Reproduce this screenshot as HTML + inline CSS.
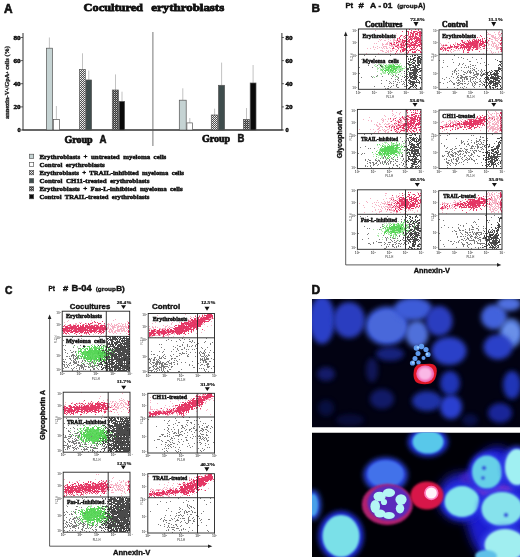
<!DOCTYPE html>
<html><head><meta charset="utf-8"><title>Cocultured erythroblasts</title>
<style>html,body{margin:0;padding:0;background:#fff;width:520px;height:557px;overflow:hidden}svg{display:block}text{font-family:"Liberation Sans",sans-serif;font-weight:bold}text.s{font-family:"Liberation Serif",serif}</style>
</head><body>
<svg width="520" height="557" viewBox="0 0 520 557">
<defs>
<pattern id="pat3" width="2" height="2" patternUnits="userSpaceOnUse"><rect width="2" height="2" fill="#505050"/><rect x="0" y="0" width="1" height="1" fill="#f4f4f4"/><rect x="1" y="1" width="1" height="1" fill="#d8d8d8"/></pattern>
<pattern id="pat5" width="2" height="2" patternUnits="userSpaceOnUse"><rect width="2" height="2" fill="#3a3a3a"/><rect x="0" y="0" width="1" height="1" fill="#c8c8c8"/><rect x="1" y="1" width="1" height="1" fill="#707070"/></pattern>
<filter id="b1" x="-50%" y="-50%" width="200%" height="200%"><feGaussianBlur stdDeviation="1.2"/></filter>
<filter id="b2" x="-50%" y="-50%" width="200%" height="200%"><feGaussianBlur stdDeviation="2.5"/></filter>
<filter id="b3" x="-50%" y="-50%" width="200%" height="200%"><feGaussianBlur stdDeviation="5"/></filter>
<filter id="bd" x="-5%" y="-5%" width="110%" height="110%"><feGaussianBlur stdDeviation="0.5"/></filter>
<filter id="b05" x="-50%" y="-50%" width="200%" height="200%"><feGaussianBlur stdDeviation="0.6"/></filter>
<clipPath id="cl1"><rect x="312" y="299" width="208" height="128.5"/></clipPath>
<clipPath id="cl2"><rect x="312" y="432.5" width="208" height="124.5"/></clipPath>
</defs>
<rect width="520" height="557" fill="#fff"/>
<text x="4" y="12.7" font-size="13.5" text-anchor="start" fill="#111" stroke="#111" stroke-width="0.68" textLength="8.6" lengthAdjust="spacingAndGlyphs" >A</text><text class="s" x="83.6" y="11.1" font-size="11.2" text-anchor="start" fill="#111" stroke="#111" stroke-width="0.78" textLength="59.4" lengthAdjust="spacingAndGlyphs" >Cocultured</text><text class="s" x="151.3" y="11.1" font-size="11.2" text-anchor="start" fill="#111" stroke="#111" stroke-width="0.78" textLength="72.9" lengthAdjust="spacingAndGlyphs" >erythroblasts</text><g stroke="#333" stroke-width="1" fill="none"><line x1="23" y1="33" x2="23" y2="130.0"/><line x1="281.9" y1="33" x2="281.9" y2="130.0"/></g><line x1="22.5" y1="130.0" x2="282.5" y2="130.0" stroke="#333" stroke-width="1.3"/><line x1="152.9" y1="32" x2="152.9" y2="146" stroke="#555" stroke-width="0.8"/><line x1="21" y1="130" x2="23" y2="130" stroke="#333" stroke-width="0.8"/><line x1="281.9" y1="130" x2="283.9" y2="130" stroke="#333" stroke-width="0.8"/><text class="s" x="20.6" y="132.1" font-size="6.4" text-anchor="end" fill="#111" stroke="#111" stroke-width="0.45" textLength="3.2" lengthAdjust="spacingAndGlyphs" >0</text><text class="s" x="285.5" y="132.1" font-size="6.4" text-anchor="start" fill="#111" stroke="#111" stroke-width="0.45" textLength="3.2" lengthAdjust="spacingAndGlyphs" >0</text><line x1="21" y1="106.9" x2="23" y2="106.9" stroke="#333" stroke-width="0.8"/><line x1="281.9" y1="106.9" x2="283.9" y2="106.9" stroke="#333" stroke-width="0.8"/><text class="s" x="20.6" y="109" font-size="6.4" text-anchor="end" fill="#111" stroke="#111" stroke-width="0.45" textLength="7.2" lengthAdjust="spacingAndGlyphs" >20</text><text class="s" x="285.5" y="109" font-size="6.4" text-anchor="start" fill="#111" stroke="#111" stroke-width="0.45" textLength="7.2" lengthAdjust="spacingAndGlyphs" >20</text><line x1="21" y1="83.7" x2="23" y2="83.7" stroke="#333" stroke-width="0.8"/><line x1="281.9" y1="83.7" x2="283.9" y2="83.7" stroke="#333" stroke-width="0.8"/><text class="s" x="20.6" y="85.8" font-size="6.4" text-anchor="end" fill="#111" stroke="#111" stroke-width="0.45" textLength="7.2" lengthAdjust="spacingAndGlyphs" >40</text><text class="s" x="285.5" y="85.8" font-size="6.4" text-anchor="start" fill="#111" stroke="#111" stroke-width="0.45" textLength="7.2" lengthAdjust="spacingAndGlyphs" >40</text><line x1="21" y1="60.6" x2="23" y2="60.6" stroke="#333" stroke-width="0.8"/><line x1="281.9" y1="60.6" x2="283.9" y2="60.6" stroke="#333" stroke-width="0.8"/><text class="s" x="20.6" y="62.7" font-size="6.4" text-anchor="end" fill="#111" stroke="#111" stroke-width="0.45" textLength="7.2" lengthAdjust="spacingAndGlyphs" >60</text><text class="s" x="285.5" y="62.7" font-size="6.4" text-anchor="start" fill="#111" stroke="#111" stroke-width="0.45" textLength="7.2" lengthAdjust="spacingAndGlyphs" >60</text><line x1="21" y1="37.5" x2="23" y2="37.5" stroke="#333" stroke-width="0.8"/><line x1="281.9" y1="37.5" x2="283.9" y2="37.5" stroke="#333" stroke-width="0.8"/><text class="s" x="20.6" y="39.6" font-size="6.4" text-anchor="end" fill="#111" stroke="#111" stroke-width="0.45" textLength="7.2" lengthAdjust="spacingAndGlyphs" >80</text><text class="s" x="285.5" y="39.6" font-size="6.4" text-anchor="start" fill="#111" stroke="#111" stroke-width="0.45" textLength="7.2" lengthAdjust="spacingAndGlyphs" >80</text><text class="s" transform="translate(9.3,82.5) rotate(-90)" font-size="5.6" text-anchor="middle" fill="#222" stroke="#222" stroke-width="0.3" textLength="73" lengthAdjust="spacingAndGlyphs">annexin-V<tspan dy="-1.5" font-size="3.5">+</tspan><tspan dy="1.5">/GpA</tspan><tspan dy="-1.5" font-size="3.5">+</tspan><tspan dy="1.5"> cells  (%)</tspan></text><line x1="49.4" y1="37.5" x2="49.4" y2="48.2" stroke="#999" stroke-width="0.6"/><rect x="46.4" y="48.2" width="6.1" height="81.8" fill="#c5d3d3" stroke="#555" stroke-width="0.7"/><line x1="56.4" y1="106" x2="56.4" y2="119.5" stroke="#999" stroke-width="0.6"/><rect x="53.4" y="119.5" width="6" height="10.5" fill="#fff" stroke="#555" stroke-width="0.7"/><line x1="82.5" y1="53.3" x2="82.5" y2="69.5" stroke="#999" stroke-width="0.6"/><rect x="79.5" y="69.5" width="5.8" height="60.5" fill="url(#pat3)" stroke="#555" stroke-width="0.7"/><line x1="88.8" y1="70.5" x2="88.8" y2="80" stroke="#999" stroke-width="0.6"/><rect x="86" y="80" width="5.6" height="50" fill="#3f4d4d" stroke="#555" stroke-width="0.7"/><line x1="115.5" y1="74.4" x2="115.5" y2="90" stroke="#999" stroke-width="0.6"/><rect x="112.3" y="90" width="6.2" height="40" fill="url(#pat5)" stroke="#555" stroke-width="0.7"/><line x1="122" y1="91.7" x2="122" y2="101.4" stroke="#999" stroke-width="0.6"/><rect x="119.2" y="101.4" width="5.4" height="28.6" fill="#0a0a0a" stroke="#555" stroke-width="0.7"/><line x1="182.8" y1="88.3" x2="182.8" y2="100.2" stroke="#999" stroke-width="0.6"/><rect x="179.3" y="100.2" width="6.9" height="29.8" fill="#c5d3d3" stroke="#555" stroke-width="0.7"/><line x1="189.8" y1="118" x2="189.8" y2="122.9" stroke="#999" stroke-width="0.6"/><rect x="186.9" y="122.9" width="5.6" height="7.1" fill="#fff" stroke="#555" stroke-width="0.7"/><line x1="214.6" y1="108.7" x2="214.6" y2="115" stroke="#999" stroke-width="0.6"/><rect x="211.3" y="115" width="6.5" height="15" fill="url(#pat3)" stroke="#555" stroke-width="0.7"/><line x1="221.6" y1="62.6" x2="221.6" y2="85.3" stroke="#999" stroke-width="0.6"/><rect x="218.5" y="85.3" width="6.1" height="44.7" fill="#3f4d4d" stroke="#555" stroke-width="0.7"/><line x1="246.5" y1="108" x2="246.5" y2="119.5" stroke="#999" stroke-width="0.6"/><rect x="243.5" y="119.5" width="5.9" height="10.5" fill="url(#pat5)" stroke="#555" stroke-width="0.7"/><line x1="253.1" y1="65" x2="253.1" y2="83" stroke="#999" stroke-width="0.6"/><rect x="250.2" y="83" width="5.8" height="47" fill="#0a0a0a" stroke="#555" stroke-width="0.7"/><text class="s" x="64.5" y="142.6" font-size="10" text-anchor="start" fill="#111" stroke="#111" stroke-width="0.7" textLength="28.2" lengthAdjust="spacingAndGlyphs" >Group</text><text x="99.6" y="142.6" font-size="10" text-anchor="start" fill="#111" stroke="#111" stroke-width="0.5" textLength="7" lengthAdjust="spacingAndGlyphs" >A</text><text class="s" x="201.9" y="142.3" font-size="10" text-anchor="start" fill="#111" stroke="#111" stroke-width="0.7" textLength="28.2" lengthAdjust="spacingAndGlyphs" >Group</text><text x="237.5" y="142.3" font-size="10" text-anchor="start" fill="#111" stroke="#111" stroke-width="0.5" textLength="6.9" lengthAdjust="spacingAndGlyphs" >B</text><rect x="29.5" y="154.2" width="4.2" height="4.2" fill="#c5d3d3" stroke="#444" stroke-width="0.6"/><text class="s" x="39.4" y="158.5" font-size="6.4" text-anchor="start" fill="#111" stroke="#111" stroke-width="0.45" textLength="126.9" lengthAdjust="spacingAndGlyphs" xml:space="preserve">Erythroblasts  +  untreated  myeloma  cells</text><rect x="29.5" y="162.3" width="4.2" height="4.2" fill="#fff" stroke="#444" stroke-width="0.6"/><text class="s" x="39.4" y="166.6" font-size="6.4" text-anchor="start" fill="#111" stroke="#111" stroke-width="0.45" textLength="65.4" lengthAdjust="spacingAndGlyphs" xml:space="preserve">Control  erythroblasts</text><rect x="29.5" y="170.6" width="4.2" height="4.2" fill="url(#pat3)" stroke="#444" stroke-width="0.6"/><text class="s" x="39.4" y="174.9" font-size="6.4" text-anchor="start" fill="#111" stroke="#111" stroke-width="0.45" textLength="144.6" lengthAdjust="spacingAndGlyphs" xml:space="preserve">Erythroblasts  +  TRAIL-inhibited  myeloma  cells</text><rect x="29.5" y="178.7" width="4.2" height="4.2" fill="#3f4d4d" stroke="#444" stroke-width="0.6"/><text class="s" x="39.4" y="183" font-size="6.4" text-anchor="start" fill="#111" stroke="#111" stroke-width="0.45" textLength="110" lengthAdjust="spacingAndGlyphs" xml:space="preserve">Control  CH11-treated  erythroblasts</text><rect x="29.5" y="186.7" width="4.2" height="4.2" fill="url(#pat5)" stroke="#444" stroke-width="0.6"/><text class="s" x="39.4" y="191" font-size="6.4" text-anchor="start" fill="#111" stroke="#111" stroke-width="0.45" textLength="143.3" lengthAdjust="spacingAndGlyphs" xml:space="preserve">Erythroblasts  +  Fas-L-inhibited  myeloma  cells</text><rect x="29.5" y="194.6" width="4.2" height="4.2" fill="#0a0a0a" stroke="#444" stroke-width="0.6"/><text class="s" x="39.4" y="198.9" font-size="6.4" text-anchor="start" fill="#111" stroke="#111" stroke-width="0.45" textLength="110" lengthAdjust="spacingAndGlyphs" xml:space="preserve">Control  TRAIL-treated  erythroblasts</text><text x="311.5" y="12" font-size="11.5" text-anchor="start" fill="#111" stroke="#111" stroke-width="0.58" textLength="8.5" lengthAdjust="spacingAndGlyphs" >B</text><text x="345.4" y="7.8" font-size="8" text-anchor="start" fill="#111" stroke="#111" stroke-width="0.4" textLength="7.6" lengthAdjust="spacingAndGlyphs" >Pt</text><text x="358.5" y="7.8" font-size="8" text-anchor="start" fill="#111" stroke="#111" stroke-width="0.4" textLength="5.3" lengthAdjust="spacingAndGlyphs" >#</text><text x="370" y="7.8" font-size="8" text-anchor="start" fill="#111" stroke="#111" stroke-width="0.4" textLength="6.2" lengthAdjust="spacingAndGlyphs" >A</text><text x="378.5" y="7.8" font-size="8" text-anchor="start" fill="#111" stroke="#111" stroke-width="0.4" textLength="2.6" lengthAdjust="spacingAndGlyphs" >-</text><text x="383" y="7.8" font-size="8" text-anchor="start" fill="#111" stroke="#111" stroke-width="0.4" textLength="9.3" lengthAdjust="spacingAndGlyphs" >01</text><text x="397.2" y="8.2" font-size="6" text-anchor="start" fill="#111" stroke="#111" stroke-width="0.3" textLength="20.4" lengthAdjust="spacingAndGlyphs" >(group</text><text x="418" y="8.2" font-size="6.8" text-anchor="start" fill="#111" stroke="#111" stroke-width="0.34" textLength="7.2" lengthAdjust="spacingAndGlyphs" >A)</text><text class="s" x="365" y="26.8" font-size="7.6" text-anchor="start" fill="#111" stroke="#111" stroke-width="0.53" textLength="37.3" lengthAdjust="spacingAndGlyphs" >Cocultures</text><text class="s" x="442" y="27.1" font-size="7.6" text-anchor="start" fill="#111" stroke="#111" stroke-width="0.53" textLength="25.9" lengthAdjust="spacingAndGlyphs" >Control</text><g stroke="#333" stroke-width="0.8" fill="none"><polyline points="345.7,35 345.7,264.9 498,264.9"/></g><polygon points="343.9,36 347.5,36 345.7,31.5" fill="#222"/><polygon points="497,263.1 497,266.7 501.3,264.9" fill="#222"/><text transform="translate(341.6,134.2) rotate(-90)" font-size="7" text-anchor="middle" fill="#111" stroke="#111" stroke-width="0.35" font-family="Liberation Sans, sans-serif" font-weight="bold" textLength="48" lengthAdjust="spacingAndGlyphs">Glycophorin A</text><text x="413.7" y="272.9" font-size="7.2" text-anchor="start" fill="#111" stroke="#111" stroke-width="0.36" textLength="36.3" lengthAdjust="spacingAndGlyphs" >Annexin-V</text><path d="M359 67.5h1M359 73.5h1M359 82.5h1M361 59.5h1M361 77.5h1M364 55.5h1M368 62.5h1M368 65.5h1M370 60.5h1M371 76.5h1M372 67.5h1M372 77.5h1M374 77.5h1M374 86.5h1M375 56.5h1M376 76.5h1M377 65.5h1M377 75.5h1M381 74.5h1M381 80.5h1M381 83.5h1M382 76.5h1M384 86.5h1M385 88.5h1M386 59.5h1M386 80.5h1M387 88.5h1M388 74.5h1M388 86.5h1M388 88.5h1M389 61.5h1M389 81.5h1M389 83.5h1M390 55.5h1M390 69.5h1M390 70.5h1M390 82.5h1M390 87.5h1M391 59.5h1M391 78.5h1M391 83.5h1M391 86.5h1M392 67.5h1M392 73.5h1M392 76.5h1M393 62.5h1M393 75.5h1M393 81.5h1M393 83.5h1M393 85.5h1M395 75.5h1M395 79.5h1M395 81.5h1M396 76.5h1M396 84.5h1M396 85.5h1M396 86.5h1M397 67.5h1M397 79.5h1M397 82.5h1M397 84.5h1M397 87.5h1M398 65.5h1M398 74.5h1M398 77.5h1M398 78.5h1M398 80.5h1M398 87.5h1M399 82.5h1M400 71.5h1M401 79.5h1M401 81.5h1M402 76.5h1M402 84.5h1M403 81.5h1M403 83.5h1M404 73.5h1M404 77.5h1M404 82.5h1M404 84.5h1M404 86.5h1M405 79.5h1M405 80.5h1M405 86.5h1M407 56.5h1M408 58.5h1M408 88.5h1M409 76.5h1M409 81.5h1M410 67.5h1M410 68.5h1M410 75.5h1M411 73.5h1M413 58.5h1M413 59.5h1M413 84.5h1M414 75.5h1M415 77.5h1M416 85.5h1M420 62.5h1M421 68.5h1" stroke="#444" stroke-width="1" stroke-opacity="0.7" fill="none"/><path d="M404 71.5h1M404 75.5h1M404 77.5h1M405 76.5h1M406 63.5h1M406 66.5h1M406 71.5h1M406 73.5h1M406 84.5h1M407 56.5h1M407 63.5h1M407 68.5h1M407 69.5h1M407 70.5h1M407 72.5h1M407 74.5h1M407 76.5h1M407 78.5h1M407 85.5h1M408 59.5h1M408 61.5h1M408 63.5h1M408 64.5h1M408 68.5h1M408 69.5h1M408 71.5h1M408 77.5h1M408 80.5h1M408 82.5h1M408 88.5h1M409 61.5h1M409 62.5h1M409 64.5h1M409 65.5h1M409 66.5h1M409 67.5h1M409 72.5h1M409 73.5h1M409 74.5h1M409 75.5h1M409 79.5h1M409 80.5h1M409 83.5h1M409 87.5h1M409 88.5h1M410 56.5h1M410 58.5h1M410 59.5h1M410 60.5h1M410 62.5h1M410 64.5h1M410 65.5h1M410 68.5h1M410 69.5h1M410 70.5h1M410 72.5h1M410 73.5h1M410 74.5h1M410 76.5h1M410 77.5h1M410 78.5h1M410 80.5h1M410 81.5h1M410 82.5h1M410 83.5h1M410 84.5h1M410 86.5h1M410 87.5h1M411 59.5h1M411 62.5h1M411 64.5h1M411 67.5h1M411 70.5h1M411 72.5h1M411 74.5h1M411 76.5h1M411 77.5h1M411 78.5h1M411 81.5h1M411 82.5h1M411 84.5h1M411 86.5h1M412 55.5h1M412 56.5h1M412 59.5h1M412 61.5h1M412 63.5h1M412 65.5h1M412 67.5h1M412 69.5h1M412 70.5h1M412 72.5h1M412 73.5h1M412 75.5h1M412 76.5h1M412 77.5h1M412 79.5h1M412 81.5h1M412 82.5h1M412 83.5h1M412 84.5h1M412 85.5h1M412 86.5h1M413 58.5h1M413 59.5h1M413 60.5h1M413 62.5h1M413 63.5h1M413 65.5h1M413 66.5h1M413 67.5h1M413 69.5h1M413 70.5h1M413 71.5h1M413 72.5h1M413 73.5h1M413 74.5h1M413 75.5h1M413 77.5h1M413 78.5h1M413 79.5h1M413 81.5h1M413 82.5h1M413 83.5h1M413 84.5h1M413 85.5h1M413 87.5h1M414 55.5h1M414 57.5h1M414 58.5h1M414 60.5h1M414 62.5h1M414 63.5h1M414 66.5h1M414 67.5h1M414 68.5h1M414 69.5h1M414 70.5h1M414 71.5h1M414 72.5h1M414 73.5h1M414 74.5h1M414 75.5h1M414 76.5h1M414 77.5h1M414 78.5h1M414 79.5h1M414 81.5h1M414 82.5h1M414 83.5h1M414 86.5h1M415 55.5h1M415 57.5h1M415 60.5h1M415 61.5h1M415 64.5h1M415 65.5h1M415 66.5h1M415 67.5h1M415 68.5h1M415 69.5h1M415 70.5h1M415 71.5h1M415 72.5h1M415 73.5h1M415 74.5h1M415 75.5h1M415 76.5h1M415 77.5h1M415 78.5h1M415 79.5h1M415 82.5h1M415 84.5h1M415 85.5h1M415 87.5h1M416 65.5h1M416 68.5h1M416 69.5h1M416 70.5h1M416 71.5h1M416 72.5h1M416 73.5h1M416 75.5h1M416 76.5h1M416 77.5h1M416 78.5h1M416 80.5h1M416 81.5h1M416 82.5h1M416 85.5h1M416 86.5h1M416 88.5h1M417 55.5h1M417 57.5h1M417 58.5h1M417 59.5h1M417 60.5h1M417 61.5h1M417 62.5h1M417 63.5h1M417 65.5h1M417 66.5h1M417 67.5h1M417 69.5h1M417 70.5h1M417 71.5h1M417 74.5h1M417 76.5h1M417 79.5h1M417 82.5h1M418 56.5h1M418 57.5h1M418 58.5h1M418 59.5h1M418 60.5h1M418 61.5h1M418 62.5h1M418 63.5h1M418 64.5h1M418 65.5h1M418 67.5h1M418 69.5h1M418 72.5h1M418 80.5h1M418 82.5h1M419 56.5h1M419 57.5h1M419 58.5h1M419 60.5h1M419 61.5h1M419 62.5h1M419 64.5h1M419 65.5h1M419 68.5h1M419 69.5h1M419 71.5h1M419 75.5h1M419 77.5h1M419 81.5h1M419 82.5h1M419 83.5h1M420 56.5h1M420 58.5h1M420 59.5h1M420 60.5h1M420 61.5h1M420 62.5h1M420 63.5h1M420 68.5h1M420 70.5h1M420 71.5h1M420 75.5h1M420 77.5h1M420 78.5h1M420 87.5h1M420 88.5h1M421 57.5h1M421 59.5h1M421 70.5h1M421 79.5h1M421 82.5h1" stroke="#222" stroke-width="1" stroke-opacity="0.82" fill="none"/><path d="M373 76.5h1M374 65.5h1M374 77.5h1M375 64.5h1M375 66.5h1M376 66.5h1M377 67.5h1M377 68.5h1M377 69.5h1M377 71.5h1M377 76.5h1M378 64.5h1M378 68.5h1M379 64.5h1M379 67.5h1M380 64.5h1M380 66.5h1M380 68.5h1M380 69.5h1M380 70.5h1M380 73.5h1M381 64.5h1M381 65.5h1M381 66.5h1M381 67.5h1M381 69.5h1M381 70.5h1M381 73.5h1M381 74.5h1M382 65.5h1M382 66.5h1M382 67.5h1M382 68.5h1M382 69.5h1M382 70.5h1M382 71.5h1M382 72.5h1M383 64.5h1M383 66.5h1M383 67.5h1M383 68.5h1M383 69.5h1M383 71.5h1M383 72.5h1M383 73.5h1M384 65.5h1M384 67.5h1M384 68.5h1M384 70.5h1M384 72.5h1M384 73.5h1M385 63.5h1M385 65.5h1M385 66.5h1M385 67.5h1M385 68.5h1M385 69.5h1M385 70.5h1M385 71.5h1M385 72.5h1M385 73.5h1M386 64.5h1M386 65.5h1M386 66.5h1M386 67.5h1M386 68.5h1M386 69.5h1M387 65.5h1M387 66.5h1M387 67.5h1M387 68.5h1M387 70.5h1M388 62.5h1M388 64.5h1M388 65.5h1M388 66.5h1M388 67.5h1M388 68.5h1M388 69.5h1M388 71.5h1M388 73.5h1M389 62.5h1M389 63.5h1M389 64.5h1M389 67.5h1M389 68.5h1M389 69.5h1M389 70.5h1M389 71.5h1M389 72.5h1M389 73.5h1M390 59.5h1M390 61.5h1M390 64.5h1M390 65.5h1M390 66.5h1M390 67.5h1M390 69.5h1M390 70.5h1M390 72.5h1M390 74.5h1M391 62.5h1M391 63.5h1M391 64.5h1M391 65.5h1M391 66.5h1M391 67.5h1M391 68.5h1M391 70.5h1M391 71.5h1M391 73.5h1M391 75.5h1M392 64.5h1M392 65.5h1M392 66.5h1M392 67.5h1M392 69.5h1M392 70.5h1M392 71.5h1M392 72.5h1M392 73.5h1M392 74.5h1M393 64.5h1M393 65.5h1M393 66.5h1M393 68.5h1M393 69.5h1M393 70.5h1M393 71.5h1M393 74.5h1M394 61.5h1M394 63.5h1M394 65.5h1M394 66.5h1M394 68.5h1M394 69.5h1M394 71.5h1M395 63.5h1M395 64.5h1M395 66.5h1M395 67.5h1M395 68.5h1M395 70.5h1M395 72.5h1M395 73.5h1M395 74.5h1M395 77.5h1M396 63.5h1M396 64.5h1M396 66.5h1M396 67.5h1M396 68.5h1M396 69.5h1M396 70.5h1M396 72.5h1M396 73.5h1M397 66.5h1M397 67.5h1M397 68.5h1M397 69.5h1M397 71.5h1M397 72.5h1M397 76.5h1M397 77.5h1M398 61.5h1M398 65.5h1M398 66.5h1M398 67.5h1M398 68.5h1M398 69.5h1M398 70.5h1M398 72.5h1M399 64.5h1M399 65.5h1M399 66.5h1M399 67.5h1M399 68.5h1M399 69.5h1M399 70.5h1M399 71.5h1M399 72.5h1M400 63.5h1M400 67.5h1M400 68.5h1M400 70.5h1M400 75.5h1M401 65.5h1M401 66.5h1M401 67.5h1M401 68.5h1M401 69.5h1M401 70.5h1M401 73.5h1M402 68.5h1M402 69.5h1M402 70.5h1M403 68.5h1M404 66.5h1M404 68.5h1M404 75.5h1M405 67.5h1M407 70.5h1M407 72.5h1M409 66.5h1M410 62.5h1" stroke="#98e698" stroke-width="1" stroke-opacity="0.8" fill="none"/><path d="M381 69.5h1M382 66.5h1M382 70.5h1M383 69.5h1M384 70.5h1M385 65.5h1M385 66.5h1M385 68.5h1M385 70.5h1M385 71.5h1M386 67.5h1M386 69.5h1M386 70.5h1M387 67.5h1M387 69.5h1M387 70.5h1M387 72.5h1M388 66.5h1M388 67.5h1M388 68.5h1M388 69.5h1M388 70.5h1M388 71.5h1M388 73.5h1M389 65.5h1M389 66.5h1M389 67.5h1M389 68.5h1M389 72.5h1M390 65.5h1M390 66.5h1M390 67.5h1M390 69.5h1M390 70.5h1M390 71.5h1M391 65.5h1M391 66.5h1M391 67.5h1M391 68.5h1M391 69.5h1M391 70.5h1M391 72.5h1M392 63.5h1M392 66.5h1M392 68.5h1M392 70.5h1M392 71.5h1M393 64.5h1M393 65.5h1M393 66.5h1M393 67.5h1M393 68.5h1M393 69.5h1M393 70.5h1M393 72.5h1M394 65.5h1M394 66.5h1M394 67.5h1M394 68.5h1M394 69.5h1M394 72.5h1M395 66.5h1M395 68.5h1M395 69.5h1M395 70.5h1M395 71.5h1M396 66.5h1M396 67.5h1M396 68.5h1M396 70.5h1M397 64.5h1M397 66.5h1M397 67.5h1M398 66.5h1M399 66.5h1M399 67.5h1M399 71.5h1M400 66.5h1M400 69.5h1M402 68.5h1" stroke="#48d248" stroke-width="1" stroke-opacity="0.85" fill="none"/><path d="M366 53.5h1M367 48.5h1M370 48.5h1M373 46.5h1M373 47.5h1M374 43.5h1M374 49.5h1M375 30.5h1M375 47.5h1M376 43.5h1M377 46.5h1M377 48.5h1M378 41.5h1M378 53.5h1M379 39.5h1M379 47.5h1M380 40.5h1M380 50.5h1M381 39.5h1M381 47.5h1M381 50.5h1M382 43.5h1M382 44.5h1M382 45.5h1M382 48.5h1M382 50.5h1M382 51.5h1M383 44.5h1M383 46.5h1M383 47.5h1M383 51.5h1M384 38.5h1M384 40.5h1M384 46.5h1M384 48.5h1M385 38.5h1M385 40.5h1M385 44.5h1M385 46.5h1M385 52.5h1M386 36.5h1M386 37.5h1M386 38.5h1M386 43.5h1M386 44.5h1M386 46.5h1M386 47.5h1M386 48.5h1M386 50.5h1M386 52.5h1M387 42.5h1M387 43.5h1M387 44.5h1M387 48.5h1M387 51.5h1M388 39.5h1M388 41.5h1M388 50.5h1M388 51.5h1M388 52.5h1M389 33.5h1M389 42.5h1M389 43.5h1M389 44.5h1M389 45.5h1M389 47.5h1M390 40.5h1M390 42.5h1M390 43.5h1M390 45.5h1M390 48.5h1M390 50.5h1M390 51.5h1M390 53.5h1M391 42.5h1M391 43.5h1M391 44.5h1M391 45.5h1M391 46.5h1M391 51.5h1M392 44.5h1M392 45.5h1M392 46.5h1M392 48.5h1M392 49.5h1M392 50.5h1M393 38.5h1M393 39.5h1M393 40.5h1M393 41.5h1M393 42.5h1M393 43.5h1M393 46.5h1M393 50.5h1M394 38.5h1M394 39.5h1M394 40.5h1M394 42.5h1M394 43.5h1M394 44.5h1M394 45.5h1M394 48.5h1M395 36.5h1M395 37.5h1M395 38.5h1M395 40.5h1M395 44.5h1M395 45.5h1M395 49.5h1M396 33.5h1M396 35.5h1M396 40.5h1M396 41.5h1M396 45.5h1M396 46.5h1M396 49.5h1M396 52.5h1M397 40.5h1M397 42.5h1M397 44.5h1M397 45.5h1M397 46.5h1M397 53.5h1M398 38.5h1M398 40.5h1M398 41.5h1M398 42.5h1M398 43.5h1M398 44.5h1M398 46.5h1M398 47.5h1M398 48.5h1M398 49.5h1M399 37.5h1M399 39.5h1M399 40.5h1M399 41.5h1M399 42.5h1M399 46.5h1M399 47.5h1M399 53.5h1M400 35.5h1M400 39.5h1M400 40.5h1M400 41.5h1M400 42.5h1M400 43.5h1M400 44.5h1M400 45.5h1M400 46.5h1M400 50.5h1M400 52.5h1M401 35.5h1M401 41.5h1M401 42.5h1M401 45.5h1M401 48.5h1M401 49.5h1M401 52.5h1M402 35.5h1M402 40.5h1M402 41.5h1M402 43.5h1M402 44.5h1M402 45.5h1M402 46.5h1M402 47.5h1M402 49.5h1M403 36.5h1M403 37.5h1M403 40.5h1M403 41.5h1M403 42.5h1M403 44.5h1M403 46.5h1M403 47.5h1M404 36.5h1M404 38.5h1M404 41.5h1M404 44.5h1M404 50.5h1M404 53.5h1M405 38.5h1M405 40.5h1M405 41.5h1M405 44.5h1M405 45.5h1M405 50.5h1M405 52.5h1M406 37.5h1M406 38.5h1M406 39.5h1M406 41.5h1M406 43.5h1M406 46.5h1M406 47.5h1M406 50.5h1M407 39.5h1M407 43.5h1M407 44.5h1M407 45.5h1M407 46.5h1M407 50.5h1M407 52.5h1M408 35.5h1M408 36.5h1M408 37.5h1M408 41.5h1M408 42.5h1M408 43.5h1M408 45.5h1M408 46.5h1M409 39.5h1M409 44.5h1M409 47.5h1M409 48.5h1M409 50.5h1M410 33.5h1M410 39.5h1M410 42.5h1M410 43.5h1M410 44.5h1M410 50.5h1M411 31.5h1M411 36.5h1M411 37.5h1M411 45.5h1M411 47.5h1M412 38.5h1M412 42.5h1M412 45.5h1M413 38.5h1M413 43.5h1M413 46.5h1M414 31.5h1M414 36.5h1M414 47.5h1M414 48.5h1M414 49.5h1M415 44.5h1M415 49.5h1M416 33.5h1M416 45.5h1M416 46.5h1M417 31.5h1M417 34.5h1M417 35.5h1M418 35.5h1M419 38.5h1M419 44.5h1M420 37.5h1M420 51.5h1M421 42.5h1" stroke="#f0809e" stroke-width="1" stroke-opacity="0.6" fill="none"/><path d="M390 43.5h1M391 43.5h1M391 44.5h1M392 48.5h1M393 44.5h1M393 47.5h1M393 48.5h1M394 42.5h1M394 44.5h1M395 46.5h1M395 53.5h1M396 42.5h1M396 43.5h1M396 46.5h1M396 51.5h1M397 38.5h1M397 39.5h1M397 40.5h1M397 42.5h1M397 45.5h1M397 47.5h1M397 50.5h1M398 41.5h1M398 44.5h1M398 45.5h1M398 48.5h1M399 37.5h1M399 38.5h1M399 41.5h1M400 36.5h1M400 39.5h1M400 44.5h1M400 47.5h1M400 50.5h1M400 51.5h1M401 35.5h1M401 43.5h1M401 44.5h1M401 45.5h1M401 46.5h1M401 47.5h1M402 31.5h1M402 39.5h1M402 40.5h1M402 41.5h1M402 42.5h1M402 45.5h1M402 47.5h1M402 49.5h1M402 50.5h1M402 51.5h1M403 40.5h1M403 42.5h1M403 43.5h1M403 44.5h1M403 45.5h1M403 47.5h1M403 48.5h1M403 49.5h1M403 50.5h1M403 51.5h1M404 36.5h1M404 38.5h1M404 40.5h1M404 41.5h1M404 42.5h1M404 45.5h1M404 46.5h1M404 48.5h1M404 49.5h1M404 50.5h1M405 35.5h1M405 37.5h1M405 40.5h1M405 41.5h1M405 43.5h1M405 44.5h1M405 48.5h1M405 49.5h1M406 31.5h1M406 35.5h1M406 40.5h1M406 41.5h1M406 42.5h1M406 44.5h1M406 45.5h1M406 47.5h1M407 31.5h1M407 35.5h1M407 39.5h1M407 41.5h1M407 43.5h1M407 44.5h1M407 46.5h1M407 47.5h1M407 50.5h1M407 53.5h1M408 31.5h1M408 32.5h1M408 33.5h1M408 34.5h1M408 38.5h1M408 40.5h1M408 41.5h1M408 44.5h1M408 46.5h1M408 51.5h1M408 52.5h1M409 29.5h1M409 36.5h1M409 37.5h1M409 39.5h1M409 40.5h1M409 41.5h1M409 42.5h1M409 44.5h1M409 45.5h1M409 46.5h1M409 47.5h1M409 50.5h1M410 32.5h1M410 34.5h1M410 35.5h1M410 36.5h1M410 37.5h1M410 38.5h1M410 39.5h1M410 43.5h1M410 45.5h1M410 46.5h1M410 49.5h1M410 50.5h1M411 30.5h1M411 32.5h1M411 33.5h1M411 36.5h1M411 38.5h1M411 39.5h1M411 40.5h1M411 42.5h1M411 43.5h1M411 44.5h1M411 45.5h1M411 47.5h1M411 49.5h1M412 33.5h1M412 34.5h1M412 35.5h1M412 36.5h1M412 37.5h1M412 39.5h1M412 41.5h1M412 42.5h1M412 44.5h1M412 45.5h1M412 48.5h1M412 49.5h1M412 51.5h1M412 52.5h1M413 31.5h1M413 32.5h1M413 33.5h1M413 34.5h1M413 35.5h1M413 36.5h1M413 38.5h1M413 42.5h1M413 44.5h1M413 45.5h1M413 47.5h1M413 49.5h1M413 52.5h1M414 31.5h1M414 32.5h1M414 37.5h1M414 38.5h1M414 39.5h1M414 41.5h1M414 43.5h1M414 44.5h1M414 45.5h1M414 46.5h1M414 47.5h1M414 49.5h1M414 51.5h1M414 52.5h1M415 29.5h1M415 31.5h1M415 33.5h1M415 34.5h1M415 35.5h1M415 36.5h1M415 37.5h1M415 38.5h1M415 40.5h1M415 41.5h1M415 42.5h1M415 43.5h1M415 44.5h1M415 45.5h1M415 48.5h1M415 51.5h1M415 52.5h1M416 31.5h1M416 33.5h1M416 34.5h1M416 36.5h1M416 37.5h1M416 38.5h1M416 39.5h1M416 40.5h1M416 41.5h1M416 42.5h1M416 43.5h1M416 45.5h1M416 47.5h1M416 50.5h1M417 32.5h1M417 33.5h1M417 34.5h1M417 37.5h1M417 38.5h1M417 39.5h1M417 40.5h1M417 41.5h1M417 43.5h1M417 45.5h1M417 46.5h1M417 49.5h1M418 29.5h1M418 30.5h1M418 32.5h1M418 37.5h1M418 38.5h1M418 39.5h1M418 40.5h1M418 42.5h1M418 44.5h1M418 45.5h1M418 50.5h1M419 31.5h1M419 32.5h1M419 33.5h1M419 34.5h1M419 35.5h1M419 36.5h1M419 38.5h1M419 39.5h1M419 40.5h1M419 41.5h1M419 42.5h1M419 44.5h1M419 45.5h1M419 46.5h1M419 50.5h1M420 31.5h1M420 32.5h1M420 33.5h1M420 34.5h1M420 35.5h1M420 36.5h1M420 37.5h1M420 38.5h1M420 39.5h1M420 40.5h1M420 41.5h1M420 42.5h1M420 43.5h1M420 44.5h1M420 46.5h1M420 48.5h1M420 51.5h1M420 52.5h1M421 32.5h1M421 33.5h1M421 35.5h1M421 40.5h1M421 43.5h1M421 44.5h1M421 45.5h1M421 47.5h1M421 48.5h1M421 49.5h1M421 52.5h1" stroke="#e01c50" stroke-width="1" stroke-opacity="0.85" fill="none"/><g stroke="#222" stroke-width="0.9" fill="none"><rect x="358.4" y="29" width="63.5" height="60.3"/><line x1="358.4" y1="54.3" x2="421.9" y2="54.3"/><line x1="406.5" y1="29" x2="406.5" y2="89.3"/></g><text x="358.4" y="93.5" font-size="3.4" text-anchor="middle" fill="#555">10<tspan dy="-1" font-size="2.4">0</tspan></text><line x1="358.4" y1="89.3" x2="358.4" y2="90.3" stroke="#444" stroke-width="0.5"/><text x="374.3" y="93.5" font-size="3.4" text-anchor="middle" fill="#555">10<tspan dy="-1" font-size="2.4">1</tspan></text><line x1="374.3" y1="89.3" x2="374.3" y2="90.3" stroke="#444" stroke-width="0.5"/><text x="390.1" y="93.5" font-size="3.4" text-anchor="middle" fill="#555">10<tspan dy="-1" font-size="2.4">2</tspan></text><line x1="390.1" y1="89.3" x2="390.1" y2="90.3" stroke="#444" stroke-width="0.5"/><text x="406" y="93.5" font-size="3.4" text-anchor="middle" fill="#555">10<tspan dy="-1" font-size="2.4">3</tspan></text><line x1="406" y1="89.3" x2="406" y2="90.3" stroke="#444" stroke-width="0.5"/><text x="421.9" y="93.5" font-size="3.4" text-anchor="middle" fill="#555">10<tspan dy="-1" font-size="2.4">4</tspan></text><line x1="421.9" y1="89.3" x2="421.9" y2="90.3" stroke="#444" stroke-width="0.5"/><text x="390.1" y="97.6" font-size="2.8" text-anchor="middle" fill="#666">FL1-H</text><text x="357.2" y="31.5" font-size="3.2" text-anchor="end" fill="#666">10<tspan dy="-1" font-size="2.3">1</tspan></text><text x="357.2" y="43.6" font-size="3.2" text-anchor="end" fill="#666">10<tspan dy="-1" font-size="2.3">1</tspan></text><text x="357.2" y="57.3" font-size="3.2" text-anchor="end" fill="#666">10<tspan dy="-1" font-size="2.3">1</tspan></text><text x="357.2" y="74.5" font-size="3.2" text-anchor="end" fill="#666">10<tspan dy="-1" font-size="2.3">1</tspan></text><text x="357.2" y="89.3" font-size="3.2" text-anchor="end" fill="#666">10<tspan dy="-1" font-size="2.3">1</tspan></text><text transform="translate(353.4,57.3) rotate(-90)" font-size="2.8" text-anchor="middle" fill="#777">FL2-H</text><rect x="361.7" y="33" width="34.8" height="5.8" fill="#fff"/><text class="s" x="362.5" y="37.6" font-size="5.8" text-anchor="start" fill="#111" stroke="#111" stroke-width="0.45" textLength="33.2" lengthAdjust="spacingAndGlyphs" xml:space="preserve">Erythroblasts</text><rect x="361.7" y="58" width="37.9" height="5.8" fill="#fff"/><text class="s" x="362.5" y="62.6" font-size="5.8" text-anchor="start" fill="#111" stroke="#111" stroke-width="0.45" textLength="36.3" lengthAdjust="spacingAndGlyphs" xml:space="preserve">Myeloma  cells</text><line x1="379.9" y1="65" x2="382.6" y2="67.2" stroke="#111" stroke-width="0.9"/><path d="M439 60.5h1M439 82.5h1M440 82.5h1M442 67.5h1M442 78.5h1M443 60.5h1M443 62.5h1M443 83.5h1M444 79.5h1M446 77.5h1M447 66.5h1M447 82.5h1M447 87.5h1M449 78.5h1M449 81.5h1M450 80.5h1M451 76.5h1M451 81.5h1M452 59.5h1M452 71.5h1M452 73.5h1M452 74.5h1M452 82.5h1M453 62.5h1M453 77.5h1M453 83.5h1M453 84.5h1M454 55.5h1M454 70.5h1M454 71.5h1M454 72.5h1M454 83.5h1M454 84.5h1M454 87.5h1M455 69.5h1M455 70.5h1M456 68.5h1M456 71.5h1M456 73.5h1M456 74.5h1M456 78.5h1M456 82.5h1M457 76.5h1M457 77.5h1M457 80.5h1M457 83.5h1M457 85.5h1M457 88.5h1M458 57.5h1M458 65.5h1M458 70.5h1M458 73.5h1M458 75.5h1M458 77.5h1M458 79.5h1M458 80.5h1M458 82.5h1M458 83.5h1M458 85.5h1M459 63.5h1M459 64.5h1M459 80.5h1M459 82.5h1M459 84.5h1M460 75.5h1M460 77.5h1M460 78.5h1M460 81.5h1M460 83.5h1M460 87.5h1M461 57.5h1M461 67.5h1M461 70.5h1M461 75.5h1M461 76.5h1M461 77.5h1M461 78.5h1M461 83.5h1M462 64.5h1M462 76.5h1M462 77.5h1M462 79.5h1M462 80.5h1M462 81.5h1M462 83.5h1M462 84.5h1M462 87.5h1M463 58.5h1M463 63.5h1M463 71.5h1M463 74.5h1M463 77.5h1M463 88.5h1M464 67.5h1M464 72.5h1M464 74.5h1M464 77.5h1M464 78.5h1M464 79.5h1M464 81.5h1M464 83.5h1M464 86.5h1M465 65.5h1M465 72.5h1M465 76.5h1M465 77.5h1M465 83.5h1M466 67.5h1M466 73.5h1M466 76.5h1M466 77.5h1M466 78.5h1M466 79.5h1M466 87.5h1M467 59.5h1M467 71.5h1M467 72.5h1M467 76.5h1M467 78.5h1M467 79.5h1M467 84.5h1M468 66.5h1M468 67.5h1M468 70.5h1M468 81.5h1M468 83.5h1M469 61.5h1M469 71.5h1M469 72.5h1M469 76.5h1M470 61.5h1M470 64.5h1M470 66.5h1M470 68.5h1M470 70.5h1M470 71.5h1M470 72.5h1M470 73.5h1M470 76.5h1M470 78.5h1M470 79.5h1M470 80.5h1M470 81.5h1M471 72.5h1M471 77.5h1M471 82.5h1M472 57.5h1M472 65.5h1M472 68.5h1M472 70.5h1M472 77.5h1M472 79.5h1M472 83.5h1M472 84.5h1M472 85.5h1M473 65.5h1M473 69.5h1M473 72.5h1M473 73.5h1M473 75.5h1M473 77.5h1M473 78.5h1M473 81.5h1M473 86.5h1M474 67.5h1M474 69.5h1M474 70.5h1M474 74.5h1M474 75.5h1M474 77.5h1M474 82.5h1M474 83.5h1M474 85.5h1M474 87.5h1M475 65.5h1M475 71.5h1M475 74.5h1M475 76.5h1M475 79.5h1M475 81.5h1M475 83.5h1M475 84.5h1M476 59.5h1M476 68.5h1M476 71.5h1M476 72.5h1M476 73.5h1M476 74.5h1M476 76.5h1M476 77.5h1M476 82.5h1M477 62.5h1M477 73.5h1M477 74.5h1M477 75.5h1M477 78.5h1M477 82.5h1M478 70.5h1M478 73.5h1M478 74.5h1M479 79.5h1M479 81.5h1M479 84.5h1M479 86.5h1M480 63.5h1M480 71.5h1M480 74.5h1M480 75.5h1M480 78.5h1M480 80.5h1M480 81.5h1M480 84.5h1M481 58.5h1M481 69.5h1M481 70.5h1M481 72.5h1M481 73.5h1M481 75.5h1M481 76.5h1M481 82.5h1M482 71.5h1M482 74.5h1M482 83.5h1M482 85.5h1M483 73.5h1M483 74.5h1M483 81.5h1M484 62.5h1M484 73.5h1M484 74.5h1M485 65.5h1M485 72.5h1M485 74.5h1M485 77.5h1M485 80.5h1M485 81.5h1M485 82.5h1M486 82.5h1M486 86.5h1M487 85.5h1M488 64.5h1M488 75.5h1M488 80.5h1M489 75.5h1M489 81.5h1M489 87.5h1M490 77.5h1M492 78.5h1M492 81.5h1M493 85.5h1M494 74.5h1M494 78.5h1M494 84.5h1M495 59.5h1M495 79.5h1M495 83.5h1M498 70.5h1M498 75.5h1M498 82.5h1M499 71.5h1M501 68.5h1" stroke="#444" stroke-width="1" stroke-opacity="0.7" fill="none"/><path d="M482 75.5h1M483 74.5h1M483 84.5h1M484 70.5h1M484 78.5h1M484 82.5h1M484 84.5h1M484 85.5h1M485 77.5h1M485 79.5h1M485 86.5h1M485 87.5h1M486 73.5h1M486 75.5h1M486 77.5h1M486 78.5h1M486 86.5h1M487 72.5h1M487 73.5h1M487 74.5h1M487 76.5h1M487 77.5h1M487 78.5h1M487 79.5h1M487 82.5h1M487 85.5h1M488 72.5h1M488 75.5h1M488 77.5h1M488 78.5h1M488 79.5h1M488 80.5h1M488 83.5h1M488 84.5h1M489 71.5h1M489 75.5h1M489 79.5h1M489 81.5h1M489 82.5h1M489 83.5h1M489 85.5h1M489 86.5h1M490 72.5h1M490 73.5h1M490 74.5h1M490 77.5h1M490 78.5h1M490 80.5h1M490 81.5h1M490 82.5h1M490 83.5h1M490 84.5h1M490 86.5h1M490 87.5h1M490 88.5h1M491 70.5h1M491 72.5h1M491 74.5h1M491 75.5h1M491 76.5h1M491 77.5h1M491 78.5h1M491 80.5h1M491 81.5h1M491 82.5h1M491 83.5h1M492 71.5h1M492 74.5h1M492 76.5h1M492 77.5h1M492 78.5h1M492 81.5h1M492 82.5h1M492 85.5h1M492 87.5h1M493 73.5h1M493 74.5h1M493 76.5h1M493 77.5h1M493 78.5h1M493 79.5h1M493 80.5h1M493 81.5h1M493 82.5h1M493 83.5h1M493 84.5h1M493 85.5h1M493 87.5h1M493 88.5h1M494 70.5h1M494 72.5h1M494 73.5h1M494 74.5h1M494 75.5h1M494 77.5h1M494 78.5h1M494 79.5h1M494 81.5h1M494 83.5h1M494 85.5h1M495 70.5h1M495 71.5h1M495 73.5h1M495 74.5h1M495 75.5h1M495 76.5h1M495 77.5h1M495 78.5h1M495 79.5h1M495 80.5h1M495 81.5h1M495 82.5h1M495 83.5h1M495 84.5h1M495 85.5h1M495 86.5h1M495 87.5h1M496 70.5h1M496 71.5h1M496 72.5h1M496 73.5h1M496 74.5h1M496 75.5h1M496 77.5h1M496 78.5h1M496 79.5h1M496 80.5h1M496 82.5h1M496 83.5h1M496 84.5h1M496 86.5h1M497 60.5h1M497 70.5h1M497 71.5h1M497 72.5h1M497 73.5h1M497 74.5h1M497 75.5h1M497 76.5h1M497 77.5h1M497 78.5h1M497 79.5h1M497 80.5h1M497 82.5h1M497 83.5h1M497 84.5h1M497 85.5h1M497 86.5h1M497 88.5h1M498 65.5h1M498 67.5h1M498 68.5h1M498 69.5h1M498 70.5h1M498 73.5h1M498 76.5h1M498 77.5h1M498 78.5h1M498 80.5h1M498 81.5h1M498 83.5h1M499 61.5h1M499 64.5h1M499 67.5h1M499 68.5h1M499 69.5h1M499 71.5h1M499 76.5h1M499 78.5h1M499 80.5h1M499 81.5h1M499 82.5h1M499 84.5h1M500 61.5h1M500 62.5h1M500 64.5h1M500 65.5h1M500 68.5h1M500 69.5h1M500 76.5h1M500 79.5h1M500 82.5h1M500 85.5h1M500 86.5h1M500 88.5h1M501 61.5h1M501 63.5h1M501 66.5h1M501 70.5h1M501 77.5h1M501 78.5h1M501 87.5h1" stroke="#222" stroke-width="1" stroke-opacity="0.82" fill="none"/><path d="M440 43.5h1M441 44.5h1M441 45.5h1M441 48.5h1M442 45.5h1M442 46.5h1M442 47.5h1M442 48.5h1M442 49.5h1M442 51.5h1M443 44.5h1M443 45.5h1M443 46.5h1M443 47.5h1M443 49.5h1M443 50.5h1M444 45.5h1M444 47.5h1M444 48.5h1M444 49.5h1M445 44.5h1M445 47.5h1M445 48.5h1M445 49.5h1M446 39.5h1M446 44.5h1M446 45.5h1M446 48.5h1M446 49.5h1M446 53.5h1M447 45.5h1M447 50.5h1M448 42.5h1M448 46.5h1M448 47.5h1M448 48.5h1M448 50.5h1M448 51.5h1M449 47.5h1M450 44.5h1M450 45.5h1M450 48.5h1M450 50.5h1M450 51.5h1M451 46.5h1M451 49.5h1M451 52.5h1M452 46.5h1M452 47.5h1M453 44.5h1M453 47.5h1M453 49.5h1M453 51.5h1M454 45.5h1M454 47.5h1M454 50.5h1M455 42.5h1M455 43.5h1M455 44.5h1M455 46.5h1M455 47.5h1M455 48.5h1M455 50.5h1M456 48.5h1M457 45.5h1M457 46.5h1M457 47.5h1M457 50.5h1M458 44.5h1M458 45.5h1M458 48.5h1M458 49.5h1M459 45.5h1M459 48.5h1M459 50.5h1M460 43.5h1M460 46.5h1M460 47.5h1M461 41.5h1M461 44.5h1M461 46.5h1M461 47.5h1M462 42.5h1M462 49.5h1M463 43.5h1M463 44.5h1M463 46.5h1M464 41.5h1M464 43.5h1M464 48.5h1M465 41.5h1M465 43.5h1M465 46.5h1M465 47.5h1M466 42.5h1M466 45.5h1M466 47.5h1M467 40.5h1M467 41.5h1M467 43.5h1M467 44.5h1M467 45.5h1M468 42.5h1M468 44.5h1M468 45.5h1M468 46.5h1M468 51.5h1M469 39.5h1M469 41.5h1M469 44.5h1M469 45.5h1M469 46.5h1M470 41.5h1M470 43.5h1M470 46.5h1M470 49.5h1M471 43.5h1M471 47.5h1M471 49.5h1M472 39.5h1M472 41.5h1M472 42.5h1M472 43.5h1M472 44.5h1M473 41.5h1M473 43.5h1M473 48.5h1M474 39.5h1M474 43.5h1M474 45.5h1M475 41.5h1M475 44.5h1M475 45.5h1M475 46.5h1M476 39.5h1M476 41.5h1M476 42.5h1M476 43.5h1M476 45.5h1M477 40.5h1M477 41.5h1M477 42.5h1M477 43.5h1M478 39.5h1M478 41.5h1M478 43.5h1M478 44.5h1M478 45.5h1M478 46.5h1M478 47.5h1M478 48.5h1M479 37.5h1M479 40.5h1M479 44.5h1M479 47.5h1M479 48.5h1M480 42.5h1M480 49.5h1M481 43.5h1M481 45.5h1M481 49.5h1M482 38.5h1M482 40.5h1M482 41.5h1M482 42.5h1M482 43.5h1M483 41.5h1M483 44.5h1M483 45.5h1M483 53.5h1M484 47.5h1M485 40.5h1M486 41.5h1M486 42.5h1M486 43.5h1M486 45.5h1M486 46.5h1M486 47.5h1M486 50.5h1M487 32.5h1M487 34.5h1M487 37.5h1M487 39.5h1M487 41.5h1M487 42.5h1M487 43.5h1M487 48.5h1M487 50.5h1M488 33.5h1M488 34.5h1M488 41.5h1M488 43.5h1M488 44.5h1M488 45.5h1M489 34.5h1M489 38.5h1M489 40.5h1M489 44.5h1M489 48.5h1M490 34.5h1M490 38.5h1M490 50.5h1M491 35.5h1M491 36.5h1M491 39.5h1M491 41.5h1M491 44.5h1M491 45.5h1M491 48.5h1M491 51.5h1M491 52.5h1M492 35.5h1M492 36.5h1M492 37.5h1M492 39.5h1M492 41.5h1M492 42.5h1M492 43.5h1M492 46.5h1M492 53.5h1M493 35.5h1M493 36.5h1M493 37.5h1M493 43.5h1M493 44.5h1M493 45.5h1M493 46.5h1M493 52.5h1M494 32.5h1M494 37.5h1M494 38.5h1M494 42.5h1M494 43.5h1M494 47.5h1M495 34.5h1M495 36.5h1M495 37.5h1M495 38.5h1M495 39.5h1M495 40.5h1M495 43.5h1M495 45.5h1M495 46.5h1M495 52.5h1M496 38.5h1M496 40.5h1M496 44.5h1M496 45.5h1M496 46.5h1M496 47.5h1M496 48.5h1M496 49.5h1M497 38.5h1M497 40.5h1M497 41.5h1M497 46.5h1M497 47.5h1M497 48.5h1M497 49.5h1M498 32.5h1M498 33.5h1M498 34.5h1M498 37.5h1M498 39.5h1M498 42.5h1M498 44.5h1M498 45.5h1M498 47.5h1M498 48.5h1M498 51.5h1M498 52.5h1M499 31.5h1M499 32.5h1M499 34.5h1M499 35.5h1M499 36.5h1M499 38.5h1M499 42.5h1M499 43.5h1M499 47.5h1M500 34.5h1M500 35.5h1M500 37.5h1M500 48.5h1M500 51.5h1M501 43.5h1M501 44.5h1M501 49.5h1" stroke="#f0809e" stroke-width="1" stroke-opacity="0.6" fill="none"/><path d="M440 48.5h1M440 49.5h1M441 47.5h1M441 49.5h1M442 48.5h1M443 45.5h1M443 47.5h1M443 50.5h1M444 48.5h1M445 45.5h1M445 48.5h1M445 49.5h1M445 50.5h1M446 45.5h1M447 47.5h1M447 48.5h1M447 50.5h1M448 47.5h1M448 50.5h1M449 47.5h1M449 48.5h1M450 45.5h1M450 46.5h1M450 47.5h1M451 46.5h1M451 47.5h1M451 49.5h1M452 46.5h1M453 44.5h1M454 45.5h1M454 46.5h1M454 47.5h1M455 46.5h1M456 46.5h1M456 47.5h1M456 48.5h1M457 43.5h1M457 44.5h1M457 46.5h1M457 47.5h1M458 44.5h1M458 46.5h1M458 48.5h1M459 44.5h1M460 43.5h1M460 45.5h1M460 47.5h1M460 48.5h1M461 40.5h1M461 44.5h1M461 45.5h1M461 46.5h1M461 47.5h1M462 40.5h1M462 41.5h1M462 42.5h1M462 44.5h1M462 45.5h1M462 47.5h1M462 48.5h1M463 42.5h1M463 44.5h1M463 45.5h1M463 46.5h1M463 47.5h1M463 50.5h1M463 51.5h1M463 52.5h1M464 42.5h1M464 43.5h1M464 45.5h1M464 46.5h1M464 47.5h1M464 48.5h1M464 49.5h1M465 43.5h1M465 44.5h1M465 46.5h1M465 47.5h1M466 43.5h1M466 44.5h1M466 45.5h1M466 46.5h1M466 47.5h1M466 48.5h1M467 40.5h1M467 43.5h1M467 44.5h1M467 45.5h1M467 46.5h1M467 47.5h1M467 49.5h1M467 50.5h1M467 52.5h1M468 41.5h1M468 42.5h1M468 43.5h1M468 44.5h1M468 45.5h1M468 46.5h1M468 47.5h1M468 48.5h1M468 49.5h1M468 50.5h1M468 52.5h1M469 40.5h1M469 42.5h1M469 43.5h1M469 44.5h1M469 46.5h1M469 47.5h1M469 48.5h1M469 49.5h1M469 50.5h1M470 41.5h1M470 42.5h1M470 43.5h1M470 44.5h1M470 45.5h1M470 46.5h1M470 47.5h1M470 48.5h1M471 42.5h1M471 43.5h1M471 44.5h1M471 45.5h1M471 46.5h1M472 40.5h1M472 41.5h1M472 42.5h1M472 43.5h1M472 44.5h1M472 45.5h1M472 47.5h1M472 49.5h1M472 50.5h1M473 39.5h1M473 41.5h1M473 42.5h1M473 43.5h1M473 44.5h1M473 45.5h1M473 46.5h1M473 47.5h1M473 48.5h1M474 39.5h1M474 40.5h1M474 41.5h1M474 42.5h1M474 43.5h1M474 44.5h1M474 45.5h1M474 46.5h1M474 47.5h1M475 40.5h1M475 41.5h1M475 42.5h1M475 43.5h1M475 44.5h1M475 45.5h1M475 46.5h1M475 47.5h1M475 49.5h1M476 38.5h1M476 39.5h1M476 40.5h1M476 41.5h1M476 42.5h1M476 43.5h1M476 44.5h1M476 45.5h1M476 46.5h1M476 47.5h1M476 48.5h1M476 49.5h1M477 37.5h1M477 41.5h1M477 42.5h1M477 43.5h1M477 44.5h1M477 45.5h1M477 46.5h1M477 47.5h1M477 48.5h1M477 49.5h1M478 39.5h1M478 40.5h1M478 41.5h1M478 42.5h1M479 40.5h1M479 43.5h1M479 44.5h1M479 45.5h1M479 46.5h1M479 51.5h1M480 35.5h1M480 39.5h1M480 40.5h1M480 41.5h1M480 42.5h1M480 43.5h1M480 44.5h1M480 45.5h1M480 47.5h1M481 36.5h1M481 41.5h1M481 43.5h1M481 44.5h1M481 45.5h1M482 38.5h1M482 39.5h1M482 40.5h1M482 41.5h1M482 42.5h1M482 43.5h1M482 44.5h1M482 46.5h1M483 41.5h1M483 42.5h1M483 43.5h1M483 46.5h1M483 48.5h1M484 38.5h1M484 42.5h1M484 44.5h1M484 45.5h1M484 46.5h1M484 48.5h1M485 40.5h1M485 41.5h1M485 42.5h1M485 45.5h1M486 40.5h1M486 42.5h1M486 43.5h1M486 45.5h1M487 42.5h1M488 40.5h1M489 38.5h1M500 40.5h1M500 43.5h1M500 44.5h1M500 47.5h1M500 49.5h1M501 33.5h1M501 37.5h1M501 38.5h1M501 39.5h1M501 40.5h1M501 42.5h1M501 43.5h1M501 45.5h1M501 47.5h1M501 48.5h1M501 49.5h1M501 50.5h1M501 51.5h1" stroke="#e01c50" stroke-width="1" stroke-opacity="0.85" fill="none"/><g stroke="#222" stroke-width="0.9" fill="none"><rect x="439" y="29.8" width="63.2" height="59.5"/><line x1="439" y1="54.3" x2="502.2" y2="54.3"/><line x1="486.5" y1="29.8" x2="486.5" y2="89.3"/></g><text x="439" y="93.5" font-size="3.4" text-anchor="middle" fill="#555">10<tspan dy="-1" font-size="2.4">0</tspan></text><line x1="439" y1="89.3" x2="439" y2="90.3" stroke="#444" stroke-width="0.5"/><text x="454.8" y="93.5" font-size="3.4" text-anchor="middle" fill="#555">10<tspan dy="-1" font-size="2.4">1</tspan></text><line x1="454.8" y1="89.3" x2="454.8" y2="90.3" stroke="#444" stroke-width="0.5"/><text x="470.6" y="93.5" font-size="3.4" text-anchor="middle" fill="#555">10<tspan dy="-1" font-size="2.4">2</tspan></text><line x1="470.6" y1="89.3" x2="470.6" y2="90.3" stroke="#444" stroke-width="0.5"/><text x="486.4" y="93.5" font-size="3.4" text-anchor="middle" fill="#555">10<tspan dy="-1" font-size="2.4">3</tspan></text><line x1="486.4" y1="89.3" x2="486.4" y2="90.3" stroke="#444" stroke-width="0.5"/><text x="502.2" y="93.5" font-size="3.4" text-anchor="middle" fill="#555">10<tspan dy="-1" font-size="2.4">4</tspan></text><line x1="502.2" y1="89.3" x2="502.2" y2="90.3" stroke="#444" stroke-width="0.5"/><text x="470.6" y="97.6" font-size="2.8" text-anchor="middle" fill="#666">FL1-H</text><text x="437.8" y="32.3" font-size="3.2" text-anchor="end" fill="#666">10<tspan dy="-1" font-size="2.3">1</tspan></text><text x="437.8" y="44" font-size="3.2" text-anchor="end" fill="#666">10<tspan dy="-1" font-size="2.3">1</tspan></text><text x="437.8" y="57.3" font-size="3.2" text-anchor="end" fill="#666">10<tspan dy="-1" font-size="2.3">1</tspan></text><text x="437.8" y="74.5" font-size="3.2" text-anchor="end" fill="#666">10<tspan dy="-1" font-size="2.3">1</tspan></text><text x="437.8" y="89.3" font-size="3.2" text-anchor="end" fill="#666">10<tspan dy="-1" font-size="2.3">1</tspan></text><text transform="translate(434,57.3) rotate(-90)" font-size="2.8" text-anchor="middle" fill="#777">FL2-H</text><rect x="441.5" y="33.4" width="35.3" height="5.8" fill="#fff"/><text class="s" x="442.3" y="38" font-size="5.8" text-anchor="start" fill="#111" stroke="#111" stroke-width="0.45" textLength="33.7" lengthAdjust="spacingAndGlyphs" xml:space="preserve">Erythroblasts</text><path d="M358 153.5h1M360 147.5h1M361 154.5h1M362 153.5h1M364 134.5h1M364 153.5h1M365 146.5h1M365 159.5h1M365 160.5h1M365 165.5h1M365 166.5h1M367 161.5h1M367 163.5h1M367 166.5h1M368 148.5h1M368 159.5h1M369 136.5h1M369 160.5h1M369 162.5h1M370 148.5h1M370 160.5h1M370 162.5h1M370 163.5h1M370 165.5h1M370 166.5h1M371 134.5h1M371 167.5h1M372 162.5h1M373 139.5h1M373 162.5h1M373 163.5h1M373 164.5h1M373 165.5h1M374 148.5h1M374 164.5h1M375 159.5h1M375 160.5h1M375 163.5h1M376 158.5h1M376 160.5h1M376 162.5h1M376 163.5h1M377 161.5h1M377 165.5h1M378 160.5h1M378 164.5h1M379 160.5h1M379 161.5h1M380 158.5h1M380 162.5h1M380 163.5h1M381 147.5h1M382 161.5h1M382 162.5h1M382 163.5h1M383 157.5h1M383 158.5h1M383 164.5h1M384 153.5h1M384 156.5h1M384 161.5h1M384 162.5h1M385 138.5h1M385 152.5h1M385 157.5h1M385 160.5h1M385 161.5h1M385 162.5h1M386 159.5h1M386 163.5h1M386 164.5h1M387 162.5h1M388 153.5h1M388 161.5h1M388 163.5h1M388 164.5h1M389 159.5h1M389 160.5h1M389 167.5h1M390 139.5h1M390 161.5h1M390 162.5h1M390 163.5h1M391 148.5h1M391 158.5h1M391 161.5h1M392 158.5h1M392 159.5h1M392 167.5h1M393 154.5h1M393 157.5h1M393 159.5h1M393 161.5h1M393 164.5h1M393 165.5h1M394 156.5h1M395 160.5h1M395 163.5h1M396 161.5h1M396 165.5h1M397 141.5h1M397 145.5h1M397 157.5h1M397 159.5h1M397 161.5h1M397 165.5h1M397 166.5h1M399 144.5h1M399 164.5h1M399 167.5h1M400 137.5h1M401 156.5h1M401 162.5h1M402 141.5h1M402 152.5h1M402 154.5h1M402 155.5h1M402 160.5h1M402 165.5h1M403 158.5h1M403 159.5h1M403 164.5h1M404 161.5h1M404 166.5h1M405 141.5h1M405 142.5h1M405 162.5h1M406 164.5h1M407 155.5h1M408 138.5h1M408 139.5h1M408 157.5h1M408 161.5h1M409 135.5h1M409 144.5h1M410 159.5h1M411 147.5h1M411 163.5h1M411 166.5h1M412 167.5h1M413 154.5h1M413 156.5h1M413 162.5h1M414 162.5h1M416 139.5h1M416 164.5h1M416 166.5h1M416 167.5h1" stroke="#444" stroke-width="1" stroke-opacity="0.7" fill="none"/><path d="M402 156.5h1M403 143.5h1M403 163.5h1M404 146.5h1M404 150.5h1M405 146.5h1M406 134.5h1M406 136.5h1M406 140.5h1M406 146.5h1M406 150.5h1M406 153.5h1M406 160.5h1M406 161.5h1M406 164.5h1M407 134.5h1M407 138.5h1M407 148.5h1M407 149.5h1M407 150.5h1M407 152.5h1M407 153.5h1M407 155.5h1M407 160.5h1M407 167.5h1M408 140.5h1M408 145.5h1M408 149.5h1M408 151.5h1M408 152.5h1M408 156.5h1M408 157.5h1M408 158.5h1M408 159.5h1M408 161.5h1M409 137.5h1M409 141.5h1M409 142.5h1M409 143.5h1M409 149.5h1M409 150.5h1M409 152.5h1M409 153.5h1M409 154.5h1M409 156.5h1M409 158.5h1M409 159.5h1M410 135.5h1M410 137.5h1M410 138.5h1M410 140.5h1M410 142.5h1M410 144.5h1M410 146.5h1M410 147.5h1M410 148.5h1M410 150.5h1M410 154.5h1M410 155.5h1M410 156.5h1M410 160.5h1M410 167.5h1M411 135.5h1M411 137.5h1M411 139.5h1M411 141.5h1M411 143.5h1M411 144.5h1M411 145.5h1M411 146.5h1M411 147.5h1M411 149.5h1M411 150.5h1M411 151.5h1M411 152.5h1M411 153.5h1M411 156.5h1M411 159.5h1M411 160.5h1M411 163.5h1M411 165.5h1M411 167.5h1M412 134.5h1M412 138.5h1M412 139.5h1M412 140.5h1M412 143.5h1M412 144.5h1M412 145.5h1M412 147.5h1M412 148.5h1M412 149.5h1M412 150.5h1M412 151.5h1M412 152.5h1M412 153.5h1M412 156.5h1M412 158.5h1M412 159.5h1M412 160.5h1M412 161.5h1M412 163.5h1M412 164.5h1M412 165.5h1M412 166.5h1M413 137.5h1M413 138.5h1M413 139.5h1M413 140.5h1M413 144.5h1M413 145.5h1M413 146.5h1M413 147.5h1M413 148.5h1M413 150.5h1M413 151.5h1M413 153.5h1M413 154.5h1M413 155.5h1M413 156.5h1M413 157.5h1M413 159.5h1M413 161.5h1M413 163.5h1M413 164.5h1M413 166.5h1M414 134.5h1M414 138.5h1M414 139.5h1M414 140.5h1M414 141.5h1M414 144.5h1M414 145.5h1M414 146.5h1M414 147.5h1M414 148.5h1M414 149.5h1M414 150.5h1M414 151.5h1M414 152.5h1M414 153.5h1M414 154.5h1M414 155.5h1M414 156.5h1M414 158.5h1M414 159.5h1M414 160.5h1M414 161.5h1M414 162.5h1M414 163.5h1M414 164.5h1M415 134.5h1M415 135.5h1M415 138.5h1M415 141.5h1M415 146.5h1M415 147.5h1M415 149.5h1M415 150.5h1M415 151.5h1M415 152.5h1M415 153.5h1M415 154.5h1M415 156.5h1M415 157.5h1M415 158.5h1M415 159.5h1M415 160.5h1M415 161.5h1M415 162.5h1M415 164.5h1M415 166.5h1M415 167.5h1M416 137.5h1M416 139.5h1M416 140.5h1M416 141.5h1M416 142.5h1M416 144.5h1M416 146.5h1M416 147.5h1M416 149.5h1M416 150.5h1M416 151.5h1M416 153.5h1M416 154.5h1M416 155.5h1M416 157.5h1M416 158.5h1M416 159.5h1M416 161.5h1M416 162.5h1M416 164.5h1M417 138.5h1M417 141.5h1M417 143.5h1M417 144.5h1M417 145.5h1M417 147.5h1M417 149.5h1M417 150.5h1M417 151.5h1M417 152.5h1M417 153.5h1M417 155.5h1M417 156.5h1M417 159.5h1M417 163.5h1M417 166.5h1M418 139.5h1M418 140.5h1M418 141.5h1M418 143.5h1M418 144.5h1M418 145.5h1M418 146.5h1M418 147.5h1M418 149.5h1M418 150.5h1M418 151.5h1M418 152.5h1M418 153.5h1M418 155.5h1M418 159.5h1M418 161.5h1M418 162.5h1M418 165.5h1M418 167.5h1M419 135.5h1M419 136.5h1M419 137.5h1M419 138.5h1M419 139.5h1M419 140.5h1M419 142.5h1M419 143.5h1M419 147.5h1M419 148.5h1M419 153.5h1M419 154.5h1M419 155.5h1M419 160.5h1M419 161.5h1M419 166.5h1M420 138.5h1M420 139.5h1M420 141.5h1M420 142.5h1M420 146.5h1M420 148.5h1M420 156.5h1M420 160.5h1M420 162.5h1" stroke="#222" stroke-width="1" stroke-opacity="0.82" fill="none"/><path d="M373 154.5h1M373 156.5h1M375 153.5h1M376 156.5h1M376 158.5h1M377 141.5h1M377 145.5h1M377 150.5h1M378 147.5h1M378 153.5h1M378 155.5h1M378 157.5h1M378 159.5h1M379 149.5h1M379 150.5h1M379 152.5h1M379 153.5h1M379 155.5h1M380 145.5h1M380 151.5h1M380 152.5h1M380 155.5h1M381 147.5h1M381 148.5h1M381 150.5h1M381 153.5h1M381 155.5h1M381 156.5h1M381 157.5h1M382 143.5h1M382 149.5h1M382 150.5h1M382 152.5h1M382 153.5h1M382 154.5h1M382 155.5h1M382 156.5h1M382 157.5h1M382 158.5h1M383 144.5h1M383 151.5h1M383 153.5h1M384 142.5h1M384 145.5h1M384 146.5h1M384 149.5h1M384 150.5h1M384 151.5h1M384 152.5h1M384 153.5h1M384 154.5h1M384 155.5h1M384 163.5h1M385 142.5h1M385 143.5h1M385 145.5h1M385 148.5h1M385 149.5h1M385 150.5h1M385 151.5h1M385 152.5h1M385 153.5h1M385 154.5h1M385 158.5h1M386 142.5h1M386 147.5h1M386 148.5h1M386 149.5h1M386 150.5h1M386 152.5h1M386 155.5h1M386 158.5h1M387 143.5h1M387 145.5h1M387 146.5h1M387 147.5h1M387 148.5h1M387 149.5h1M387 151.5h1M387 152.5h1M387 153.5h1M387 154.5h1M387 155.5h1M387 157.5h1M387 160.5h1M388 141.5h1M388 146.5h1M388 147.5h1M388 148.5h1M388 149.5h1M388 150.5h1M388 152.5h1M388 153.5h1M388 156.5h1M389 141.5h1M389 147.5h1M389 148.5h1M389 149.5h1M389 150.5h1M389 151.5h1M389 152.5h1M389 153.5h1M389 155.5h1M389 157.5h1M390 146.5h1M390 147.5h1M390 148.5h1M390 149.5h1M390 150.5h1M390 152.5h1M390 154.5h1M391 143.5h1M391 144.5h1M391 146.5h1M391 147.5h1M391 148.5h1M391 150.5h1M391 151.5h1M391 152.5h1M391 153.5h1M391 157.5h1M392 143.5h1M392 144.5h1M392 145.5h1M392 146.5h1M392 147.5h1M392 148.5h1M392 149.5h1M392 150.5h1M392 151.5h1M392 152.5h1M392 153.5h1M392 155.5h1M392 158.5h1M392 159.5h1M393 143.5h1M393 144.5h1M393 146.5h1M393 147.5h1M393 148.5h1M393 149.5h1M393 150.5h1M393 152.5h1M393 153.5h1M393 154.5h1M394 143.5h1M394 145.5h1M394 146.5h1M394 147.5h1M394 149.5h1M394 150.5h1M394 151.5h1M394 152.5h1M394 153.5h1M394 154.5h1M394 156.5h1M395 141.5h1M395 144.5h1M395 145.5h1M395 148.5h1M395 149.5h1M395 150.5h1M395 151.5h1M395 152.5h1M395 154.5h1M395 155.5h1M396 143.5h1M396 144.5h1M396 145.5h1M396 147.5h1M396 148.5h1M396 149.5h1M396 150.5h1M396 151.5h1M396 154.5h1M397 141.5h1M397 149.5h1M397 150.5h1M397 151.5h1M397 152.5h1M397 153.5h1M397 155.5h1M397 156.5h1M398 140.5h1M398 141.5h1M398 144.5h1M398 145.5h1M398 147.5h1M398 148.5h1M398 149.5h1M398 151.5h1M398 152.5h1M398 153.5h1M399 144.5h1M399 145.5h1M399 147.5h1M399 150.5h1M399 151.5h1M399 152.5h1M399 154.5h1M399 155.5h1M400 146.5h1M400 148.5h1M400 150.5h1M400 151.5h1M400 152.5h1M400 158.5h1M401 144.5h1M401 145.5h1M401 146.5h1M401 152.5h1M402 146.5h1M402 152.5h1M403 143.5h1M403 145.5h1M403 147.5h1M404 140.5h1M404 143.5h1M404 147.5h1M405 149.5h1M408 151.5h1" stroke="#98e698" stroke-width="1" stroke-opacity="0.8" fill="none"/><path d="M372 152.5h1M376 151.5h1M376 154.5h1M376 156.5h1M377 144.5h1M377 154.5h1M378 152.5h1M379 144.5h1M379 151.5h1M379 152.5h1M379 153.5h1M379 154.5h1M380 148.5h1M380 149.5h1M380 150.5h1M380 152.5h1M380 153.5h1M380 154.5h1M381 147.5h1M381 149.5h1M381 150.5h1M381 151.5h1M381 153.5h1M381 154.5h1M382 145.5h1M382 146.5h1M382 148.5h1M382 149.5h1M382 150.5h1M382 151.5h1M382 152.5h1M382 155.5h1M383 146.5h1M383 148.5h1M383 149.5h1M383 150.5h1M383 151.5h1M383 153.5h1M383 154.5h1M384 147.5h1M384 148.5h1M384 149.5h1M384 150.5h1M384 151.5h1M384 152.5h1M384 153.5h1M384 154.5h1M384 155.5h1M385 146.5h1M385 147.5h1M385 148.5h1M385 149.5h1M385 150.5h1M385 151.5h1M385 152.5h1M385 153.5h1M385 156.5h1M386 147.5h1M386 148.5h1M386 149.5h1M386 150.5h1M386 151.5h1M386 153.5h1M386 154.5h1M386 155.5h1M387 146.5h1M387 147.5h1M387 148.5h1M387 149.5h1M387 150.5h1M387 151.5h1M387 152.5h1M387 153.5h1M387 154.5h1M387 157.5h1M387 158.5h1M388 144.5h1M388 146.5h1M388 147.5h1M388 148.5h1M388 149.5h1M388 150.5h1M388 151.5h1M388 152.5h1M388 153.5h1M388 154.5h1M388 155.5h1M388 156.5h1M388 158.5h1M389 145.5h1M389 146.5h1M389 147.5h1M389 148.5h1M389 149.5h1M389 150.5h1M389 151.5h1M389 153.5h1M389 155.5h1M389 157.5h1M390 146.5h1M390 147.5h1M390 148.5h1M390 149.5h1M390 150.5h1M390 151.5h1M390 152.5h1M390 153.5h1M390 154.5h1M390 156.5h1M391 142.5h1M391 145.5h1M391 146.5h1M391 147.5h1M391 148.5h1M391 149.5h1M391 150.5h1M391 151.5h1M391 152.5h1M391 153.5h1M391 154.5h1M392 146.5h1M392 147.5h1M392 148.5h1M392 149.5h1M392 150.5h1M392 151.5h1M392 152.5h1M392 153.5h1M393 140.5h1M393 143.5h1M393 145.5h1M393 146.5h1M393 147.5h1M393 148.5h1M393 149.5h1M393 150.5h1M393 151.5h1M393 152.5h1M393 153.5h1M394 145.5h1M394 148.5h1M394 150.5h1M394 151.5h1M394 152.5h1M394 153.5h1M394 156.5h1M395 145.5h1M395 147.5h1M395 148.5h1M395 149.5h1M395 150.5h1M395 151.5h1M395 152.5h1M395 154.5h1M395 159.5h1M396 142.5h1M396 145.5h1M396 146.5h1M396 147.5h1M396 148.5h1M396 149.5h1M396 150.5h1M396 151.5h1M396 152.5h1M396 154.5h1M396 155.5h1M397 144.5h1M397 146.5h1M397 147.5h1M397 148.5h1M397 151.5h1M398 147.5h1M398 152.5h1M399 143.5h1M399 147.5h1M399 149.5h1M399 153.5h1M400 149.5h1M401 147.5h1M401 153.5h1M402 146.5h1M402 149.5h1M406 147.5h1M406 153.5h1" stroke="#48d248" stroke-width="1" stroke-opacity="0.85" fill="none"/><path d="M359 129.5h1M363 119.5h1M368 120.5h1M369 117.5h1M370 129.5h1M371 120.5h1M371 121.5h1M373 129.5h1M374 124.5h1M374 132.5h1M375 131.5h1M376 124.5h1M376 125.5h1M377 122.5h1M377 125.5h1M377 126.5h1M377 129.5h1M378 126.5h1M378 128.5h1M378 129.5h1M378 131.5h1M378 132.5h1M379 123.5h1M379 124.5h1M379 127.5h1M379 128.5h1M379 130.5h1M380 124.5h1M380 126.5h1M380 130.5h1M381 119.5h1M381 126.5h1M382 118.5h1M382 120.5h1M382 122.5h1M382 127.5h1M382 129.5h1M383 119.5h1M383 120.5h1M383 121.5h1M383 130.5h1M384 115.5h1M384 124.5h1M384 129.5h1M384 131.5h1M385 116.5h1M385 119.5h1M385 123.5h1M385 130.5h1M385 131.5h1M385 132.5h1M386 124.5h1M386 126.5h1M386 127.5h1M386 130.5h1M387 121.5h1M387 124.5h1M387 127.5h1M387 129.5h1M387 132.5h1M388 118.5h1M388 119.5h1M388 123.5h1M388 124.5h1M388 126.5h1M388 129.5h1M388 131.5h1M388 132.5h1M389 123.5h1M389 125.5h1M389 126.5h1M389 127.5h1M389 128.5h1M390 118.5h1M390 119.5h1M390 121.5h1M390 125.5h1M390 130.5h1M391 124.5h1M391 126.5h1M391 128.5h1M391 129.5h1M391 130.5h1M392 110.5h1M392 111.5h1M392 113.5h1M392 115.5h1M392 120.5h1M392 124.5h1M392 125.5h1M392 126.5h1M393 114.5h1M393 118.5h1M393 119.5h1M393 120.5h1M393 125.5h1M393 126.5h1M393 127.5h1M393 128.5h1M393 133.5h1M394 116.5h1M394 118.5h1M394 123.5h1M394 124.5h1M394 127.5h1M394 128.5h1M394 130.5h1M395 115.5h1M395 120.5h1M395 122.5h1M395 123.5h1M395 124.5h1M395 125.5h1M396 112.5h1M396 117.5h1M396 121.5h1M396 125.5h1M396 126.5h1M396 127.5h1M396 131.5h1M396 132.5h1M397 120.5h1M397 121.5h1M397 124.5h1M397 125.5h1M397 126.5h1M397 127.5h1M397 129.5h1M397 131.5h1M398 120.5h1M398 121.5h1M398 123.5h1M398 125.5h1M398 127.5h1M398 128.5h1M398 131.5h1M399 113.5h1M399 114.5h1M399 117.5h1M399 121.5h1M399 122.5h1M399 124.5h1M399 126.5h1M400 112.5h1M400 119.5h1M400 120.5h1M400 121.5h1M400 122.5h1M400 123.5h1M400 124.5h1M400 125.5h1M400 129.5h1M400 130.5h1M401 117.5h1M401 119.5h1M401 120.5h1M401 121.5h1M401 122.5h1M401 123.5h1M401 125.5h1M401 126.5h1M401 127.5h1M401 129.5h1M401 130.5h1M402 117.5h1M402 118.5h1M402 121.5h1M402 123.5h1M402 124.5h1M402 127.5h1M403 117.5h1M403 118.5h1M403 119.5h1M403 123.5h1M403 125.5h1M403 127.5h1M403 128.5h1M403 129.5h1M403 131.5h1M404 116.5h1M404 117.5h1M404 118.5h1M404 120.5h1M404 124.5h1M404 126.5h1M404 129.5h1M404 131.5h1M405 117.5h1M405 120.5h1M405 122.5h1M405 123.5h1M405 125.5h1M405 126.5h1M406 118.5h1M406 121.5h1M406 123.5h1M406 125.5h1M406 126.5h1M406 127.5h1M406 129.5h1M406 130.5h1M406 131.5h1M407 113.5h1M407 119.5h1M407 120.5h1M407 125.5h1M407 126.5h1M408 115.5h1M408 116.5h1M408 117.5h1M408 119.5h1M408 122.5h1M408 123.5h1M408 125.5h1M408 126.5h1M408 132.5h1M409 115.5h1M409 119.5h1M409 128.5h1M409 130.5h1M410 118.5h1M410 119.5h1M410 120.5h1M410 125.5h1M410 126.5h1M410 129.5h1M410 131.5h1M411 116.5h1M411 118.5h1M411 128.5h1M411 129.5h1M411 131.5h1M412 114.5h1M412 117.5h1M412 119.5h1M412 120.5h1M412 122.5h1M412 126.5h1M412 127.5h1M413 114.5h1M413 118.5h1M413 125.5h1M414 113.5h1M414 118.5h1M414 125.5h1M414 129.5h1M414 132.5h1M415 111.5h1M415 118.5h1M415 119.5h1M415 120.5h1M415 131.5h1M416 123.5h1M416 124.5h1M416 129.5h1M417 111.5h1M417 117.5h1M417 120.5h1M417 123.5h1M417 124.5h1M417 127.5h1M418 115.5h1M419 115.5h1M419 119.5h1M419 122.5h1M419 123.5h1M419 124.5h1" stroke="#f0809e" stroke-width="1" stroke-opacity="0.6" fill="none"/><path d="M385 126.5h1M389 126.5h1M390 118.5h1M391 121.5h1M391 127.5h1M391 130.5h1M392 126.5h1M393 119.5h1M394 123.5h1M394 126.5h1M394 127.5h1M394 129.5h1M395 118.5h1M395 120.5h1M395 129.5h1M395 131.5h1M396 123.5h1M396 126.5h1M396 128.5h1M396 130.5h1M397 128.5h1M397 132.5h1M398 121.5h1M398 122.5h1M398 124.5h1M398 125.5h1M398 128.5h1M398 129.5h1M399 119.5h1M399 122.5h1M399 125.5h1M399 127.5h1M399 132.5h1M400 118.5h1M400 120.5h1M400 126.5h1M400 127.5h1M400 131.5h1M401 125.5h1M401 130.5h1M402 116.5h1M402 117.5h1M402 125.5h1M402 127.5h1M402 128.5h1M402 130.5h1M403 118.5h1M403 124.5h1M403 125.5h1M403 126.5h1M403 127.5h1M403 128.5h1M403 130.5h1M404 119.5h1M404 123.5h1M404 124.5h1M404 125.5h1M404 126.5h1M404 128.5h1M404 130.5h1M405 117.5h1M405 119.5h1M405 121.5h1M405 123.5h1M405 124.5h1M405 125.5h1M405 129.5h1M406 110.5h1M406 111.5h1M406 116.5h1M406 118.5h1M406 119.5h1M406 123.5h1M406 124.5h1M406 128.5h1M406 129.5h1M406 131.5h1M407 110.5h1M407 112.5h1M407 115.5h1M407 116.5h1M407 118.5h1M407 119.5h1M407 120.5h1M407 121.5h1M407 122.5h1M407 123.5h1M407 124.5h1M407 125.5h1M407 127.5h1M407 129.5h1M407 130.5h1M407 131.5h1M408 116.5h1M408 119.5h1M408 122.5h1M408 123.5h1M408 124.5h1M408 125.5h1M408 126.5h1M408 127.5h1M408 128.5h1M408 129.5h1M409 117.5h1M409 121.5h1M409 123.5h1M409 124.5h1M409 126.5h1M409 127.5h1M409 130.5h1M410 110.5h1M410 117.5h1M410 118.5h1M410 120.5h1M410 121.5h1M410 122.5h1M410 123.5h1M410 124.5h1M410 125.5h1M410 126.5h1M410 128.5h1M410 131.5h1M411 112.5h1M411 114.5h1M411 115.5h1M411 117.5h1M411 118.5h1M411 119.5h1M411 120.5h1M411 121.5h1M411 122.5h1M411 123.5h1M411 124.5h1M411 125.5h1M411 127.5h1M411 128.5h1M411 132.5h1M412 114.5h1M412 115.5h1M412 117.5h1M412 118.5h1M412 119.5h1M412 120.5h1M412 122.5h1M412 123.5h1M412 125.5h1M412 126.5h1M412 130.5h1M413 110.5h1M413 112.5h1M413 114.5h1M413 116.5h1M413 118.5h1M413 119.5h1M413 120.5h1M413 121.5h1M413 122.5h1M413 123.5h1M413 124.5h1M413 126.5h1M413 128.5h1M413 130.5h1M413 131.5h1M414 114.5h1M414 116.5h1M414 117.5h1M414 118.5h1M414 119.5h1M414 120.5h1M414 121.5h1M414 122.5h1M414 123.5h1M414 127.5h1M414 128.5h1M414 131.5h1M415 110.5h1M415 112.5h1M415 113.5h1M415 115.5h1M415 116.5h1M415 117.5h1M415 118.5h1M415 119.5h1M415 121.5h1M415 124.5h1M415 125.5h1M415 126.5h1M415 127.5h1M415 128.5h1M416 113.5h1M416 115.5h1M416 116.5h1M416 119.5h1M416 123.5h1M416 124.5h1M416 125.5h1M416 128.5h1M416 129.5h1M416 130.5h1M417 110.5h1M417 113.5h1M417 117.5h1M417 118.5h1M417 119.5h1M417 120.5h1M417 121.5h1M417 123.5h1M417 124.5h1M417 132.5h1M418 115.5h1M418 116.5h1M418 117.5h1M418 120.5h1M418 122.5h1M418 123.5h1M418 124.5h1M418 125.5h1M418 127.5h1M419 113.5h1M419 117.5h1M419 118.5h1M419 119.5h1M419 120.5h1M419 121.5h1M419 122.5h1M419 123.5h1M419 124.5h1M419 127.5h1M419 129.5h1M419 130.5h1M420 111.5h1M420 112.5h1M420 114.5h1M420 115.5h1M420 117.5h1M420 118.5h1M420 119.5h1M420 121.5h1M420 123.5h1M420 126.5h1M420 127.5h1M420 129.5h1M420 131.5h1" stroke="#e01c50" stroke-width="1" stroke-opacity="0.85" fill="none"/><g stroke="#222" stroke-width="0.9" fill="none"><rect x="357.4" y="109.4" width="63.6" height="59.2"/><line x1="357.4" y1="133.6" x2="421" y2="133.6"/><line x1="406.1" y1="109.4" x2="406.1" y2="168.6"/></g><text x="357.4" y="172.8" font-size="3.4" text-anchor="middle" fill="#555">10<tspan dy="-1" font-size="2.4">0</tspan></text><line x1="357.4" y1="168.6" x2="357.4" y2="169.6" stroke="#444" stroke-width="0.5"/><text x="373.3" y="172.8" font-size="3.4" text-anchor="middle" fill="#555">10<tspan dy="-1" font-size="2.4">1</tspan></text><line x1="373.3" y1="168.6" x2="373.3" y2="169.6" stroke="#444" stroke-width="0.5"/><text x="389.2" y="172.8" font-size="3.4" text-anchor="middle" fill="#555">10<tspan dy="-1" font-size="2.4">2</tspan></text><line x1="389.2" y1="168.6" x2="389.2" y2="169.6" stroke="#444" stroke-width="0.5"/><text x="405.1" y="172.8" font-size="3.4" text-anchor="middle" fill="#555">10<tspan dy="-1" font-size="2.4">3</tspan></text><line x1="405.1" y1="168.6" x2="405.1" y2="169.6" stroke="#444" stroke-width="0.5"/><text x="421" y="172.8" font-size="3.4" text-anchor="middle" fill="#555">10<tspan dy="-1" font-size="2.4">4</tspan></text><line x1="421" y1="168.6" x2="421" y2="169.6" stroke="#444" stroke-width="0.5"/><text x="389.2" y="176.9" font-size="2.8" text-anchor="middle" fill="#666">FL1-H</text><text x="356.2" y="111.9" font-size="3.2" text-anchor="end" fill="#666">10<tspan dy="-1" font-size="2.3">1</tspan></text><text x="356.2" y="123.5" font-size="3.2" text-anchor="end" fill="#666">10<tspan dy="-1" font-size="2.3">1</tspan></text><text x="356.2" y="136.6" font-size="3.2" text-anchor="end" fill="#666">10<tspan dy="-1" font-size="2.3">1</tspan></text><text x="356.2" y="153.8" font-size="3.2" text-anchor="end" fill="#666">10<tspan dy="-1" font-size="2.3">1</tspan></text><text x="356.2" y="168.6" font-size="3.2" text-anchor="end" fill="#666">10<tspan dy="-1" font-size="2.3">1</tspan></text><text transform="translate(352.4,136.6) rotate(-90)" font-size="2.8" text-anchor="middle" fill="#777">FL2-H</text><rect x="360.2" y="135.9" width="38.6" height="5.8" fill="#fff"/><text class="s" x="361" y="140.5" font-size="5.8" text-anchor="start" fill="#111" stroke="#111" stroke-width="0.45" textLength="37" lengthAdjust="spacingAndGlyphs" xml:space="preserve">TRAIL-inhibited</text><path d="M440 135.5h1M441 143.5h1M442 155.5h1M442 156.5h1M443 156.5h1M444 145.5h1M444 146.5h1M444 155.5h1M444 159.5h1M445 151.5h1M446 139.5h1M446 148.5h1M446 151.5h1M446 158.5h1M446 159.5h1M446 161.5h1M446 162.5h1M447 135.5h1M447 147.5h1M447 151.5h1M447 153.5h1M447 156.5h1M447 162.5h1M447 163.5h1M447 165.5h1M447 167.5h1M448 152.5h1M448 153.5h1M448 154.5h1M448 155.5h1M448 160.5h1M448 162.5h1M448 163.5h1M449 134.5h1M449 151.5h1M449 152.5h1M449 156.5h1M449 160.5h1M449 164.5h1M450 149.5h1M450 154.5h1M450 157.5h1M450 163.5h1M450 165.5h1M451 149.5h1M451 151.5h1M451 154.5h1M451 155.5h1M451 159.5h1M451 160.5h1M451 161.5h1M452 148.5h1M452 150.5h1M452 152.5h1M452 154.5h1M452 155.5h1M452 156.5h1M452 162.5h1M453 153.5h1M453 155.5h1M453 156.5h1M453 158.5h1M453 159.5h1M453 163.5h1M454 149.5h1M454 152.5h1M455 146.5h1M455 148.5h1M455 152.5h1M455 153.5h1M455 154.5h1M455 156.5h1M455 159.5h1M455 163.5h1M455 165.5h1M456 138.5h1M456 148.5h1M456 153.5h1M456 158.5h1M456 159.5h1M456 160.5h1M456 161.5h1M456 163.5h1M456 164.5h1M457 151.5h1M457 154.5h1M457 157.5h1M457 160.5h1M457 161.5h1M458 151.5h1M458 152.5h1M458 155.5h1M458 157.5h1M458 158.5h1M458 159.5h1M458 163.5h1M459 145.5h1M459 150.5h1M459 151.5h1M459 154.5h1M459 162.5h1M460 148.5h1M460 150.5h1M460 151.5h1M460 153.5h1M460 154.5h1M460 156.5h1M461 140.5h1M461 141.5h1M461 142.5h1M461 143.5h1M461 148.5h1M461 151.5h1M461 158.5h1M461 162.5h1M462 142.5h1M462 150.5h1M462 154.5h1M462 157.5h1M462 159.5h1M463 141.5h1M463 151.5h1M463 153.5h1M463 161.5h1M463 164.5h1M464 143.5h1M464 144.5h1M464 148.5h1M464 155.5h1M464 156.5h1M464 160.5h1M465 149.5h1M465 151.5h1M465 152.5h1M465 155.5h1M465 159.5h1M466 146.5h1M466 149.5h1M466 150.5h1M466 152.5h1M466 153.5h1M466 157.5h1M466 159.5h1M467 141.5h1M467 144.5h1M467 149.5h1M467 151.5h1M467 158.5h1M467 160.5h1M467 162.5h1M468 139.5h1M468 143.5h1M468 144.5h1M468 152.5h1M468 155.5h1M468 159.5h1M469 145.5h1M469 152.5h1M469 156.5h1M469 158.5h1M469 159.5h1M470 148.5h1M470 150.5h1M470 155.5h1M470 157.5h1M471 135.5h1M471 140.5h1M471 142.5h1M471 146.5h1M471 147.5h1M471 148.5h1M471 153.5h1M471 154.5h1M471 155.5h1M471 158.5h1M471 159.5h1M472 145.5h1M472 146.5h1M472 148.5h1M472 150.5h1M472 154.5h1M472 159.5h1M473 135.5h1M473 146.5h1M473 151.5h1M473 152.5h1M473 156.5h1M473 160.5h1M474 142.5h1M474 143.5h1M474 148.5h1M474 150.5h1M474 152.5h1M474 153.5h1M474 160.5h1M474 161.5h1M475 146.5h1M475 150.5h1M475 163.5h1M476 138.5h1M476 140.5h1M476 141.5h1M476 142.5h1M476 144.5h1M476 150.5h1M476 151.5h1M476 159.5h1M477 141.5h1M477 144.5h1M477 145.5h1M477 146.5h1M477 147.5h1M477 148.5h1M477 155.5h1M477 163.5h1M478 141.5h1M478 143.5h1M478 146.5h1M478 147.5h1M478 150.5h1M478 156.5h1M479 139.5h1M479 140.5h1M479 144.5h1M479 151.5h1M479 156.5h1M480 136.5h1M480 137.5h1M480 139.5h1M480 141.5h1M480 144.5h1M480 147.5h1M480 151.5h1M481 142.5h1M481 143.5h1M481 147.5h1M481 149.5h1M481 162.5h1M482 137.5h1M482 144.5h1M482 146.5h1M482 148.5h1M482 152.5h1M483 137.5h1M483 140.5h1M483 142.5h1M483 144.5h1M483 149.5h1M484 140.5h1M484 145.5h1M485 145.5h1M485 147.5h1M485 162.5h1M486 144.5h1M486 149.5h1M487 138.5h1M487 140.5h1M488 147.5h1M488 150.5h1M488 154.5h1M489 145.5h1M492 134.5h1M494 143.5h1M498 150.5h1M499 160.5h1M500 156.5h1" stroke="#444" stroke-width="1" stroke-opacity="0.7" fill="none"/><path d="M482 165.5h1M483 152.5h1M483 155.5h1M483 158.5h1M483 159.5h1M484 146.5h1M484 155.5h1M485 152.5h1M485 157.5h1M485 159.5h1M485 160.5h1M485 165.5h1M486 141.5h1M486 152.5h1M486 153.5h1M486 154.5h1M486 155.5h1M486 156.5h1M486 158.5h1M486 159.5h1M486 160.5h1M487 144.5h1M487 151.5h1M487 152.5h1M487 153.5h1M487 157.5h1M487 159.5h1M487 164.5h1M487 166.5h1M488 146.5h1M488 152.5h1M488 154.5h1M488 155.5h1M488 156.5h1M488 157.5h1M488 158.5h1M488 159.5h1M488 161.5h1M488 162.5h1M488 164.5h1M488 165.5h1M489 144.5h1M489 146.5h1M489 150.5h1M489 152.5h1M489 153.5h1M489 154.5h1M489 155.5h1M489 156.5h1M489 158.5h1M489 159.5h1M489 161.5h1M489 163.5h1M489 164.5h1M489 166.5h1M490 156.5h1M490 157.5h1M490 158.5h1M490 160.5h1M490 161.5h1M490 162.5h1M490 166.5h1M491 147.5h1M491 149.5h1M491 150.5h1M491 152.5h1M491 153.5h1M491 155.5h1M491 156.5h1M491 157.5h1M491 158.5h1M491 159.5h1M491 160.5h1M491 161.5h1M491 162.5h1M491 163.5h1M491 164.5h1M491 165.5h1M492 147.5h1M492 149.5h1M492 150.5h1M492 151.5h1M492 153.5h1M492 156.5h1M492 157.5h1M492 158.5h1M492 159.5h1M492 160.5h1M492 161.5h1M492 162.5h1M492 163.5h1M492 164.5h1M493 146.5h1M493 149.5h1M493 150.5h1M493 151.5h1M493 153.5h1M493 154.5h1M493 155.5h1M493 156.5h1M493 157.5h1M493 159.5h1M493 162.5h1M493 163.5h1M493 164.5h1M493 165.5h1M493 166.5h1M493 167.5h1M494 148.5h1M494 149.5h1M494 152.5h1M494 154.5h1M494 155.5h1M494 156.5h1M494 157.5h1M494 158.5h1M494 159.5h1M494 160.5h1M494 161.5h1M494 162.5h1M494 164.5h1M495 148.5h1M495 149.5h1M495 151.5h1M495 152.5h1M495 154.5h1M495 156.5h1M495 157.5h1M495 158.5h1M495 160.5h1M495 161.5h1M495 163.5h1M495 164.5h1M496 141.5h1M496 146.5h1M496 147.5h1M496 148.5h1M496 151.5h1M496 152.5h1M496 153.5h1M496 156.5h1M496 157.5h1M496 158.5h1M496 159.5h1M496 160.5h1M496 165.5h1M496 166.5h1M497 138.5h1M497 145.5h1M497 146.5h1M497 147.5h1M497 148.5h1M497 149.5h1M497 150.5h1M497 152.5h1M497 153.5h1M497 154.5h1M497 155.5h1M497 156.5h1M497 157.5h1M497 159.5h1M497 160.5h1M497 163.5h1M498 138.5h1M498 142.5h1M498 143.5h1M498 144.5h1M498 145.5h1M498 146.5h1M498 147.5h1M498 148.5h1M498 151.5h1M498 152.5h1M498 154.5h1M498 156.5h1M498 158.5h1M498 162.5h1M498 164.5h1M499 138.5h1M499 141.5h1M499 142.5h1M499 144.5h1M499 145.5h1M499 146.5h1M499 154.5h1M499 156.5h1M500 137.5h1M500 140.5h1M500 142.5h1M500 143.5h1M500 149.5h1M500 153.5h1M500 154.5h1M500 161.5h1M500 162.5h1M500 163.5h1M500 166.5h1M501 137.5h1M501 138.5h1M501 140.5h1M501 160.5h1" stroke="#222" stroke-width="1" stroke-opacity="0.82" fill="none"/><path d="M441 122.5h1M441 126.5h1M441 127.5h1M442 121.5h1M442 126.5h1M442 127.5h1M442 128.5h1M442 131.5h1M443 121.5h1M443 125.5h1M444 124.5h1M444 125.5h1M444 127.5h1M444 129.5h1M444 130.5h1M445 124.5h1M445 125.5h1M445 127.5h1M446 122.5h1M446 123.5h1M446 125.5h1M446 127.5h1M447 124.5h1M447 127.5h1M447 132.5h1M448 121.5h1M448 123.5h1M449 118.5h1M449 120.5h1M449 124.5h1M449 126.5h1M450 120.5h1M450 121.5h1M450 122.5h1M450 124.5h1M450 125.5h1M450 127.5h1M451 122.5h1M452 121.5h1M452 122.5h1M452 123.5h1M452 126.5h1M452 128.5h1M453 122.5h1M453 123.5h1M453 124.5h1M453 126.5h1M453 127.5h1M454 120.5h1M454 121.5h1M455 121.5h1M455 122.5h1M455 123.5h1M455 128.5h1M456 120.5h1M456 122.5h1M456 123.5h1M456 124.5h1M456 126.5h1M457 121.5h1M457 123.5h1M457 125.5h1M457 126.5h1M457 127.5h1M457 128.5h1M457 129.5h1M458 121.5h1M458 123.5h1M458 124.5h1M458 127.5h1M458 128.5h1M459 123.5h1M459 124.5h1M459 126.5h1M459 127.5h1M460 120.5h1M460 123.5h1M460 124.5h1M460 125.5h1M461 126.5h1M461 127.5h1M462 119.5h1M462 122.5h1M462 126.5h1M463 121.5h1M463 123.5h1M463 124.5h1M464 120.5h1M464 121.5h1M464 122.5h1M464 123.5h1M464 124.5h1M464 125.5h1M465 123.5h1M465 124.5h1M465 125.5h1M465 126.5h1M466 118.5h1M466 121.5h1M466 124.5h1M466 125.5h1M466 126.5h1M467 119.5h1M467 120.5h1M467 121.5h1M467 123.5h1M467 124.5h1M467 127.5h1M469 116.5h1M469 118.5h1M469 123.5h1M469 126.5h1M470 121.5h1M470 122.5h1M470 123.5h1M470 125.5h1M471 119.5h1M471 120.5h1M471 121.5h1M471 122.5h1M471 123.5h1M471 124.5h1M472 121.5h1M472 126.5h1M473 122.5h1M473 123.5h1M473 124.5h1M473 125.5h1M474 119.5h1M474 120.5h1M474 121.5h1M474 123.5h1M475 117.5h1M475 118.5h1M475 120.5h1M475 121.5h1M475 123.5h1M476 117.5h1M476 118.5h1M476 119.5h1M476 120.5h1M477 116.5h1M477 118.5h1M477 122.5h1M478 118.5h1M478 119.5h1M478 122.5h1M478 123.5h1M478 124.5h1M478 126.5h1M479 115.5h1M479 117.5h1M479 119.5h1M479 120.5h1M479 123.5h1M479 124.5h1M480 120.5h1M480 121.5h1M480 123.5h1M480 125.5h1M480 130.5h1M481 119.5h1M481 120.5h1M481 127.5h1M482 117.5h1M482 121.5h1M482 122.5h1M482 124.5h1M483 119.5h1M483 122.5h1M483 123.5h1M483 124.5h1M484 121.5h1M484 122.5h1M484 124.5h1M485 118.5h1M486 114.5h1M486 119.5h1M487 114.5h1M487 119.5h1M487 124.5h1M487 126.5h1M487 127.5h1M487 128.5h1M488 111.5h1M488 112.5h1M488 115.5h1M488 116.5h1M488 121.5h1M488 122.5h1M488 126.5h1M488 127.5h1M488 130.5h1M488 131.5h1M489 113.5h1M489 117.5h1M489 118.5h1M489 119.5h1M489 121.5h1M489 122.5h1M489 123.5h1M489 124.5h1M489 125.5h1M489 126.5h1M489 128.5h1M489 129.5h1M490 114.5h1M490 117.5h1M490 118.5h1M490 120.5h1M490 122.5h1M490 125.5h1M490 127.5h1M490 128.5h1M490 129.5h1M491 114.5h1M491 115.5h1M491 117.5h1M491 118.5h1M491 119.5h1M491 126.5h1M491 127.5h1M491 128.5h1M492 113.5h1M492 116.5h1M492 117.5h1M492 118.5h1M492 119.5h1M492 121.5h1M492 123.5h1M492 124.5h1M492 126.5h1M492 127.5h1M492 128.5h1M492 129.5h1M492 130.5h1M492 131.5h1M493 116.5h1M493 117.5h1M493 120.5h1M493 123.5h1M493 124.5h1M493 126.5h1M493 127.5h1M493 128.5h1M493 129.5h1M493 130.5h1M494 113.5h1M494 116.5h1M494 117.5h1M494 118.5h1M494 120.5h1M494 122.5h1M494 124.5h1M494 125.5h1M494 126.5h1M494 128.5h1M494 129.5h1M494 132.5h1M495 111.5h1M495 121.5h1M495 123.5h1M495 124.5h1M495 127.5h1M495 128.5h1M495 129.5h1M495 131.5h1M495 132.5h1M496 112.5h1M496 113.5h1M496 114.5h1M496 115.5h1M496 116.5h1M496 118.5h1M496 119.5h1M496 122.5h1M496 123.5h1M496 124.5h1M496 127.5h1M496 129.5h1M496 131.5h1M496 132.5h1M497 113.5h1M497 116.5h1M497 117.5h1M497 118.5h1M497 119.5h1M497 120.5h1M497 121.5h1M497 122.5h1M497 124.5h1M497 125.5h1M497 126.5h1M497 127.5h1M497 128.5h1M497 129.5h1M497 130.5h1M497 132.5h1M498 113.5h1M498 117.5h1M498 118.5h1M498 120.5h1M498 121.5h1M498 122.5h1M498 123.5h1M498 125.5h1M498 126.5h1M498 128.5h1M498 129.5h1M499 114.5h1M499 116.5h1M499 119.5h1M499 120.5h1M499 127.5h1M499 128.5h1M499 130.5h1M499 131.5h1M500 113.5h1M500 118.5h1M500 120.5h1M500 121.5h1M500 122.5h1M500 124.5h1M500 126.5h1M500 130.5h1M501 115.5h1M501 130.5h1" stroke="#f0809e" stroke-width="1" stroke-opacity="0.6" fill="none"/><path d="M440 126.5h1M440 128.5h1M441 126.5h1M442 126.5h1M442 127.5h1M442 128.5h1M443 127.5h1M445 126.5h1M446 124.5h1M446 126.5h1M446 129.5h1M447 126.5h1M448 125.5h1M448 126.5h1M449 124.5h1M450 123.5h1M450 125.5h1M450 126.5h1M450 130.5h1M451 126.5h1M452 125.5h1M452 126.5h1M452 129.5h1M453 124.5h1M453 125.5h1M453 126.5h1M454 124.5h1M455 124.5h1M455 125.5h1M455 127.5h1M455 129.5h1M456 125.5h1M457 123.5h1M457 124.5h1M457 128.5h1M458 121.5h1M458 123.5h1M458 124.5h1M458 128.5h1M459 122.5h1M459 123.5h1M459 124.5h1M459 125.5h1M460 126.5h1M460 127.5h1M461 121.5h1M461 123.5h1M461 124.5h1M461 127.5h1M462 124.5h1M462 126.5h1M463 122.5h1M463 123.5h1M463 124.5h1M463 129.5h1M464 122.5h1M464 123.5h1M464 124.5h1M464 125.5h1M464 126.5h1M464 127.5h1M465 120.5h1M465 121.5h1M465 122.5h1M465 123.5h1M465 124.5h1M465 127.5h1M466 121.5h1M466 122.5h1M466 123.5h1M466 124.5h1M466 125.5h1M466 129.5h1M467 121.5h1M467 122.5h1M467 123.5h1M467 124.5h1M467 126.5h1M468 119.5h1M468 122.5h1M468 123.5h1M468 124.5h1M468 126.5h1M468 128.5h1M469 118.5h1M469 119.5h1M469 120.5h1M469 121.5h1M469 122.5h1M469 123.5h1M469 124.5h1M469 125.5h1M469 126.5h1M469 127.5h1M469 128.5h1M470 116.5h1M470 119.5h1M470 120.5h1M470 121.5h1M470 122.5h1M470 123.5h1M470 124.5h1M470 125.5h1M470 127.5h1M470 128.5h1M471 114.5h1M471 119.5h1M471 120.5h1M471 121.5h1M471 122.5h1M471 123.5h1M471 124.5h1M471 125.5h1M471 126.5h1M471 127.5h1M471 129.5h1M472 115.5h1M472 118.5h1M472 119.5h1M472 121.5h1M472 123.5h1M472 124.5h1M472 125.5h1M472 126.5h1M473 119.5h1M473 120.5h1M473 121.5h1M473 122.5h1M473 123.5h1M473 124.5h1M473 125.5h1M473 126.5h1M474 115.5h1M474 118.5h1M474 120.5h1M474 121.5h1M474 122.5h1M474 123.5h1M474 124.5h1M474 127.5h1M474 128.5h1M475 117.5h1M475 118.5h1M475 119.5h1M475 120.5h1M475 121.5h1M475 122.5h1M475 123.5h1M475 124.5h1M475 125.5h1M475 127.5h1M476 118.5h1M476 120.5h1M476 121.5h1M476 122.5h1M476 123.5h1M476 124.5h1M476 127.5h1M477 116.5h1M477 117.5h1M477 120.5h1M477 121.5h1M477 122.5h1M477 123.5h1M477 124.5h1M477 125.5h1M477 126.5h1M478 118.5h1M478 120.5h1M478 121.5h1M478 122.5h1M478 123.5h1M478 124.5h1M479 118.5h1M479 119.5h1M479 120.5h1M479 121.5h1M479 122.5h1M479 124.5h1M479 127.5h1M480 116.5h1M480 117.5h1M480 118.5h1M480 119.5h1M480 120.5h1M480 121.5h1M480 122.5h1M480 123.5h1M480 124.5h1M481 117.5h1M481 119.5h1M481 120.5h1M481 121.5h1M481 122.5h1M481 123.5h1M482 115.5h1M482 119.5h1M482 120.5h1M482 121.5h1M482 123.5h1M482 125.5h1M483 117.5h1M483 118.5h1M483 119.5h1M483 120.5h1M483 123.5h1M483 124.5h1M484 116.5h1M484 117.5h1M484 118.5h1M484 119.5h1M484 120.5h1M484 121.5h1M484 125.5h1M485 116.5h1M485 119.5h1M485 121.5h1M486 118.5h1M486 119.5h1M486 122.5h1M487 120.5h1M487 123.5h1M488 118.5h1M489 117.5h1M492 118.5h1M494 119.5h1M499 115.5h1M500 112.5h1M500 113.5h1M500 116.5h1M500 117.5h1M500 118.5h1M500 119.5h1M500 121.5h1M500 123.5h1M500 125.5h1M500 127.5h1M500 128.5h1M500 129.5h1M500 130.5h1M501 112.5h1M501 113.5h1M501 114.5h1M501 115.5h1M501 117.5h1M501 118.5h1M501 120.5h1M501 122.5h1M501 124.5h1M501 125.5h1M501 126.5h1M501 127.5h1M501 129.5h1M501 130.5h1M501 131.5h1" stroke="#e01c50" stroke-width="1" stroke-opacity="0.85" fill="none"/><g stroke="#222" stroke-width="0.9" fill="none"><rect x="439" y="110" width="63" height="58.6"/><line x1="439" y1="133.6" x2="502" y2="133.6"/><line x1="486.5" y1="110" x2="486.5" y2="168.6"/></g><text x="439" y="172.8" font-size="3.4" text-anchor="middle" fill="#555">10<tspan dy="-1" font-size="2.4">0</tspan></text><line x1="439" y1="168.6" x2="439" y2="169.6" stroke="#444" stroke-width="0.5"/><text x="454.8" y="172.8" font-size="3.4" text-anchor="middle" fill="#555">10<tspan dy="-1" font-size="2.4">1</tspan></text><line x1="454.8" y1="168.6" x2="454.8" y2="169.6" stroke="#444" stroke-width="0.5"/><text x="470.5" y="172.8" font-size="3.4" text-anchor="middle" fill="#555">10<tspan dy="-1" font-size="2.4">2</tspan></text><line x1="470.5" y1="168.6" x2="470.5" y2="169.6" stroke="#444" stroke-width="0.5"/><text x="486.2" y="172.8" font-size="3.4" text-anchor="middle" fill="#555">10<tspan dy="-1" font-size="2.4">3</tspan></text><line x1="486.2" y1="168.6" x2="486.2" y2="169.6" stroke="#444" stroke-width="0.5"/><text x="502" y="172.8" font-size="3.4" text-anchor="middle" fill="#555">10<tspan dy="-1" font-size="2.4">4</tspan></text><line x1="502" y1="168.6" x2="502" y2="169.6" stroke="#444" stroke-width="0.5"/><text x="470.5" y="176.9" font-size="2.8" text-anchor="middle" fill="#666">FL1-H</text><text x="437.8" y="112.5" font-size="3.2" text-anchor="end" fill="#666">10<tspan dy="-1" font-size="2.3">1</tspan></text><text x="437.8" y="123.8" font-size="3.2" text-anchor="end" fill="#666">10<tspan dy="-1" font-size="2.3">1</tspan></text><text x="437.8" y="136.6" font-size="3.2" text-anchor="end" fill="#666">10<tspan dy="-1" font-size="2.3">1</tspan></text><text x="437.8" y="153.8" font-size="3.2" text-anchor="end" fill="#666">10<tspan dy="-1" font-size="2.3">1</tspan></text><text x="437.8" y="168.6" font-size="3.2" text-anchor="end" fill="#666">10<tspan dy="-1" font-size="2.3">1</tspan></text><text transform="translate(434,136.6) rotate(-90)" font-size="2.8" text-anchor="middle" fill="#777">FL2-H</text><rect x="441.5" y="113.3" width="34.5" height="5.8" fill="#fff"/><text class="s" x="442.3" y="117.9" font-size="5.8" text-anchor="start" fill="#111" stroke="#111" stroke-width="0.45" textLength="32.9" lengthAdjust="spacingAndGlyphs" xml:space="preserve">CH11-treated</text><path d="M358 233.5h1M360 216.5h1M362 239.5h1M364 226.5h1M365 217.5h1M367 216.5h1M367 228.5h1M367 234.5h1M368 233.5h1M368 238.5h1M368 243.5h1M369 228.5h1M369 243.5h1M370 221.5h1M370 244.5h1M371 217.5h1M373 242.5h1M373 243.5h1M376 241.5h1M378 242.5h1M379 229.5h1M379 239.5h1M379 242.5h1M380 227.5h1M380 242.5h1M381 217.5h1M381 242.5h1M381 245.5h1M382 224.5h1M382 226.5h1M383 235.5h1M384 242.5h1M384 244.5h1M384 248.5h1M385 231.5h1M385 237.5h1M385 243.5h1M385 248.5h1M386 238.5h1M386 239.5h1M386 240.5h1M386 246.5h1M386 247.5h1M387 216.5h1M387 228.5h1M387 237.5h1M387 244.5h1M388 218.5h1M388 219.5h1M388 242.5h1M388 246.5h1M389 242.5h1M389 244.5h1M390 233.5h1M390 237.5h1M390 239.5h1M390 242.5h1M391 235.5h1M391 240.5h1M392 241.5h1M392 244.5h1M392 245.5h1M392 246.5h1M393 235.5h1M393 238.5h1M393 244.5h1M393 246.5h1M394 238.5h1M394 240.5h1M394 242.5h1M394 247.5h1M395 232.5h1M395 238.5h1M395 242.5h1M395 244.5h1M396 234.5h1M396 241.5h1M396 243.5h1M396 246.5h1M396 247.5h1M397 218.5h1M397 228.5h1M397 238.5h1M397 240.5h1M398 243.5h1M398 245.5h1M398 246.5h1M399 235.5h1M399 236.5h1M399 241.5h1M399 243.5h1M400 240.5h1M400 244.5h1M400 246.5h1M401 219.5h1M401 221.5h1M401 243.5h1M402 216.5h1M402 239.5h1M403 235.5h1M403 238.5h1M403 240.5h1M403 244.5h1M404 219.5h1M404 240.5h1M404 242.5h1M404 243.5h1M405 243.5h1M405 244.5h1M406 225.5h1M406 237.5h1M406 240.5h1M406 241.5h1M406 244.5h1M407 227.5h1M407 241.5h1M408 231.5h1M408 242.5h1M409 246.5h1M410 235.5h1M411 235.5h1M412 239.5h1M412 245.5h1M413 221.5h1M413 239.5h1M413 243.5h1M414 246.5h1M418 227.5h1M418 248.5h1M419 215.5h1M419 222.5h1M419 225.5h1M419 243.5h1M420 215.5h1" stroke="#444" stroke-width="1" stroke-opacity="0.7" fill="none"/><path d="M400 227.5h1M400 228.5h1M400 240.5h1M403 232.5h1M403 233.5h1M403 237.5h1M404 220.5h1M404 235.5h1M405 231.5h1M405 232.5h1M405 237.5h1M405 238.5h1M406 217.5h1M406 221.5h1M406 230.5h1M406 232.5h1M406 233.5h1M406 234.5h1M407 215.5h1M407 220.5h1M407 221.5h1M407 222.5h1M407 231.5h1M407 233.5h1M407 236.5h1M407 237.5h1M407 238.5h1M407 239.5h1M408 222.5h1M408 224.5h1M408 226.5h1M408 227.5h1M408 230.5h1M408 232.5h1M408 235.5h1M408 236.5h1M408 237.5h1M408 239.5h1M408 240.5h1M408 243.5h1M408 248.5h1M409 216.5h1M409 218.5h1M409 223.5h1M409 224.5h1M409 225.5h1M409 226.5h1M409 227.5h1M409 228.5h1M409 230.5h1M409 231.5h1M409 233.5h1M409 234.5h1M409 237.5h1M409 239.5h1M409 240.5h1M409 241.5h1M409 246.5h1M409 247.5h1M410 216.5h1M410 217.5h1M410 219.5h1M410 221.5h1M410 222.5h1M410 224.5h1M410 226.5h1M410 229.5h1M410 230.5h1M410 232.5h1M410 233.5h1M410 234.5h1M410 235.5h1M410 236.5h1M410 238.5h1M410 239.5h1M410 241.5h1M410 242.5h1M410 247.5h1M411 220.5h1M411 221.5h1M411 224.5h1M411 229.5h1M411 230.5h1M411 232.5h1M411 233.5h1M411 234.5h1M411 235.5h1M411 237.5h1M411 239.5h1M411 247.5h1M411 248.5h1M412 217.5h1M412 218.5h1M412 220.5h1M412 223.5h1M412 225.5h1M412 226.5h1M412 229.5h1M412 231.5h1M412 233.5h1M412 234.5h1M412 236.5h1M412 237.5h1M412 238.5h1M412 241.5h1M412 243.5h1M412 244.5h1M412 245.5h1M412 246.5h1M412 248.5h1M413 221.5h1M413 222.5h1M413 223.5h1M413 226.5h1M413 227.5h1M413 230.5h1M413 231.5h1M413 233.5h1M413 235.5h1M413 237.5h1M413 239.5h1M413 240.5h1M413 241.5h1M413 242.5h1M413 243.5h1M413 244.5h1M413 245.5h1M413 246.5h1M414 221.5h1M414 223.5h1M414 224.5h1M414 225.5h1M414 226.5h1M414 227.5h1M414 228.5h1M414 229.5h1M414 230.5h1M414 231.5h1M414 232.5h1M414 233.5h1M414 234.5h1M414 236.5h1M414 237.5h1M414 238.5h1M414 239.5h1M414 240.5h1M414 241.5h1M414 242.5h1M414 244.5h1M414 245.5h1M414 246.5h1M414 248.5h1M415 216.5h1M415 217.5h1M415 219.5h1M415 220.5h1M415 222.5h1M415 226.5h1M415 227.5h1M415 228.5h1M415 229.5h1M415 231.5h1M415 232.5h1M415 233.5h1M415 234.5h1M415 235.5h1M415 236.5h1M415 237.5h1M415 238.5h1M415 239.5h1M415 240.5h1M415 241.5h1M415 242.5h1M415 243.5h1M415 244.5h1M416 215.5h1M416 216.5h1M416 221.5h1M416 222.5h1M416 225.5h1M416 227.5h1M416 228.5h1M416 229.5h1M416 232.5h1M416 233.5h1M416 234.5h1M416 235.5h1M416 236.5h1M416 238.5h1M416 239.5h1M416 240.5h1M417 217.5h1M417 220.5h1M417 221.5h1M417 223.5h1M417 224.5h1M417 225.5h1M417 226.5h1M417 227.5h1M417 228.5h1M417 229.5h1M417 230.5h1M417 232.5h1M417 234.5h1M417 235.5h1M417 236.5h1M417 237.5h1M417 239.5h1M417 240.5h1M417 245.5h1M417 246.5h1M417 248.5h1M418 220.5h1M418 222.5h1M418 223.5h1M418 224.5h1M418 225.5h1M418 226.5h1M418 227.5h1M418 228.5h1M418 229.5h1M418 230.5h1M418 232.5h1M418 233.5h1M418 234.5h1M418 235.5h1M418 239.5h1M418 241.5h1M418 244.5h1M418 245.5h1M418 246.5h1M419 219.5h1M419 220.5h1M419 222.5h1M419 223.5h1M419 228.5h1M419 230.5h1M419 231.5h1M419 233.5h1M419 235.5h1M419 237.5h1M419 240.5h1M419 244.5h1M419 246.5h1M420 228.5h1M420 230.5h1M420 231.5h1M420 237.5h1M420 238.5h1M420 244.5h1M420 248.5h1" stroke="#222" stroke-width="1" stroke-opacity="0.82" fill="none"/><path d="M373 229.5h1M377 229.5h1M377 235.5h1M378 233.5h1M378 235.5h1M378 236.5h1M380 229.5h1M381 229.5h1M381 230.5h1M381 233.5h1M382 225.5h1M382 228.5h1M382 231.5h1M382 237.5h1M382 239.5h1M383 224.5h1M384 223.5h1M384 225.5h1M384 231.5h1M384 232.5h1M384 233.5h1M384 234.5h1M385 227.5h1M385 228.5h1M385 229.5h1M385 230.5h1M385 232.5h1M386 220.5h1M386 223.5h1M386 225.5h1M386 227.5h1M386 229.5h1M386 230.5h1M386 231.5h1M387 224.5h1M387 225.5h1M387 227.5h1M387 228.5h1M387 229.5h1M387 230.5h1M387 231.5h1M387 232.5h1M388 223.5h1M388 227.5h1M388 228.5h1M388 229.5h1M388 230.5h1M388 232.5h1M388 233.5h1M388 234.5h1M388 238.5h1M389 223.5h1M389 224.5h1M389 225.5h1M389 227.5h1M389 228.5h1M389 229.5h1M389 231.5h1M389 234.5h1M390 227.5h1M390 228.5h1M390 230.5h1M390 231.5h1M390 232.5h1M390 233.5h1M390 236.5h1M391 220.5h1M391 224.5h1M391 226.5h1M391 228.5h1M391 229.5h1M391 230.5h1M391 231.5h1M391 234.5h1M392 223.5h1M392 226.5h1M392 227.5h1M392 228.5h1M392 230.5h1M392 231.5h1M392 238.5h1M393 221.5h1M393 222.5h1M393 223.5h1M393 225.5h1M393 227.5h1M393 228.5h1M393 229.5h1M393 230.5h1M393 231.5h1M393 232.5h1M393 234.5h1M393 235.5h1M393 237.5h1M394 223.5h1M394 224.5h1M394 225.5h1M394 226.5h1M394 227.5h1M394 228.5h1M394 229.5h1M394 230.5h1M394 232.5h1M394 233.5h1M394 234.5h1M395 224.5h1M395 226.5h1M395 227.5h1M395 228.5h1M395 229.5h1M395 230.5h1M395 231.5h1M395 232.5h1M395 235.5h1M395 236.5h1M395 237.5h1M395 238.5h1M396 220.5h1M396 222.5h1M396 225.5h1M396 226.5h1M396 227.5h1M396 229.5h1M396 230.5h1M396 231.5h1M396 232.5h1M396 234.5h1M396 235.5h1M397 223.5h1M397 224.5h1M397 227.5h1M397 228.5h1M397 229.5h1M397 230.5h1M397 231.5h1M397 232.5h1M397 233.5h1M397 236.5h1M398 221.5h1M398 226.5h1M398 227.5h1M398 228.5h1M398 229.5h1M398 230.5h1M398 231.5h1M398 232.5h1M398 233.5h1M398 240.5h1M399 224.5h1M399 225.5h1M399 228.5h1M399 229.5h1M399 230.5h1M399 231.5h1M399 232.5h1M399 233.5h1M400 223.5h1M400 224.5h1M400 225.5h1M400 229.5h1M400 231.5h1M400 234.5h1M401 226.5h1M401 229.5h1M401 230.5h1M401 231.5h1M401 232.5h1M402 223.5h1M402 224.5h1M402 225.5h1M402 227.5h1M402 228.5h1M402 229.5h1M402 230.5h1M402 232.5h1M402 233.5h1M402 234.5h1M403 223.5h1M403 224.5h1M403 225.5h1M403 227.5h1M403 228.5h1M403 229.5h1M403 230.5h1M403 231.5h1M403 234.5h1M403 235.5h1M404 221.5h1M404 222.5h1M404 227.5h1M404 228.5h1M404 229.5h1M404 230.5h1M404 234.5h1M405 221.5h1M405 224.5h1M405 225.5h1M405 226.5h1M405 227.5h1M405 228.5h1M405 230.5h1M405 231.5h1M405 232.5h1M406 224.5h1M406 226.5h1M406 227.5h1M406 228.5h1M406 231.5h1M406 232.5h1M406 235.5h1M407 221.5h1M407 224.5h1M407 225.5h1M407 226.5h1M407 231.5h1M408 221.5h1M408 224.5h1M408 226.5h1M408 227.5h1M408 228.5h1M408 230.5h1M409 220.5h1M410 231.5h1M411 228.5h1M412 222.5h1M413 227.5h1M414 225.5h1M414 226.5h1M414 231.5h1M415 221.5h1M415 229.5h1M415 237.5h1M417 224.5h1" stroke="#98e698" stroke-width="1" stroke-opacity="0.8" fill="none"/><path d="M383 226.5h1M383 228.5h1M384 227.5h1M384 232.5h1M384 233.5h1M385 228.5h1M385 231.5h1M385 232.5h1M386 226.5h1M386 230.5h1M386 231.5h1M386 233.5h1M387 227.5h1M387 229.5h1M387 230.5h1M388 229.5h1M388 230.5h1M388 231.5h1M389 226.5h1M389 227.5h1M389 228.5h1M389 232.5h1M390 223.5h1M390 225.5h1M390 227.5h1M390 228.5h1M390 229.5h1M390 231.5h1M390 233.5h1M390 235.5h1M391 224.5h1M391 226.5h1M391 227.5h1M391 228.5h1M391 229.5h1M391 231.5h1M391 232.5h1M391 233.5h1M391 235.5h1M392 222.5h1M392 226.5h1M392 227.5h1M392 228.5h1M392 229.5h1M392 230.5h1M392 231.5h1M392 232.5h1M392 237.5h1M393 222.5h1M393 224.5h1M393 225.5h1M393 226.5h1M393 227.5h1M393 228.5h1M393 229.5h1M393 230.5h1M393 231.5h1M393 232.5h1M393 236.5h1M394 224.5h1M394 225.5h1M394 226.5h1M394 227.5h1M394 228.5h1M394 229.5h1M394 230.5h1M394 231.5h1M394 232.5h1M395 226.5h1M395 227.5h1M395 228.5h1M395 230.5h1M395 232.5h1M395 233.5h1M395 234.5h1M396 224.5h1M396 226.5h1M396 227.5h1M396 228.5h1M396 229.5h1M396 230.5h1M396 232.5h1M396 235.5h1M397 223.5h1M397 225.5h1M397 226.5h1M397 227.5h1M397 229.5h1M397 230.5h1M397 232.5h1M398 223.5h1M398 224.5h1M398 225.5h1M398 226.5h1M398 227.5h1M398 228.5h1M398 229.5h1M398 230.5h1M398 231.5h1M399 225.5h1M399 226.5h1M399 227.5h1M399 228.5h1M399 229.5h1M399 230.5h1M399 231.5h1M399 232.5h1M400 226.5h1M400 227.5h1M400 229.5h1M400 230.5h1M400 231.5h1M400 232.5h1M401 222.5h1M401 224.5h1M401 225.5h1M401 226.5h1M401 227.5h1M401 228.5h1M401 229.5h1M402 224.5h1M402 225.5h1M402 227.5h1M402 228.5h1M402 229.5h1M402 231.5h1M403 222.5h1M403 226.5h1M404 220.5h1M404 228.5h1M404 229.5h1M405 225.5h1M405 229.5h1M405 233.5h1M406 225.5h1M406 228.5h1M407 230.5h1" stroke="#48d248" stroke-width="1" stroke-opacity="0.85" fill="none"/><path d="M359 203.5h1M363 205.5h1M364 207.5h1M364 212.5h1M366 201.5h1M367 202.5h1M370 198.5h1M372 203.5h1M372 206.5h1M372 211.5h1M374 202.5h1M374 207.5h1M375 204.5h1M375 209.5h1M375 210.5h1M376 202.5h1M376 205.5h1M376 213.5h1M377 200.5h1M378 202.5h1M378 205.5h1M378 209.5h1M379 206.5h1M379 211.5h1M379 212.5h1M380 204.5h1M380 209.5h1M380 211.5h1M381 202.5h1M381 206.5h1M381 207.5h1M381 210.5h1M381 211.5h1M382 203.5h1M382 208.5h1M383 199.5h1M383 203.5h1M383 206.5h1M384 201.5h1M384 203.5h1M384 204.5h1M384 207.5h1M385 193.5h1M385 195.5h1M385 202.5h1M385 203.5h1M385 206.5h1M385 208.5h1M385 209.5h1M386 193.5h1M386 198.5h1M386 204.5h1M386 206.5h1M386 211.5h1M387 201.5h1M387 202.5h1M387 203.5h1M387 204.5h1M387 206.5h1M387 207.5h1M387 210.5h1M388 202.5h1M388 204.5h1M388 205.5h1M388 207.5h1M388 208.5h1M389 198.5h1M389 201.5h1M389 202.5h1M389 205.5h1M389 206.5h1M389 207.5h1M389 209.5h1M389 210.5h1M390 198.5h1M390 200.5h1M390 204.5h1M390 205.5h1M390 206.5h1M390 207.5h1M390 209.5h1M390 210.5h1M390 212.5h1M391 197.5h1M391 198.5h1M391 202.5h1M391 203.5h1M391 205.5h1M391 207.5h1M391 208.5h1M391 209.5h1M391 210.5h1M391 212.5h1M392 197.5h1M392 200.5h1M392 202.5h1M392 205.5h1M392 207.5h1M392 210.5h1M393 197.5h1M393 198.5h1M393 200.5h1M393 201.5h1M393 203.5h1M393 206.5h1M393 207.5h1M393 209.5h1M393 210.5h1M393 211.5h1M393 213.5h1M394 200.5h1M394 201.5h1M394 203.5h1M394 205.5h1M394 207.5h1M394 211.5h1M395 200.5h1M395 204.5h1M395 206.5h1M395 207.5h1M395 208.5h1M395 209.5h1M396 195.5h1M396 196.5h1M396 197.5h1M396 200.5h1M396 201.5h1M396 203.5h1M396 204.5h1M396 206.5h1M396 207.5h1M396 208.5h1M396 212.5h1M396 213.5h1M397 197.5h1M397 199.5h1M397 201.5h1M397 202.5h1M397 204.5h1M397 207.5h1M397 208.5h1M397 210.5h1M397 212.5h1M398 198.5h1M398 200.5h1M398 202.5h1M398 203.5h1M398 205.5h1M398 206.5h1M399 193.5h1M399 195.5h1M399 197.5h1M399 198.5h1M399 200.5h1M399 201.5h1M399 202.5h1M399 207.5h1M399 208.5h1M400 199.5h1M400 201.5h1M400 202.5h1M400 203.5h1M400 204.5h1M400 205.5h1M400 209.5h1M400 212.5h1M401 197.5h1M401 198.5h1M401 199.5h1M401 201.5h1M401 203.5h1M401 204.5h1M401 205.5h1M401 206.5h1M401 207.5h1M401 209.5h1M402 197.5h1M402 203.5h1M402 204.5h1M402 205.5h1M402 206.5h1M402 207.5h1M402 209.5h1M403 195.5h1M403 197.5h1M403 200.5h1M403 203.5h1M403 207.5h1M404 194.5h1M404 199.5h1M404 200.5h1M404 203.5h1M404 204.5h1M404 205.5h1M404 208.5h1M404 210.5h1M404 213.5h1M405 198.5h1M405 200.5h1M405 202.5h1M405 204.5h1M405 206.5h1M405 207.5h1M405 208.5h1M405 209.5h1M406 199.5h1M406 203.5h1M406 204.5h1M406 205.5h1M406 206.5h1M406 211.5h1M407 199.5h1M407 200.5h1M407 203.5h1M407 205.5h1M407 207.5h1M408 194.5h1M408 196.5h1M408 201.5h1M408 205.5h1M408 209.5h1M408 210.5h1M409 197.5h1M409 200.5h1M409 203.5h1M409 204.5h1M409 208.5h1M409 209.5h1M410 197.5h1M410 199.5h1M410 201.5h1M410 204.5h1M410 206.5h1M410 207.5h1M410 209.5h1M410 210.5h1M411 202.5h1M411 204.5h1M411 206.5h1M411 208.5h1M412 194.5h1M412 203.5h1M412 204.5h1M412 205.5h1M412 208.5h1M412 210.5h1M413 197.5h1M413 200.5h1M413 202.5h1M413 203.5h1M413 204.5h1M413 208.5h1M414 203.5h1M414 206.5h1M414 212.5h1M415 202.5h1M415 203.5h1M415 204.5h1M415 208.5h1M416 197.5h1M416 204.5h1M416 205.5h1M416 206.5h1M416 207.5h1M417 192.5h1M417 197.5h1M417 201.5h1M417 202.5h1M417 203.5h1M417 205.5h1M417 210.5h1M417 211.5h1M418 203.5h1M420 195.5h1M420 202.5h1M420 203.5h1" stroke="#f0809e" stroke-width="1" stroke-opacity="0.6" fill="none"/><path d="M387 209.5h1M388 204.5h1M389 204.5h1M389 209.5h1M391 199.5h1M391 204.5h1M392 195.5h1M392 207.5h1M393 199.5h1M393 206.5h1M394 203.5h1M394 205.5h1M394 210.5h1M395 200.5h1M395 202.5h1M395 206.5h1M395 208.5h1M395 209.5h1M396 203.5h1M396 205.5h1M396 210.5h1M396 211.5h1M397 201.5h1M397 202.5h1M397 203.5h1M397 206.5h1M397 211.5h1M398 196.5h1M398 202.5h1M398 203.5h1M398 207.5h1M398 209.5h1M399 198.5h1M399 199.5h1M399 200.5h1M399 201.5h1M399 203.5h1M399 204.5h1M399 205.5h1M399 206.5h1M399 207.5h1M399 208.5h1M399 210.5h1M400 197.5h1M400 199.5h1M400 200.5h1M400 201.5h1M400 205.5h1M400 206.5h1M400 208.5h1M400 209.5h1M401 197.5h1M401 199.5h1M401 200.5h1M401 201.5h1M401 202.5h1M401 203.5h1M401 204.5h1M401 205.5h1M401 207.5h1M401 209.5h1M402 193.5h1M402 195.5h1M402 198.5h1M402 199.5h1M402 200.5h1M402 201.5h1M402 202.5h1M402 203.5h1M402 204.5h1M402 205.5h1M402 207.5h1M403 197.5h1M403 198.5h1M403 199.5h1M403 201.5h1M403 202.5h1M403 203.5h1M403 204.5h1M403 205.5h1M403 207.5h1M404 198.5h1M404 199.5h1M404 200.5h1M404 201.5h1M404 202.5h1M404 203.5h1M404 204.5h1M404 205.5h1M404 206.5h1M405 200.5h1M405 201.5h1M405 202.5h1M405 204.5h1M405 205.5h1M405 206.5h1M405 207.5h1M405 209.5h1M405 213.5h1M406 197.5h1M406 199.5h1M406 200.5h1M406 201.5h1M406 202.5h1M406 203.5h1M406 204.5h1M406 205.5h1M406 206.5h1M406 207.5h1M406 208.5h1M407 196.5h1M407 199.5h1M407 200.5h1M407 201.5h1M407 202.5h1M407 203.5h1M407 204.5h1M407 205.5h1M407 206.5h1M407 207.5h1M408 192.5h1M408 194.5h1M408 196.5h1M408 201.5h1M408 202.5h1M408 203.5h1M408 204.5h1M408 207.5h1M408 208.5h1M409 194.5h1M409 195.5h1M409 197.5h1M409 198.5h1M409 199.5h1M409 202.5h1M409 205.5h1M409 206.5h1M409 207.5h1M409 208.5h1M410 192.5h1M410 197.5h1M410 199.5h1M410 201.5h1M410 203.5h1M410 204.5h1M410 205.5h1M410 206.5h1M410 207.5h1M411 196.5h1M411 197.5h1M411 198.5h1M411 199.5h1M411 200.5h1M411 201.5h1M411 204.5h1M411 205.5h1M411 206.5h1M411 208.5h1M412 198.5h1M412 200.5h1M412 202.5h1M412 203.5h1M412 204.5h1M412 205.5h1M412 206.5h1M412 208.5h1M413 194.5h1M413 197.5h1M413 198.5h1M413 199.5h1M413 200.5h1M413 202.5h1M413 203.5h1M413 204.5h1M413 205.5h1M413 206.5h1M413 208.5h1M414 194.5h1M414 196.5h1M414 198.5h1M414 199.5h1M414 201.5h1M414 203.5h1M414 204.5h1M414 205.5h1M414 206.5h1M415 195.5h1M415 198.5h1M415 199.5h1M415 200.5h1M415 201.5h1M415 202.5h1M415 203.5h1M415 207.5h1M416 197.5h1M416 198.5h1M416 199.5h1M416 200.5h1M416 201.5h1M416 204.5h1M416 206.5h1M417 197.5h1M417 200.5h1M417 201.5h1M417 204.5h1M417 206.5h1M418 193.5h1M418 194.5h1M418 197.5h1M418 199.5h1M418 202.5h1M418 203.5h1M418 207.5h1M419 195.5h1M419 196.5h1M419 200.5h1M419 203.5h1M419 205.5h1M419 206.5h1M420 193.5h1M420 195.5h1M420 199.5h1M420 200.5h1M420 201.5h1M420 202.5h1" stroke="#e01c50" stroke-width="1" stroke-opacity="0.85" fill="none"/><g stroke="#222" stroke-width="0.9" fill="none"><rect x="357.4" y="189.8" width="63.8" height="59.5"/><line x1="357.4" y1="214.3" x2="421.2" y2="214.3"/><line x1="405.5" y1="189.8" x2="405.5" y2="249.3"/></g><text x="357.4" y="253.5" font-size="3.4" text-anchor="middle" fill="#555">10<tspan dy="-1" font-size="2.4">0</tspan></text><line x1="357.4" y1="249.3" x2="357.4" y2="250.3" stroke="#444" stroke-width="0.5"/><text x="373.3" y="253.5" font-size="3.4" text-anchor="middle" fill="#555">10<tspan dy="-1" font-size="2.4">1</tspan></text><line x1="373.3" y1="249.3" x2="373.3" y2="250.3" stroke="#444" stroke-width="0.5"/><text x="389.3" y="253.5" font-size="3.4" text-anchor="middle" fill="#555">10<tspan dy="-1" font-size="2.4">2</tspan></text><line x1="389.3" y1="249.3" x2="389.3" y2="250.3" stroke="#444" stroke-width="0.5"/><text x="405.2" y="253.5" font-size="3.4" text-anchor="middle" fill="#555">10<tspan dy="-1" font-size="2.4">3</tspan></text><line x1="405.2" y1="249.3" x2="405.2" y2="250.3" stroke="#444" stroke-width="0.5"/><text x="421.2" y="253.5" font-size="3.4" text-anchor="middle" fill="#555">10<tspan dy="-1" font-size="2.4">4</tspan></text><line x1="421.2" y1="249.3" x2="421.2" y2="250.3" stroke="#444" stroke-width="0.5"/><text x="389.3" y="257.6" font-size="2.8" text-anchor="middle" fill="#666">FL1-H</text><text x="356.2" y="192.3" font-size="3.2" text-anchor="end" fill="#666">10<tspan dy="-1" font-size="2.3">1</tspan></text><text x="356.2" y="204.1" font-size="3.2" text-anchor="end" fill="#666">10<tspan dy="-1" font-size="2.3">1</tspan></text><text x="356.2" y="217.3" font-size="3.2" text-anchor="end" fill="#666">10<tspan dy="-1" font-size="2.3">1</tspan></text><text x="356.2" y="234.6" font-size="3.2" text-anchor="end" fill="#666">10<tspan dy="-1" font-size="2.3">1</tspan></text><text x="356.2" y="249.3" font-size="3.2" text-anchor="end" fill="#666">10<tspan dy="-1" font-size="2.3">1</tspan></text><text transform="translate(352.4,217.3) rotate(-90)" font-size="2.8" text-anchor="middle" fill="#777">FL2-H</text><rect x="360" y="217.5" width="37.8" height="5.8" fill="#fff"/><text class="s" x="360.8" y="222.1" font-size="5.8" text-anchor="start" fill="#111" stroke="#111" stroke-width="0.45" textLength="36.2" lengthAdjust="spacingAndGlyphs" xml:space="preserve">Fas-L-inhibited</text><path d="M439 219.5h1M439 233.5h1M440 240.5h1M441 227.5h1M443 220.5h1M443 244.5h1M444 225.5h1M444 246.5h1M448 227.5h1M448 240.5h1M450 241.5h1M451 241.5h1M452 227.5h1M452 231.5h1M452 244.5h1M453 243.5h1M454 230.5h1M454 241.5h1M455 231.5h1M456 231.5h1M456 233.5h1M456 234.5h1M456 242.5h1M456 247.5h1M457 236.5h1M457 237.5h1M458 224.5h1M458 227.5h1M458 228.5h1M458 241.5h1M458 242.5h1M459 229.5h1M459 230.5h1M459 240.5h1M460 225.5h1M460 230.5h1M460 232.5h1M460 236.5h1M461 233.5h1M461 236.5h1M461 239.5h1M461 242.5h1M462 230.5h1M462 234.5h1M462 239.5h1M462 243.5h1M462 244.5h1M463 225.5h1M463 226.5h1M463 230.5h1M463 236.5h1M463 240.5h1M463 244.5h1M463 245.5h1M463 246.5h1M464 238.5h1M464 244.5h1M465 229.5h1M465 231.5h1M465 232.5h1M465 234.5h1M465 236.5h1M465 240.5h1M466 223.5h1M466 232.5h1M466 239.5h1M466 242.5h1M467 232.5h1M467 233.5h1M467 235.5h1M467 237.5h1M467 238.5h1M467 242.5h1M467 243.5h1M467 245.5h1M467 246.5h1M468 234.5h1M468 238.5h1M468 239.5h1M468 244.5h1M468 247.5h1M469 228.5h1M469 229.5h1M469 230.5h1M469 232.5h1M469 235.5h1M469 240.5h1M469 244.5h1M470 232.5h1M470 234.5h1M470 236.5h1M470 237.5h1M470 240.5h1M470 243.5h1M471 225.5h1M471 229.5h1M471 235.5h1M471 236.5h1M471 238.5h1M471 240.5h1M471 244.5h1M471 248.5h1M472 226.5h1M472 227.5h1M472 229.5h1M472 231.5h1M472 232.5h1M472 236.5h1M472 240.5h1M473 222.5h1M473 227.5h1M473 229.5h1M473 233.5h1M473 234.5h1M473 239.5h1M473 240.5h1M474 221.5h1M474 232.5h1M474 237.5h1M474 240.5h1M474 241.5h1M474 242.5h1M474 243.5h1M475 222.5h1M475 233.5h1M475 234.5h1M475 236.5h1M475 237.5h1M475 238.5h1M475 247.5h1M476 224.5h1M476 228.5h1M476 232.5h1M476 233.5h1M476 234.5h1M476 235.5h1M476 237.5h1M476 241.5h1M477 228.5h1M477 232.5h1M477 233.5h1M477 236.5h1M477 238.5h1M477 242.5h1M477 243.5h1M478 219.5h1M478 226.5h1M478 229.5h1M478 230.5h1M478 232.5h1M478 234.5h1M478 238.5h1M478 240.5h1M478 243.5h1M478 247.5h1M478 248.5h1M479 232.5h1M479 235.5h1M479 237.5h1M479 239.5h1M479 243.5h1M480 232.5h1M480 234.5h1M480 237.5h1M480 239.5h1M480 240.5h1M480 241.5h1M480 243.5h1M480 244.5h1M480 247.5h1M481 232.5h1M481 233.5h1M481 234.5h1M481 243.5h1M482 238.5h1M482 243.5h1M482 245.5h1M483 226.5h1M483 228.5h1M483 230.5h1M483 233.5h1M483 237.5h1M483 238.5h1M483 243.5h1M483 247.5h1M484 236.5h1M484 237.5h1M484 238.5h1M484 243.5h1M484 246.5h1M485 215.5h1M485 228.5h1M485 237.5h1M485 238.5h1M485 239.5h1M485 240.5h1M485 244.5h1M486 217.5h1M486 229.5h1M486 231.5h1M486 236.5h1M486 242.5h1M486 243.5h1M487 239.5h1M487 241.5h1M488 222.5h1M488 230.5h1M488 231.5h1M488 238.5h1M489 220.5h1M489 233.5h1M489 234.5h1M489 237.5h1M490 235.5h1M490 236.5h1M491 217.5h1M491 230.5h1M491 238.5h1M492 234.5h1M492 235.5h1M494 215.5h1M495 237.5h1M495 242.5h1M495 246.5h1M496 233.5h1M496 246.5h1M498 235.5h1M498 241.5h1M498 242.5h1M500 228.5h1M500 233.5h1" stroke="#444" stroke-width="1" stroke-opacity="0.7" fill="none"/><path d="M482 247.5h1M483 238.5h1M484 231.5h1M484 235.5h1M484 236.5h1M484 246.5h1M485 233.5h1M485 237.5h1M485 238.5h1M485 246.5h1M486 235.5h1M486 236.5h1M486 242.5h1M486 243.5h1M487 220.5h1M487 233.5h1M487 236.5h1M487 239.5h1M487 240.5h1M487 245.5h1M488 231.5h1M488 232.5h1M488 236.5h1M488 237.5h1M488 239.5h1M488 240.5h1M488 243.5h1M488 244.5h1M489 229.5h1M489 232.5h1M489 234.5h1M489 235.5h1M489 236.5h1M489 238.5h1M489 239.5h1M489 240.5h1M489 241.5h1M489 242.5h1M489 244.5h1M489 245.5h1M489 247.5h1M490 231.5h1M490 232.5h1M490 234.5h1M490 235.5h1M490 236.5h1M490 237.5h1M490 239.5h1M490 242.5h1M490 243.5h1M490 246.5h1M490 247.5h1M491 224.5h1M491 227.5h1M491 232.5h1M491 234.5h1M491 235.5h1M491 237.5h1M491 238.5h1M491 239.5h1M491 242.5h1M491 243.5h1M491 244.5h1M491 245.5h1M491 247.5h1M492 229.5h1M492 231.5h1M492 232.5h1M492 234.5h1M492 235.5h1M492 237.5h1M492 238.5h1M492 240.5h1M492 241.5h1M492 242.5h1M492 243.5h1M492 245.5h1M492 246.5h1M492 247.5h1M492 248.5h1M493 230.5h1M493 233.5h1M493 234.5h1M493 236.5h1M493 237.5h1M493 238.5h1M493 239.5h1M493 240.5h1M493 241.5h1M493 242.5h1M493 243.5h1M493 244.5h1M493 246.5h1M493 247.5h1M494 230.5h1M494 231.5h1M494 232.5h1M494 235.5h1M494 236.5h1M494 237.5h1M494 238.5h1M494 240.5h1M494 241.5h1M494 242.5h1M494 243.5h1M494 244.5h1M494 245.5h1M494 247.5h1M494 248.5h1M495 227.5h1M495 228.5h1M495 234.5h1M495 235.5h1M495 236.5h1M495 237.5h1M495 238.5h1M495 239.5h1M495 240.5h1M495 241.5h1M495 242.5h1M495 243.5h1M495 244.5h1M495 245.5h1M495 247.5h1M496 228.5h1M496 230.5h1M496 231.5h1M496 233.5h1M496 234.5h1M496 235.5h1M496 236.5h1M496 237.5h1M496 238.5h1M496 239.5h1M496 240.5h1M496 241.5h1M496 242.5h1M496 243.5h1M496 244.5h1M496 248.5h1M497 222.5h1M497 225.5h1M497 227.5h1M497 229.5h1M497 230.5h1M497 231.5h1M497 232.5h1M497 233.5h1M497 235.5h1M497 236.5h1M497 237.5h1M497 238.5h1M497 240.5h1M497 242.5h1M497 243.5h1M497 245.5h1M497 247.5h1M498 217.5h1M498 223.5h1M498 224.5h1M498 225.5h1M498 226.5h1M498 227.5h1M498 228.5h1M498 229.5h1M498 230.5h1M498 234.5h1M498 235.5h1M498 238.5h1M498 241.5h1M498 242.5h1M498 245.5h1M498 246.5h1M498 247.5h1M499 218.5h1M499 219.5h1M499 220.5h1M499 221.5h1M499 224.5h1M499 225.5h1M499 226.5h1M499 227.5h1M499 239.5h1M499 240.5h1M499 241.5h1M499 242.5h1M499 244.5h1M500 217.5h1M500 218.5h1M500 226.5h1M500 237.5h1M500 244.5h1M501 217.5h1M501 218.5h1" stroke="#222" stroke-width="1" stroke-opacity="0.82" fill="none"/><path d="M440 204.5h1M441 207.5h1M441 209.5h1M442 202.5h1M442 203.5h1M442 204.5h1M442 207.5h1M442 208.5h1M442 209.5h1M442 210.5h1M442 212.5h1M443 203.5h1M443 206.5h1M443 207.5h1M444 202.5h1M444 203.5h1M444 204.5h1M444 206.5h1M444 207.5h1M444 208.5h1M445 203.5h1M445 208.5h1M446 203.5h1M446 207.5h1M446 213.5h1M447 203.5h1M447 206.5h1M447 208.5h1M447 209.5h1M448 203.5h1M448 208.5h1M449 205.5h1M449 207.5h1M450 203.5h1M450 208.5h1M451 205.5h1M451 207.5h1M452 204.5h1M452 205.5h1M452 206.5h1M452 208.5h1M453 202.5h1M453 204.5h1M453 207.5h1M454 200.5h1M454 202.5h1M454 204.5h1M454 206.5h1M454 207.5h1M454 210.5h1M455 201.5h1M455 202.5h1M455 203.5h1M455 204.5h1M455 205.5h1M455 206.5h1M456 203.5h1M456 204.5h1M456 208.5h1M457 202.5h1M457 206.5h1M458 202.5h1M458 205.5h1M459 200.5h1M459 202.5h1M459 204.5h1M459 206.5h1M460 201.5h1M460 202.5h1M460 205.5h1M460 206.5h1M461 201.5h1M461 203.5h1M461 208.5h1M462 198.5h1M462 200.5h1M462 204.5h1M462 207.5h1M463 198.5h1M463 202.5h1M463 204.5h1M463 206.5h1M463 207.5h1M464 202.5h1M464 204.5h1M464 205.5h1M465 197.5h1M465 202.5h1M465 203.5h1M465 205.5h1M465 207.5h1M466 205.5h1M467 200.5h1M467 201.5h1M467 202.5h1M467 204.5h1M467 205.5h1M468 200.5h1M468 202.5h1M468 203.5h1M468 204.5h1M469 200.5h1M469 201.5h1M469 202.5h1M469 210.5h1M470 199.5h1M470 200.5h1M470 201.5h1M470 203.5h1M470 205.5h1M471 200.5h1M471 202.5h1M471 203.5h1M472 200.5h1M472 202.5h1M472 203.5h1M472 204.5h1M472 205.5h1M473 197.5h1M473 201.5h1M473 203.5h1M473 204.5h1M474 199.5h1M474 200.5h1M474 202.5h1M474 203.5h1M474 204.5h1M474 207.5h1M475 201.5h1M475 202.5h1M475 204.5h1M475 205.5h1M476 197.5h1M476 201.5h1M476 204.5h1M477 197.5h1M477 199.5h1M477 200.5h1M477 201.5h1M477 203.5h1M478 200.5h1M479 197.5h1M479 201.5h1M479 202.5h1M479 203.5h1M479 205.5h1M479 206.5h1M479 207.5h1M480 197.5h1M480 198.5h1M480 199.5h1M480 202.5h1M480 203.5h1M480 204.5h1M481 198.5h1M481 201.5h1M481 203.5h1M482 201.5h1M482 202.5h1M483 196.5h1M483 199.5h1M483 201.5h1M483 202.5h1M484 198.5h1M484 201.5h1M485 196.5h1M485 203.5h1M486 194.5h1M486 197.5h1M486 198.5h1M486 199.5h1M486 202.5h1M486 204.5h1M486 205.5h1M486 208.5h1M487 193.5h1M487 194.5h1M487 196.5h1M487 199.5h1M487 200.5h1M487 204.5h1M487 206.5h1M488 192.5h1M488 196.5h1M488 198.5h1M488 199.5h1M488 204.5h1M489 193.5h1M489 194.5h1M489 195.5h1M489 198.5h1M489 199.5h1M489 200.5h1M489 201.5h1M489 202.5h1M489 204.5h1M489 206.5h1M489 207.5h1M489 209.5h1M490 195.5h1M490 198.5h1M490 199.5h1M490 202.5h1M490 204.5h1M490 205.5h1M490 207.5h1M490 208.5h1M490 209.5h1M490 210.5h1M491 193.5h1M491 194.5h1M491 196.5h1M491 197.5h1M491 198.5h1M491 199.5h1M491 200.5h1M491 203.5h1M491 204.5h1M491 205.5h1M491 206.5h1M491 211.5h1M491 212.5h1M492 192.5h1M492 194.5h1M492 195.5h1M492 198.5h1M492 199.5h1M492 200.5h1M492 201.5h1M492 202.5h1M492 204.5h1M492 206.5h1M492 208.5h1M492 209.5h1M492 211.5h1M493 196.5h1M493 200.5h1M493 202.5h1M493 203.5h1M493 207.5h1M493 209.5h1M493 210.5h1M493 211.5h1M494 193.5h1M494 194.5h1M494 196.5h1M494 197.5h1M494 198.5h1M494 199.5h1M494 200.5h1M494 201.5h1M494 202.5h1M494 203.5h1M494 206.5h1M494 208.5h1M494 209.5h1M494 212.5h1M495 198.5h1M495 199.5h1M495 200.5h1M495 201.5h1M495 202.5h1M495 203.5h1M495 204.5h1M495 205.5h1M495 207.5h1M495 208.5h1M495 210.5h1M496 192.5h1M496 195.5h1M496 199.5h1M496 200.5h1M496 201.5h1M496 202.5h1M496 203.5h1M496 206.5h1M496 208.5h1M496 210.5h1M497 195.5h1M497 196.5h1M497 197.5h1M497 198.5h1M497 203.5h1M497 204.5h1M497 206.5h1M497 209.5h1M498 193.5h1M498 195.5h1M498 197.5h1M498 201.5h1M498 202.5h1M498 204.5h1M498 205.5h1M498 206.5h1M498 207.5h1M498 208.5h1M498 211.5h1M498 212.5h1M499 193.5h1M499 196.5h1M499 198.5h1M499 199.5h1M499 202.5h1M499 203.5h1M499 204.5h1M499 207.5h1M500 194.5h1M500 196.5h1M500 197.5h1M500 200.5h1M500 204.5h1M500 206.5h1M500 209.5h1M500 210.5h1M501 193.5h1M501 204.5h1M501 212.5h1" stroke="#f0809e" stroke-width="1" stroke-opacity="0.6" fill="none"/><path d="M440 208.5h1M441 207.5h1M441 208.5h1M442 204.5h1M442 206.5h1M442 207.5h1M442 208.5h1M443 208.5h1M444 205.5h1M445 206.5h1M445 207.5h1M446 205.5h1M447 204.5h1M447 206.5h1M447 208.5h1M449 205.5h1M449 206.5h1M454 204.5h1M454 206.5h1M455 204.5h1M455 205.5h1M455 208.5h1M456 205.5h1M457 203.5h1M457 204.5h1M457 205.5h1M458 203.5h1M458 204.5h1M459 204.5h1M459 206.5h1M459 207.5h1M460 201.5h1M460 203.5h1M460 204.5h1M460 205.5h1M460 206.5h1M461 203.5h1M461 204.5h1M461 206.5h1M461 207.5h1M462 203.5h1M462 204.5h1M462 205.5h1M462 207.5h1M462 210.5h1M463 202.5h1M463 204.5h1M463 205.5h1M463 207.5h1M464 202.5h1M464 203.5h1M464 206.5h1M464 207.5h1M465 199.5h1M465 203.5h1M465 204.5h1M465 205.5h1M465 207.5h1M466 201.5h1M466 203.5h1M466 205.5h1M466 206.5h1M466 207.5h1M466 212.5h1M467 201.5h1M467 202.5h1M467 204.5h1M467 205.5h1M468 199.5h1M468 202.5h1M468 203.5h1M468 204.5h1M468 205.5h1M468 206.5h1M468 207.5h1M469 199.5h1M469 201.5h1M469 202.5h1M469 203.5h1M469 204.5h1M469 206.5h1M469 207.5h1M470 199.5h1M470 200.5h1M470 201.5h1M470 202.5h1M470 203.5h1M470 204.5h1M470 205.5h1M470 206.5h1M470 207.5h1M470 209.5h1M471 199.5h1M471 201.5h1M471 202.5h1M471 203.5h1M471 204.5h1M471 205.5h1M471 207.5h1M471 208.5h1M472 199.5h1M472 200.5h1M472 201.5h1M472 202.5h1M472 203.5h1M472 204.5h1M472 205.5h1M472 206.5h1M472 207.5h1M473 199.5h1M473 200.5h1M473 201.5h1M473 202.5h1M473 203.5h1M473 204.5h1M473 205.5h1M473 206.5h1M473 207.5h1M473 208.5h1M473 209.5h1M473 210.5h1M474 198.5h1M474 199.5h1M474 200.5h1M474 201.5h1M474 202.5h1M474 203.5h1M474 204.5h1M474 205.5h1M474 206.5h1M474 208.5h1M475 200.5h1M475 201.5h1M475 202.5h1M475 203.5h1M475 204.5h1M475 205.5h1M475 206.5h1M475 207.5h1M476 197.5h1M476 198.5h1M476 200.5h1M476 201.5h1M476 202.5h1M476 203.5h1M476 205.5h1M476 206.5h1M476 207.5h1M476 209.5h1M476 210.5h1M477 200.5h1M477 201.5h1M477 202.5h1M477 203.5h1M477 204.5h1M477 205.5h1M477 207.5h1M478 195.5h1M478 198.5h1M478 199.5h1M478 200.5h1M478 201.5h1M478 202.5h1M478 203.5h1M478 204.5h1M478 205.5h1M478 206.5h1M479 197.5h1M479 198.5h1M479 199.5h1M479 200.5h1M479 201.5h1M479 202.5h1M479 203.5h1M479 204.5h1M479 205.5h1M479 206.5h1M480 201.5h1M480 202.5h1M480 203.5h1M480 205.5h1M480 208.5h1M481 197.5h1M481 198.5h1M481 199.5h1M481 201.5h1M481 202.5h1M481 203.5h1M481 209.5h1M482 198.5h1M482 199.5h1M482 201.5h1M482 202.5h1M482 203.5h1M482 205.5h1M483 196.5h1M483 198.5h1M483 199.5h1M483 200.5h1M483 201.5h1M483 203.5h1M483 204.5h1M483 205.5h1M484 199.5h1M484 200.5h1M484 201.5h1M484 202.5h1M484 203.5h1M484 206.5h1M485 199.5h1M485 200.5h1M485 201.5h1M485 202.5h1M485 205.5h1M486 197.5h1M486 199.5h1M486 202.5h1M487 199.5h1M487 201.5h1M487 203.5h1M489 198.5h1M489 203.5h1M489 204.5h1M490 199.5h1M491 197.5h1M497 203.5h1M500 192.5h1M500 193.5h1M500 194.5h1M500 195.5h1M500 196.5h1M500 197.5h1M500 201.5h1M500 202.5h1M500 203.5h1M500 204.5h1M500 205.5h1M500 207.5h1M500 208.5h1M500 209.5h1M501 194.5h1M501 195.5h1M501 196.5h1M501 199.5h1M501 200.5h1M501 202.5h1M501 203.5h1M501 204.5h1M501 205.5h1M501 206.5h1M501 207.5h1M501 210.5h1M501 211.5h1" stroke="#e01c50" stroke-width="1" stroke-opacity="0.85" fill="none"/><g stroke="#222" stroke-width="0.9" fill="none"><rect x="438.7" y="190.7" width="63.3" height="58.6"/><line x1="438.7" y1="214" x2="502" y2="214"/><line x1="486.5" y1="190.7" x2="486.5" y2="249.3"/></g><text x="438.7" y="253.5" font-size="3.4" text-anchor="middle" fill="#555">10<tspan dy="-1" font-size="2.4">0</tspan></text><line x1="438.7" y1="249.3" x2="438.7" y2="250.3" stroke="#444" stroke-width="0.5"/><text x="454.5" y="253.5" font-size="3.4" text-anchor="middle" fill="#555">10<tspan dy="-1" font-size="2.4">1</tspan></text><line x1="454.5" y1="249.3" x2="454.5" y2="250.3" stroke="#444" stroke-width="0.5"/><text x="470.4" y="253.5" font-size="3.4" text-anchor="middle" fill="#555">10<tspan dy="-1" font-size="2.4">2</tspan></text><line x1="470.4" y1="249.3" x2="470.4" y2="250.3" stroke="#444" stroke-width="0.5"/><text x="486.2" y="253.5" font-size="3.4" text-anchor="middle" fill="#555">10<tspan dy="-1" font-size="2.4">3</tspan></text><line x1="486.2" y1="249.3" x2="486.2" y2="250.3" stroke="#444" stroke-width="0.5"/><text x="502" y="253.5" font-size="3.4" text-anchor="middle" fill="#555">10<tspan dy="-1" font-size="2.4">4</tspan></text><line x1="502" y1="249.3" x2="502" y2="250.3" stroke="#444" stroke-width="0.5"/><text x="470.4" y="257.6" font-size="2.8" text-anchor="middle" fill="#666">FL1-H</text><text x="437.5" y="193.2" font-size="3.2" text-anchor="end" fill="#666">10<tspan dy="-1" font-size="2.3">1</tspan></text><text x="437.5" y="204.3" font-size="3.2" text-anchor="end" fill="#666">10<tspan dy="-1" font-size="2.3">1</tspan></text><text x="437.5" y="217" font-size="3.2" text-anchor="end" fill="#666">10<tspan dy="-1" font-size="2.3">1</tspan></text><text x="437.5" y="234.4" font-size="3.2" text-anchor="end" fill="#666">10<tspan dy="-1" font-size="2.3">1</tspan></text><text x="437.5" y="249.3" font-size="3.2" text-anchor="end" fill="#666">10<tspan dy="-1" font-size="2.3">1</tspan></text><text transform="translate(433.7,217) rotate(-90)" font-size="2.8" text-anchor="middle" fill="#777">FL2-H</text><rect x="442.5" y="193" width="34" height="5.8" fill="#fff"/><text class="s" x="443.3" y="197.6" font-size="5.8" text-anchor="start" fill="#111" stroke="#111" stroke-width="0.45" textLength="32.4" lengthAdjust="spacingAndGlyphs" xml:space="preserve">TRAIL-treated</text><text class="s" x="417.6" y="20.8" font-size="4.9" text-anchor="middle" fill="#111" stroke="#111" stroke-width="0.2" textLength="14.8" lengthAdjust="spacingAndGlyphs" >72.8%</text><polygon points="413.5,22.1 418.5,22.1 416,26.5" fill="#111"/><text class="s" x="495.6" y="20.8" font-size="4.9" text-anchor="middle" fill="#111" stroke="#111" stroke-width="0.2" textLength="14.8" lengthAdjust="spacingAndGlyphs" >11.1%</text><polygon points="491.2,22.1 496.2,22.1 493.7,26.5" fill="#111"/><text class="s" x="417.2" y="102.4" font-size="4.9" text-anchor="middle" fill="#111" stroke="#111" stroke-width="0.2" textLength="14.8" lengthAdjust="spacingAndGlyphs" >53.6%</text><polygon points="412.5,103 417.5,103 415,106.8" fill="#111"/><text class="s" x="495.6" y="102.4" font-size="4.9" text-anchor="middle" fill="#111" stroke="#111" stroke-width="0.2" textLength="14.8" lengthAdjust="spacingAndGlyphs" >41.9%</text><polygon points="491.3,103 496.3,103 493.8,106.8" fill="#111"/><text class="s" x="417.7" y="181.4" font-size="4.9" text-anchor="middle" fill="#111" stroke="#111" stroke-width="0.2" textLength="14.8" lengthAdjust="spacingAndGlyphs" >60.5%</text><polygon points="414.8,183 419.8,183 417.3,186.8" fill="#111"/><text class="s" x="496.2" y="181.4" font-size="4.9" text-anchor="middle" fill="#111" stroke="#111" stroke-width="0.2" textLength="14.8" lengthAdjust="spacingAndGlyphs" >35.0%</text><polygon points="491.9,183 496.9,183 494.4,186.8" fill="#111"/><text x="5" y="293.8" font-size="11.5" text-anchor="start" fill="#111" stroke="#111" stroke-width="0.58" textLength="7.4" lengthAdjust="spacingAndGlyphs" >C</text><text x="48.5" y="290.9" font-size="8" text-anchor="start" fill="#111" stroke="#111" stroke-width="0.4" textLength="6.4" lengthAdjust="spacingAndGlyphs" >Pt</text><text x="63" y="290.9" font-size="8" text-anchor="start" fill="#111" stroke="#111" stroke-width="0.4" textLength="5.2" lengthAdjust="spacingAndGlyphs" >#</text><text x="71.5" y="291" font-size="9.2" text-anchor="start" fill="#111" stroke="#111" stroke-width="0.46" textLength="20.2" lengthAdjust="spacingAndGlyphs" >B-04</text><text x="95.7" y="290.6" font-size="6" text-anchor="start" fill="#111" stroke="#111" stroke-width="0.3" textLength="20.2" lengthAdjust="spacingAndGlyphs" >(group</text><text x="116.2" y="291" font-size="8" text-anchor="start" fill="#111" stroke="#111" stroke-width="0.4" textLength="8.6" lengthAdjust="spacingAndGlyphs" >B)</text><text x="69.8" y="308.5" font-size="7.6" text-anchor="start" fill="#111" stroke="#111" stroke-width="0.38" textLength="40.4" lengthAdjust="spacingAndGlyphs" >Cocultures</text><text x="151.9" y="309.4" font-size="7.6" text-anchor="start" fill="#111" stroke="#111" stroke-width="0.38" textLength="28.3" lengthAdjust="spacingAndGlyphs" >Control</text><g stroke="#333" stroke-width="0.8" fill="none"><polyline points="49.6,318 49.6,546.2 209,546.2"/></g><polygon points="47.8,319 51.4,319 49.6,314.5" fill="#222"/><polygon points="208,544.4 208,548 212.3,546.2" fill="#222"/><text transform="translate(45.3,415) rotate(-90)" font-size="7.3" text-anchor="middle" fill="#111" stroke="#111" stroke-width="0.35" font-family="Liberation Sans, sans-serif" font-weight="bold" textLength="50" lengthAdjust="spacingAndGlyphs">Glycophorin A</text><text x="113" y="554.6" font-size="7.4" text-anchor="start" fill="#111" stroke="#111" stroke-width="0.37" textLength="37.4" lengthAdjust="spacingAndGlyphs" >Annexin-V</text><path d="M62 363.5h1M63 340.5h1M63 345.5h1M63 359.5h1M63 361.5h1M63 364.5h1M63 368.5h1M64 349.5h1M64 361.5h1M64 362.5h1M64 364.5h1M64 365.5h1M64 366.5h1M65 345.5h1M65 350.5h1M65 352.5h1M65 359.5h1M65 367.5h1M66 356.5h1M66 362.5h1M66 364.5h1M66 367.5h1M67 353.5h1M67 356.5h1M67 365.5h1M67 366.5h1M68 364.5h1M68 367.5h1M69 339.5h1M69 356.5h1M69 358.5h1M69 363.5h1M69 365.5h1M70 350.5h1M70 358.5h1M70 359.5h1M70 362.5h1M70 363.5h1M71 352.5h1M71 355.5h1M71 356.5h1M71 360.5h1M71 365.5h1M71 368.5h1M72 337.5h1M72 352.5h1M72 354.5h1M72 355.5h1M72 369.5h1M72 370.5h1M73 342.5h1M73 347.5h1M73 351.5h1M73 354.5h1M73 355.5h1M73 356.5h1M73 357.5h1M73 358.5h1M73 360.5h1M73 361.5h1M73 362.5h1M73 364.5h1M73 368.5h1M74 345.5h1M74 355.5h1M74 359.5h1M74 361.5h1M74 362.5h1M74 363.5h1M74 367.5h1M75 351.5h1M75 352.5h1M75 356.5h1M75 358.5h1M75 359.5h1M75 360.5h1M75 362.5h1M75 363.5h1M76 341.5h1M76 355.5h1M76 357.5h1M76 358.5h1M76 361.5h1M76 362.5h1M76 363.5h1M76 366.5h1M76 368.5h1M77 357.5h1M77 358.5h1M77 364.5h1M77 365.5h1M77 370.5h1M78 348.5h1M78 355.5h1M78 356.5h1M78 361.5h1M78 362.5h1M78 364.5h1M78 365.5h1M79 348.5h1M79 355.5h1M79 358.5h1M79 365.5h1M79 367.5h1M79 368.5h1M79 369.5h1M80 345.5h1M80 349.5h1M80 351.5h1M80 353.5h1M80 365.5h1M80 366.5h1M81 338.5h1M81 342.5h1M81 349.5h1M81 354.5h1M81 358.5h1M81 362.5h1M81 364.5h1M81 365.5h1M81 366.5h1M81 367.5h1M81 368.5h1M82 341.5h1M82 355.5h1M82 356.5h1M82 360.5h1M82 361.5h1M82 365.5h1M82 366.5h1M82 367.5h1M83 352.5h1M83 363.5h1M83 364.5h1M83 367.5h1M83 368.5h1M83 369.5h1M84 341.5h1M84 346.5h1M84 358.5h1M84 360.5h1M84 364.5h1M84 365.5h1M84 366.5h1M85 357.5h1M85 360.5h1M85 361.5h1M85 366.5h1M85 369.5h1M86 366.5h1M87 341.5h1M87 349.5h1M87 352.5h1M87 356.5h1M87 361.5h1M87 363.5h1M88 359.5h1M88 361.5h1M88 364.5h1M88 366.5h1M88 367.5h1M89 349.5h1M89 350.5h1M89 362.5h1M89 363.5h1M89 367.5h1M90 357.5h1M90 361.5h1M90 363.5h1M90 364.5h1M90 366.5h1M90 369.5h1M90 370.5h1M91 349.5h1M91 359.5h1M91 362.5h1M91 366.5h1M92 339.5h1M92 344.5h1M92 359.5h1M92 361.5h1M92 362.5h1M92 365.5h1M92 366.5h1M92 367.5h1M93 363.5h1M93 366.5h1M93 368.5h1M93 369.5h1M94 353.5h1M94 360.5h1M94 363.5h1M94 365.5h1M94 366.5h1M94 368.5h1M94 369.5h1M95 349.5h1M95 350.5h1M95 357.5h1M95 363.5h1M95 365.5h1M96 356.5h1M96 361.5h1M96 367.5h1M97 344.5h1M97 351.5h1M97 360.5h1M97 365.5h1M97 368.5h1M98 354.5h1M98 361.5h1M98 364.5h1M98 369.5h1M99 337.5h1M99 353.5h1M99 355.5h1M99 363.5h1M99 366.5h1M100 359.5h1M100 363.5h1M101 358.5h1M101 362.5h1M101 367.5h1M102 351.5h1M102 355.5h1M102 364.5h1M104 359.5h1M104 367.5h1M105 363.5h1M105 365.5h1M105 366.5h1M106 342.5h1M106 353.5h1M106 363.5h1M106 365.5h1M107 362.5h1M108 347.5h1M108 364.5h1M109 358.5h1M109 359.5h1M109 366.5h1M109 367.5h1M110 357.5h1M110 367.5h1M112 344.5h1M112 348.5h1M112 355.5h1M112 362.5h1M112 365.5h1M112 369.5h1M113 366.5h1M114 336.5h1M114 342.5h1M114 357.5h1M116 338.5h1M116 344.5h1M116 347.5h1M116 355.5h1M117 363.5h1M118 357.5h1M119 348.5h1M119 359.5h1M120 339.5h1M120 347.5h1M120 365.5h1M120 367.5h1M121 340.5h1M121 365.5h1M122 369.5h1M123 338.5h1M123 368.5h1M124 346.5h1M124 359.5h1M124 360.5h1M125 340.5h1M125 358.5h1M127 366.5h1M127 369.5h1M128 363.5h1M129 338.5h1" stroke="#444" stroke-width="1" stroke-opacity="0.7" fill="none"/><path d="M96 356.5h1M96 358.5h1M97 353.5h1M97 363.5h1M98 345.5h1M98 351.5h1M98 352.5h1M98 353.5h1M98 365.5h1M99 341.5h1M99 346.5h1M99 349.5h1M99 350.5h1M99 351.5h1M99 355.5h1M99 357.5h1M99 358.5h1M99 360.5h1M99 361.5h1M99 364.5h1M100 345.5h1M100 351.5h1M100 352.5h1M100 353.5h1M100 355.5h1M100 356.5h1M100 357.5h1M100 358.5h1M100 359.5h1M100 360.5h1M100 362.5h1M100 364.5h1M101 343.5h1M101 344.5h1M101 347.5h1M101 350.5h1M101 352.5h1M101 353.5h1M101 354.5h1M101 358.5h1M101 360.5h1M101 362.5h1M101 363.5h1M101 364.5h1M101 366.5h1M101 367.5h1M101 369.5h1M102 342.5h1M102 350.5h1M102 351.5h1M102 352.5h1M102 353.5h1M102 355.5h1M102 356.5h1M102 358.5h1M102 359.5h1M102 361.5h1M102 364.5h1M102 365.5h1M102 368.5h1M102 369.5h1M103 340.5h1M103 345.5h1M103 346.5h1M103 350.5h1M103 351.5h1M103 353.5h1M103 354.5h1M103 355.5h1M103 356.5h1M103 357.5h1M103 359.5h1M103 360.5h1M103 361.5h1M103 367.5h1M103 368.5h1M104 345.5h1M104 350.5h1M104 351.5h1M104 352.5h1M104 353.5h1M104 355.5h1M104 356.5h1M104 357.5h1M104 358.5h1M104 359.5h1M104 360.5h1M104 361.5h1M104 362.5h1M104 363.5h1M104 365.5h1M105 342.5h1M105 346.5h1M105 349.5h1M105 350.5h1M105 352.5h1M105 357.5h1M105 359.5h1M105 360.5h1M105 362.5h1M105 363.5h1M105 367.5h1M105 368.5h1M106 338.5h1M106 339.5h1M106 340.5h1M106 341.5h1M106 342.5h1M106 343.5h1M106 346.5h1M106 347.5h1M106 348.5h1M106 349.5h1M106 351.5h1M106 352.5h1M106 354.5h1M106 356.5h1M106 357.5h1M106 358.5h1M106 359.5h1M106 360.5h1M106 361.5h1M106 362.5h1M106 363.5h1M106 365.5h1M106 366.5h1M106 367.5h1M106 369.5h1M106 370.5h1M107 338.5h1M107 339.5h1M107 341.5h1M107 342.5h1M107 343.5h1M107 344.5h1M107 345.5h1M107 346.5h1M107 347.5h1M107 351.5h1M107 353.5h1M107 354.5h1M107 355.5h1M107 356.5h1M107 357.5h1M107 358.5h1M107 359.5h1M107 363.5h1M107 364.5h1M107 365.5h1M107 366.5h1M107 367.5h1M107 368.5h1M107 369.5h1M107 370.5h1M108 336.5h1M108 338.5h1M108 340.5h1M108 343.5h1M108 344.5h1M108 347.5h1M108 348.5h1M108 349.5h1M108 350.5h1M108 351.5h1M108 352.5h1M108 353.5h1M108 354.5h1M108 355.5h1M108 356.5h1M108 357.5h1M108 358.5h1M108 359.5h1M108 360.5h1M108 361.5h1M108 362.5h1M108 364.5h1M108 366.5h1M108 368.5h1M109 337.5h1M109 339.5h1M109 342.5h1M109 343.5h1M109 344.5h1M109 346.5h1M109 347.5h1M109 349.5h1M109 350.5h1M109 352.5h1M109 353.5h1M109 354.5h1M109 356.5h1M109 357.5h1M109 359.5h1M109 360.5h1M109 361.5h1M109 362.5h1M109 363.5h1M109 364.5h1M109 365.5h1M109 366.5h1M109 367.5h1M109 368.5h1M109 369.5h1M109 370.5h1M110 337.5h1M110 338.5h1M110 339.5h1M110 340.5h1M110 344.5h1M110 345.5h1M110 346.5h1M110 348.5h1M110 349.5h1M110 350.5h1M110 352.5h1M110 353.5h1M110 354.5h1M110 355.5h1M110 359.5h1M110 361.5h1M110 363.5h1M110 364.5h1M110 368.5h1M110 369.5h1M110 370.5h1M111 339.5h1M111 340.5h1M111 341.5h1M111 342.5h1M111 343.5h1M111 344.5h1M111 346.5h1M111 349.5h1M111 350.5h1M111 351.5h1M111 352.5h1M111 353.5h1M111 354.5h1M111 355.5h1M111 356.5h1M111 357.5h1M111 358.5h1M111 359.5h1M111 360.5h1M111 361.5h1M111 362.5h1M111 363.5h1M111 364.5h1M111 365.5h1M111 366.5h1M111 367.5h1M111 369.5h1M111 370.5h1M112 336.5h1M112 337.5h1M112 338.5h1M112 339.5h1M112 340.5h1M112 341.5h1M112 342.5h1M112 343.5h1M112 344.5h1M112 345.5h1M112 346.5h1M112 348.5h1M112 349.5h1M112 350.5h1M112 351.5h1M112 352.5h1M112 353.5h1M112 354.5h1M112 355.5h1M112 356.5h1M112 357.5h1M112 358.5h1M112 359.5h1M112 360.5h1M112 361.5h1M112 362.5h1M112 363.5h1M112 364.5h1M112 366.5h1M112 367.5h1M112 368.5h1M112 370.5h1M113 337.5h1M113 338.5h1M113 339.5h1M113 341.5h1M113 344.5h1M113 345.5h1M113 346.5h1M113 347.5h1M113 349.5h1M113 350.5h1M113 351.5h1M113 352.5h1M113 353.5h1M113 354.5h1M113 355.5h1M113 356.5h1M113 359.5h1M113 360.5h1M113 362.5h1M113 363.5h1M113 364.5h1M113 366.5h1M113 367.5h1M114 337.5h1M114 338.5h1M114 339.5h1M114 342.5h1M114 343.5h1M114 346.5h1M114 347.5h1M114 348.5h1M114 349.5h1M114 350.5h1M114 351.5h1M114 352.5h1M114 353.5h1M114 354.5h1M114 355.5h1M114 356.5h1M114 357.5h1M114 358.5h1M114 359.5h1M114 362.5h1M114 363.5h1M114 365.5h1M114 366.5h1M114 367.5h1M114 368.5h1M114 369.5h1M114 370.5h1M115 336.5h1M115 337.5h1M115 338.5h1M115 339.5h1M115 340.5h1M115 342.5h1M115 343.5h1M115 344.5h1M115 345.5h1M115 347.5h1M115 348.5h1M115 349.5h1M115 350.5h1M115 351.5h1M115 353.5h1M115 354.5h1M115 355.5h1M115 356.5h1M115 357.5h1M115 358.5h1M115 359.5h1M115 361.5h1M115 364.5h1M115 365.5h1M115 366.5h1M115 367.5h1M115 368.5h1M115 369.5h1M115 370.5h1M116 338.5h1M116 339.5h1M116 341.5h1M116 342.5h1M116 343.5h1M116 344.5h1M116 347.5h1M116 348.5h1M116 349.5h1M116 350.5h1M116 351.5h1M116 353.5h1M116 354.5h1M116 355.5h1M116 356.5h1M116 357.5h1M116 358.5h1M116 359.5h1M116 360.5h1M116 361.5h1M116 362.5h1M116 363.5h1M116 364.5h1M116 365.5h1M116 366.5h1M116 367.5h1M116 368.5h1M116 369.5h1M117 336.5h1M117 337.5h1M117 339.5h1M117 340.5h1M117 341.5h1M117 342.5h1M117 343.5h1M117 345.5h1M117 346.5h1M117 347.5h1M117 348.5h1M117 349.5h1M117 350.5h1M117 351.5h1M117 352.5h1M117 354.5h1M117 356.5h1M117 357.5h1M117 358.5h1M117 359.5h1M117 360.5h1M117 361.5h1M117 363.5h1M117 365.5h1M117 366.5h1M117 367.5h1M117 368.5h1M117 370.5h1M118 338.5h1M118 341.5h1M118 342.5h1M118 344.5h1M118 345.5h1M118 346.5h1M118 347.5h1M118 348.5h1M118 349.5h1M118 350.5h1M118 351.5h1M118 352.5h1M118 353.5h1M118 354.5h1M118 355.5h1M118 356.5h1M118 358.5h1M118 359.5h1M118 360.5h1M118 361.5h1M118 362.5h1M118 363.5h1M118 364.5h1M118 365.5h1M118 366.5h1M118 367.5h1M118 368.5h1M118 369.5h1M118 370.5h1M119 337.5h1M119 339.5h1M119 340.5h1M119 341.5h1M119 342.5h1M119 344.5h1M119 345.5h1M119 346.5h1M119 348.5h1M119 349.5h1M119 350.5h1M119 351.5h1M119 352.5h1M119 353.5h1M119 354.5h1M119 355.5h1M119 356.5h1M119 357.5h1M119 358.5h1M119 359.5h1M119 360.5h1M119 361.5h1M119 362.5h1M119 363.5h1M119 364.5h1M119 365.5h1M119 367.5h1M119 368.5h1M119 369.5h1M119 370.5h1M120 336.5h1M120 337.5h1M120 338.5h1M120 339.5h1M120 342.5h1M120 343.5h1M120 344.5h1M120 345.5h1M120 346.5h1M120 347.5h1M120 348.5h1M120 349.5h1M120 350.5h1M120 351.5h1M120 352.5h1M120 353.5h1M120 354.5h1M120 355.5h1M120 356.5h1M120 358.5h1M120 359.5h1M120 360.5h1M120 361.5h1M120 362.5h1M120 363.5h1M120 364.5h1M120 365.5h1M120 366.5h1M120 367.5h1M120 368.5h1M120 369.5h1M120 370.5h1M121 338.5h1M121 340.5h1M121 341.5h1M121 343.5h1M121 344.5h1M121 345.5h1M121 346.5h1M121 347.5h1M121 348.5h1M121 349.5h1M121 350.5h1M121 352.5h1M121 353.5h1M121 354.5h1M121 355.5h1M121 356.5h1M121 357.5h1M121 358.5h1M121 359.5h1M121 360.5h1M121 361.5h1M121 362.5h1M121 363.5h1M121 364.5h1M121 365.5h1M121 366.5h1M121 368.5h1M121 370.5h1M122 338.5h1M122 339.5h1M122 340.5h1M122 341.5h1M122 342.5h1M122 343.5h1M122 345.5h1M122 346.5h1M122 347.5h1M122 348.5h1M122 349.5h1M122 350.5h1M122 351.5h1M122 352.5h1M122 353.5h1M122 354.5h1M122 355.5h1M122 357.5h1M122 358.5h1M122 359.5h1M122 360.5h1M122 361.5h1M122 362.5h1M122 363.5h1M122 364.5h1M122 365.5h1M122 366.5h1M122 367.5h1M122 368.5h1M122 370.5h1M123 337.5h1M123 338.5h1M123 340.5h1M123 341.5h1M123 343.5h1M123 344.5h1M123 346.5h1M123 347.5h1M123 348.5h1M123 349.5h1M123 350.5h1M123 351.5h1M123 352.5h1M123 353.5h1M123 354.5h1M123 355.5h1M123 356.5h1M123 357.5h1M123 358.5h1M123 359.5h1M123 360.5h1M123 363.5h1M123 365.5h1M123 366.5h1M123 367.5h1M123 369.5h1M123 370.5h1M124 337.5h1M124 338.5h1M124 339.5h1M124 340.5h1M124 341.5h1M124 342.5h1M124 343.5h1M124 344.5h1M124 345.5h1M124 346.5h1M124 347.5h1M124 348.5h1M124 349.5h1M124 350.5h1M124 351.5h1M124 352.5h1M124 353.5h1M124 354.5h1M124 355.5h1M124 356.5h1M124 357.5h1M124 358.5h1M124 359.5h1M124 360.5h1M124 361.5h1M124 362.5h1M124 363.5h1M124 364.5h1M124 365.5h1M124 366.5h1M124 367.5h1M124 368.5h1M124 369.5h1M124 370.5h1M125 338.5h1M125 340.5h1M125 342.5h1M125 343.5h1M125 344.5h1M125 346.5h1M125 347.5h1M125 348.5h1M125 349.5h1M125 350.5h1M125 351.5h1M125 352.5h1M125 354.5h1M125 355.5h1M125 356.5h1M125 357.5h1M125 358.5h1M125 359.5h1M125 360.5h1M125 363.5h1M125 365.5h1M125 366.5h1M125 367.5h1M125 368.5h1M125 370.5h1M126 336.5h1M126 337.5h1M126 338.5h1M126 339.5h1M126 340.5h1M126 341.5h1M126 342.5h1M126 343.5h1M126 344.5h1M126 345.5h1M126 346.5h1M126 347.5h1M126 349.5h1M126 350.5h1M126 351.5h1M126 352.5h1M126 353.5h1M126 354.5h1M126 355.5h1M126 356.5h1M126 357.5h1M126 358.5h1M126 359.5h1M126 360.5h1M126 361.5h1M126 362.5h1M126 363.5h1M126 364.5h1M126 365.5h1M126 366.5h1M126 367.5h1M126 368.5h1M126 369.5h1M126 370.5h1M127 336.5h1M127 338.5h1M127 339.5h1M127 340.5h1M127 341.5h1M127 342.5h1M127 343.5h1M127 344.5h1M127 345.5h1M127 346.5h1M127 347.5h1M127 348.5h1M127 349.5h1M127 350.5h1M127 351.5h1M127 352.5h1M127 353.5h1M127 354.5h1M127 356.5h1M127 357.5h1M127 358.5h1M127 359.5h1M127 360.5h1M127 361.5h1M127 362.5h1M127 363.5h1M127 364.5h1M127 365.5h1M127 366.5h1M127 367.5h1M127 368.5h1M127 369.5h1M128 336.5h1M128 338.5h1M128 339.5h1M128 340.5h1M128 341.5h1M128 342.5h1M128 343.5h1M128 344.5h1M128 345.5h1M128 346.5h1M128 347.5h1M128 348.5h1M128 349.5h1M128 350.5h1M128 351.5h1M128 352.5h1M128 353.5h1M128 354.5h1M128 355.5h1M128 356.5h1M128 357.5h1M128 358.5h1M128 359.5h1M128 360.5h1M128 361.5h1M128 362.5h1M128 363.5h1M128 364.5h1M128 365.5h1M128 366.5h1M128 367.5h1M128 368.5h1M128 369.5h1M128 370.5h1M129 337.5h1M129 339.5h1M129 341.5h1M129 343.5h1M129 345.5h1M129 346.5h1M129 348.5h1M129 349.5h1M129 351.5h1M129 353.5h1M129 354.5h1M129 356.5h1M129 358.5h1M129 359.5h1M129 361.5h1M129 362.5h1M129 363.5h1M129 367.5h1M129 368.5h1" stroke="#222" stroke-width="1" stroke-opacity="0.82" fill="none"/><path d="M73 346.5h1M76 351.5h1M76 353.5h1M76 354.5h1M77 346.5h1M77 347.5h1M78 349.5h1M78 350.5h1M78 351.5h1M78 358.5h1M79 351.5h1M79 355.5h1M80 349.5h1M80 353.5h1M80 355.5h1M80 356.5h1M80 358.5h1M81 349.5h1M81 350.5h1M81 352.5h1M81 353.5h1M81 354.5h1M82 348.5h1M82 352.5h1M82 353.5h1M82 354.5h1M82 363.5h1M83 352.5h1M83 356.5h1M83 359.5h1M84 350.5h1M84 356.5h1M84 357.5h1M84 359.5h1M84 362.5h1M85 348.5h1M85 349.5h1M85 354.5h1M85 355.5h1M85 356.5h1M85 357.5h1M86 348.5h1M86 352.5h1M86 353.5h1M86 355.5h1M86 358.5h1M86 359.5h1M86 363.5h1M87 342.5h1M87 348.5h1M87 351.5h1M87 355.5h1M87 360.5h1M87 361.5h1M88 351.5h1M88 352.5h1M88 353.5h1M88 354.5h1M88 355.5h1M88 357.5h1M89 347.5h1M89 348.5h1M89 349.5h1M89 350.5h1M89 351.5h1M89 352.5h1M89 353.5h1M89 355.5h1M89 358.5h1M89 362.5h1M89 364.5h1M89 365.5h1M90 350.5h1M90 351.5h1M90 352.5h1M90 353.5h1M90 354.5h1M90 356.5h1M90 358.5h1M90 360.5h1M91 349.5h1M91 350.5h1M91 351.5h1M91 352.5h1M91 358.5h1M91 361.5h1M91 363.5h1M92 348.5h1M92 350.5h1M92 352.5h1M92 353.5h1M92 354.5h1M92 355.5h1M92 356.5h1M92 357.5h1M92 358.5h1M92 359.5h1M93 342.5h1M93 348.5h1M93 351.5h1M93 353.5h1M93 354.5h1M93 360.5h1M93 361.5h1M93 367.5h1M94 344.5h1M94 349.5h1M94 350.5h1M94 351.5h1M94 352.5h1M94 353.5h1M94 356.5h1M94 358.5h1M94 359.5h1M94 361.5h1M94 362.5h1M94 363.5h1M95 350.5h1M95 351.5h1M95 352.5h1M95 353.5h1M95 355.5h1M95 356.5h1M95 357.5h1M95 358.5h1M95 359.5h1M95 360.5h1M96 347.5h1M96 349.5h1M96 350.5h1M96 351.5h1M96 352.5h1M96 353.5h1M96 356.5h1M96 359.5h1M96 365.5h1M97 347.5h1M97 348.5h1M97 350.5h1M97 351.5h1M97 352.5h1M97 353.5h1M97 354.5h1M97 357.5h1M97 359.5h1M97 366.5h1M98 347.5h1M98 351.5h1M98 354.5h1M98 355.5h1M98 357.5h1M98 359.5h1M98 360.5h1M98 363.5h1M99 350.5h1M99 351.5h1M99 352.5h1M99 353.5h1M99 356.5h1M99 357.5h1M99 358.5h1M99 359.5h1M100 351.5h1M100 352.5h1M100 353.5h1M100 354.5h1M101 341.5h1M101 348.5h1M101 349.5h1M101 351.5h1M101 353.5h1M101 354.5h1M101 355.5h1M101 356.5h1M101 358.5h1M102 346.5h1M102 349.5h1M102 354.5h1M102 355.5h1M102 356.5h1M102 358.5h1M103 346.5h1M103 347.5h1M103 349.5h1M103 351.5h1M103 352.5h1M103 353.5h1M103 354.5h1M103 355.5h1M103 356.5h1M103 363.5h1M104 344.5h1M104 345.5h1M104 346.5h1M104 350.5h1M104 354.5h1M104 357.5h1M104 358.5h1M104 363.5h1M105 346.5h1M105 347.5h1M105 352.5h1M105 359.5h1M105 360.5h1M106 352.5h1M106 354.5h1M106 355.5h1M107 352.5h1M107 355.5h1M108 358.5h1M109 348.5h1M111 349.5h1M111 351.5h1M113 350.5h1M114 349.5h1M114 353.5h1" stroke="#98e698" stroke-width="1" stroke-opacity="0.8" fill="none"/><path d="M76 354.5h1M77 356.5h1M77 359.5h1M78 351.5h1M78 352.5h1M78 353.5h1M78 355.5h1M78 357.5h1M79 351.5h1M80 348.5h1M80 350.5h1M80 351.5h1M80 356.5h1M81 349.5h1M81 351.5h1M81 352.5h1M81 356.5h1M81 357.5h1M82 348.5h1M82 352.5h1M82 353.5h1M82 354.5h1M82 355.5h1M82 356.5h1M82 363.5h1M83 348.5h1M83 351.5h1M83 352.5h1M83 353.5h1M83 354.5h1M83 357.5h1M83 358.5h1M84 347.5h1M84 349.5h1M84 351.5h1M84 352.5h1M84 353.5h1M84 354.5h1M84 355.5h1M84 356.5h1M84 357.5h1M85 346.5h1M85 349.5h1M85 350.5h1M85 351.5h1M85 352.5h1M85 353.5h1M85 354.5h1M85 355.5h1M85 356.5h1M85 357.5h1M85 358.5h1M85 360.5h1M86 348.5h1M86 351.5h1M86 352.5h1M86 353.5h1M86 354.5h1M86 355.5h1M86 357.5h1M86 358.5h1M86 359.5h1M87 346.5h1M87 348.5h1M87 349.5h1M87 351.5h1M87 352.5h1M87 353.5h1M87 354.5h1M87 355.5h1M87 356.5h1M87 357.5h1M87 358.5h1M87 359.5h1M87 360.5h1M88 346.5h1M88 350.5h1M88 351.5h1M88 352.5h1M88 353.5h1M88 354.5h1M88 355.5h1M88 356.5h1M88 357.5h1M88 358.5h1M88 359.5h1M88 361.5h1M89 346.5h1M89 347.5h1M89 348.5h1M89 349.5h1M89 350.5h1M89 351.5h1M89 352.5h1M89 353.5h1M89 354.5h1M89 355.5h1M89 356.5h1M89 357.5h1M89 358.5h1M89 359.5h1M89 361.5h1M90 348.5h1M90 349.5h1M90 350.5h1M90 351.5h1M90 352.5h1M90 353.5h1M90 354.5h1M90 355.5h1M90 356.5h1M90 357.5h1M90 358.5h1M90 359.5h1M90 360.5h1M90 361.5h1M90 365.5h1M91 345.5h1M91 347.5h1M91 348.5h1M91 350.5h1M91 351.5h1M91 352.5h1M91 353.5h1M91 354.5h1M91 355.5h1M91 356.5h1M91 357.5h1M91 358.5h1M91 359.5h1M91 360.5h1M92 346.5h1M92 349.5h1M92 350.5h1M92 351.5h1M92 352.5h1M92 353.5h1M92 354.5h1M92 355.5h1M92 356.5h1M92 357.5h1M92 358.5h1M93 347.5h1M93 350.5h1M93 351.5h1M93 352.5h1M93 353.5h1M93 354.5h1M93 355.5h1M93 356.5h1M93 357.5h1M93 358.5h1M93 359.5h1M93 362.5h1M94 345.5h1M94 346.5h1M94 347.5h1M94 348.5h1M94 349.5h1M94 350.5h1M94 351.5h1M94 352.5h1M94 353.5h1M94 354.5h1M94 355.5h1M94 356.5h1M94 357.5h1M94 358.5h1M94 359.5h1M94 361.5h1M94 364.5h1M95 346.5h1M95 347.5h1M95 348.5h1M95 349.5h1M95 350.5h1M95 351.5h1M95 352.5h1M95 353.5h1M95 354.5h1M95 355.5h1M95 356.5h1M95 357.5h1M95 358.5h1M95 359.5h1M95 362.5h1M95 363.5h1M96 347.5h1M96 348.5h1M96 349.5h1M96 350.5h1M96 351.5h1M96 352.5h1M96 353.5h1M96 354.5h1M96 355.5h1M96 356.5h1M96 357.5h1M96 358.5h1M96 359.5h1M96 360.5h1M96 361.5h1M96 365.5h1M97 339.5h1M97 346.5h1M97 348.5h1M97 350.5h1M97 351.5h1M97 352.5h1M97 353.5h1M97 354.5h1M97 355.5h1M97 356.5h1M97 357.5h1M97 359.5h1M98 348.5h1M98 349.5h1M98 350.5h1M98 351.5h1M98 352.5h1M98 353.5h1M98 354.5h1M98 355.5h1M98 356.5h1M98 357.5h1M98 358.5h1M98 359.5h1M98 361.5h1M99 346.5h1M99 347.5h1M99 348.5h1M99 350.5h1M99 351.5h1M99 352.5h1M99 353.5h1M99 354.5h1M99 355.5h1M99 356.5h1M99 357.5h1M99 358.5h1M99 359.5h1M99 360.5h1M99 361.5h1M100 348.5h1M100 350.5h1M100 351.5h1M100 352.5h1M100 353.5h1M100 354.5h1M100 355.5h1M100 356.5h1M100 357.5h1M101 346.5h1M101 347.5h1M101 348.5h1M101 350.5h1M101 352.5h1M101 353.5h1M101 354.5h1M101 355.5h1M101 356.5h1M101 357.5h1M101 359.5h1M101 360.5h1M101 361.5h1M102 344.5h1M102 348.5h1M102 351.5h1M102 352.5h1M102 353.5h1M102 354.5h1M102 355.5h1M102 356.5h1M102 357.5h1M102 358.5h1M102 359.5h1M103 347.5h1M103 348.5h1M103 349.5h1M103 351.5h1M103 352.5h1M103 353.5h1M103 355.5h1M103 357.5h1M103 359.5h1M104 351.5h1M104 353.5h1M104 354.5h1M104 355.5h1M104 358.5h1M104 359.5h1M104 360.5h1M105 346.5h1M105 349.5h1M105 352.5h1M105 353.5h1M105 354.5h1M105 355.5h1M105 356.5h1M105 360.5h1M106 344.5h1M106 351.5h1M106 354.5h1M106 355.5h1M106 359.5h1M107 350.5h1M107 354.5h1M107 355.5h1M108 348.5h1M108 350.5h1M108 358.5h1M109 352.5h1M109 354.5h1M110 350.5h1M110 355.5h1M110 357.5h1M112 352.5h1" stroke="#48d248" stroke-width="1" stroke-opacity="0.85" fill="none"/><path d="M63 326.5h1M63 328.5h1M63 329.5h1M63 330.5h1M63 332.5h1M64 322.5h1M64 326.5h1M64 329.5h1M64 332.5h1M65 316.5h1M65 324.5h1M65 328.5h1M65 329.5h1M65 331.5h1M65 332.5h1M66 326.5h1M66 327.5h1M66 334.5h1M67 321.5h1M67 325.5h1M67 326.5h1M67 327.5h1M67 328.5h1M67 332.5h1M68 320.5h1M68 328.5h1M68 329.5h1M68 330.5h1M68 331.5h1M69 324.5h1M69 326.5h1M69 328.5h1M69 331.5h1M69 334.5h1M70 328.5h1M70 329.5h1M70 330.5h1M70 331.5h1M71 325.5h1M71 327.5h1M71 328.5h1M71 330.5h1M72 327.5h1M72 328.5h1M72 332.5h1M73 324.5h1M73 327.5h1M73 329.5h1M73 331.5h1M74 325.5h1M75 323.5h1M75 324.5h1M75 328.5h1M75 330.5h1M75 331.5h1M75 333.5h1M76 323.5h1M76 324.5h1M76 327.5h1M76 330.5h1M76 331.5h1M77 325.5h1M77 328.5h1M77 330.5h1M78 324.5h1M78 325.5h1M78 328.5h1M78 329.5h1M78 332.5h1M79 315.5h1M79 322.5h1M79 327.5h1M79 328.5h1M79 329.5h1M80 326.5h1M80 327.5h1M80 328.5h1M80 329.5h1M80 330.5h1M80 332.5h1M80 335.5h1M81 322.5h1M81 328.5h1M81 330.5h1M81 333.5h1M82 324.5h1M82 325.5h1M82 327.5h1M82 328.5h1M82 329.5h1M82 332.5h1M83 326.5h1M83 327.5h1M83 331.5h1M84 317.5h1M84 324.5h1M84 328.5h1M85 325.5h1M85 326.5h1M85 327.5h1M85 328.5h1M85 329.5h1M85 330.5h1M85 331.5h1M85 333.5h1M86 323.5h1M86 324.5h1M86 326.5h1M86 328.5h1M86 329.5h1M86 334.5h1M87 325.5h1M87 327.5h1M87 328.5h1M87 330.5h1M88 323.5h1M88 327.5h1M88 328.5h1M88 330.5h1M88 331.5h1M89 324.5h1M90 324.5h1M90 325.5h1M90 326.5h1M90 327.5h1M90 329.5h1M90 332.5h1M91 320.5h1M91 325.5h1M91 328.5h1M91 330.5h1M91 332.5h1M92 323.5h1M92 327.5h1M92 328.5h1M92 330.5h1M93 325.5h1M93 326.5h1M93 328.5h1M93 330.5h1M93 334.5h1M94 322.5h1M94 324.5h1M94 325.5h1M94 326.5h1M94 327.5h1M94 328.5h1M94 329.5h1M94 330.5h1M95 324.5h1M95 325.5h1M95 327.5h1M95 328.5h1M95 331.5h1M95 333.5h1M96 324.5h1M96 327.5h1M96 331.5h1M97 325.5h1M97 327.5h1M97 328.5h1M98 325.5h1M98 327.5h1M98 329.5h1M98 330.5h1M98 331.5h1M99 326.5h1M99 330.5h1M99 331.5h1M100 326.5h1M100 327.5h1M100 329.5h1M100 330.5h1M100 331.5h1M100 332.5h1M100 334.5h1M101 324.5h1M101 325.5h1M101 330.5h1M101 331.5h1M101 332.5h1M102 325.5h1M102 328.5h1M102 329.5h1M103 325.5h1M103 328.5h1M103 329.5h1M103 330.5h1M103 333.5h1M104 324.5h1M104 325.5h1M104 328.5h1M104 330.5h1M105 325.5h1M105 327.5h1M105 329.5h1M105 330.5h1M105 335.5h1M106 324.5h1M106 326.5h1M106 329.5h1M106 333.5h1M107 324.5h1M107 327.5h1M107 328.5h1M107 329.5h1M108 323.5h1M108 324.5h1M108 325.5h1M108 326.5h1M108 327.5h1M108 328.5h1M108 331.5h1M109 324.5h1M109 329.5h1M109 330.5h1M109 331.5h1M109 332.5h1M110 325.5h1M110 328.5h1M110 329.5h1M110 332.5h1M111 323.5h1M111 324.5h1M111 326.5h1M111 329.5h1M111 330.5h1M111 331.5h1M112 325.5h1M112 326.5h1M112 327.5h1M112 328.5h1M112 330.5h1M112 331.5h1M112 332.5h1M113 320.5h1M113 326.5h1M113 327.5h1M113 328.5h1M113 329.5h1M113 333.5h1M114 324.5h1M114 325.5h1M114 326.5h1M114 327.5h1M114 331.5h1M114 332.5h1M115 319.5h1M115 325.5h1M115 327.5h1M115 330.5h1M115 331.5h1M115 332.5h1M116 324.5h1M116 325.5h1M116 330.5h1M116 333.5h1M117 324.5h1M117 326.5h1M117 327.5h1M117 328.5h1M117 329.5h1M117 330.5h1M117 331.5h1M118 323.5h1M118 325.5h1M118 326.5h1M118 327.5h1M118 329.5h1M118 330.5h1M118 331.5h1M119 323.5h1M119 326.5h1M119 329.5h1M119 330.5h1M119 331.5h1M120 325.5h1M120 326.5h1M120 328.5h1M120 329.5h1M120 333.5h1M121 323.5h1M121 326.5h1M121 327.5h1M121 328.5h1M121 329.5h1M121 330.5h1M121 331.5h1M122 324.5h1M122 325.5h1M122 326.5h1M122 328.5h1M122 330.5h1M122 331.5h1M123 324.5h1M123 326.5h1M123 327.5h1M123 328.5h1M123 329.5h1M123 330.5h1M124 326.5h1M124 328.5h1M124 329.5h1M124 330.5h1M124 331.5h1M125 323.5h1M125 324.5h1M125 325.5h1M125 326.5h1M125 327.5h1M125 331.5h1M126 326.5h1M126 327.5h1M126 328.5h1M126 330.5h1M126 333.5h1M127 321.5h1M127 324.5h1M127 327.5h1M127 329.5h1M127 331.5h1M128 326.5h1M128 327.5h1M128 331.5h1" stroke="#f0809e" stroke-width="1" stroke-opacity="0.6" fill="none"/><path d="M62 328.5h1M62 330.5h1M63 326.5h1M63 328.5h1M63 329.5h1M63 330.5h1M63 331.5h1M63 333.5h1M64 325.5h1M64 328.5h1M64 329.5h1M64 330.5h1M64 331.5h1M64 332.5h1M65 326.5h1M65 327.5h1M65 328.5h1M65 329.5h1M65 330.5h1M65 333.5h1M66 326.5h1M66 327.5h1M66 328.5h1M66 329.5h1M66 330.5h1M66 331.5h1M66 333.5h1M67 326.5h1M67 327.5h1M67 328.5h1M67 329.5h1M67 330.5h1M67 331.5h1M67 332.5h1M68 325.5h1M68 327.5h1M68 328.5h1M68 330.5h1M68 331.5h1M68 333.5h1M69 325.5h1M69 327.5h1M69 328.5h1M69 329.5h1M69 330.5h1M69 331.5h1M70 324.5h1M70 325.5h1M70 326.5h1M70 327.5h1M70 328.5h1M70 330.5h1M70 332.5h1M71 326.5h1M71 327.5h1M71 328.5h1M71 329.5h1M71 330.5h1M71 331.5h1M71 332.5h1M72 326.5h1M72 327.5h1M72 328.5h1M72 329.5h1M72 331.5h1M72 332.5h1M73 325.5h1M73 326.5h1M73 327.5h1M73 328.5h1M73 330.5h1M73 331.5h1M74 325.5h1M74 326.5h1M74 327.5h1M74 328.5h1M74 329.5h1M74 330.5h1M74 331.5h1M74 333.5h1M75 325.5h1M75 326.5h1M75 327.5h1M75 328.5h1M75 329.5h1M75 330.5h1M75 331.5h1M75 332.5h1M76 326.5h1M76 327.5h1M76 328.5h1M76 329.5h1M76 330.5h1M76 331.5h1M76 332.5h1M76 334.5h1M77 325.5h1M77 326.5h1M77 328.5h1M77 329.5h1M77 331.5h1M77 332.5h1M78 325.5h1M78 326.5h1M78 327.5h1M78 328.5h1M78 329.5h1M78 330.5h1M78 331.5h1M79 327.5h1M79 328.5h1M79 329.5h1M79 330.5h1M79 331.5h1M79 333.5h1M80 323.5h1M80 325.5h1M80 326.5h1M80 327.5h1M80 328.5h1M80 329.5h1M80 330.5h1M80 331.5h1M80 332.5h1M81 326.5h1M81 327.5h1M81 328.5h1M81 329.5h1M81 330.5h1M81 331.5h1M81 332.5h1M81 335.5h1M82 325.5h1M82 326.5h1M82 327.5h1M82 328.5h1M82 329.5h1M82 330.5h1M82 331.5h1M82 332.5h1M83 324.5h1M83 325.5h1M83 326.5h1M83 327.5h1M83 328.5h1M83 329.5h1M83 330.5h1M83 331.5h1M84 327.5h1M84 328.5h1M84 329.5h1M84 330.5h1M84 332.5h1M84 333.5h1M85 323.5h1M85 325.5h1M85 326.5h1M85 327.5h1M85 328.5h1M85 329.5h1M85 330.5h1M85 331.5h1M85 332.5h1M86 325.5h1M86 326.5h1M86 327.5h1M86 329.5h1M86 330.5h1M86 332.5h1M86 333.5h1M87 325.5h1M87 326.5h1M87 327.5h1M87 328.5h1M87 329.5h1M87 330.5h1M87 331.5h1M87 332.5h1M88 323.5h1M88 324.5h1M88 326.5h1M88 327.5h1M88 328.5h1M88 330.5h1M88 332.5h1M88 333.5h1M89 324.5h1M89 325.5h1M89 326.5h1M89 327.5h1M89 328.5h1M89 329.5h1M89 330.5h1M89 331.5h1M89 334.5h1M90 323.5h1M90 326.5h1M90 327.5h1M90 328.5h1M90 329.5h1M90 330.5h1M90 331.5h1M90 332.5h1M91 323.5h1M91 325.5h1M91 326.5h1M91 327.5h1M91 328.5h1M91 329.5h1M91 330.5h1M91 331.5h1M91 332.5h1M92 322.5h1M92 325.5h1M92 326.5h1M92 327.5h1M92 328.5h1M92 330.5h1M92 331.5h1M93 326.5h1M93 327.5h1M93 328.5h1M93 329.5h1M93 330.5h1M93 331.5h1M94 321.5h1M94 325.5h1M94 326.5h1M94 327.5h1M94 328.5h1M94 329.5h1M94 330.5h1M94 331.5h1M94 332.5h1M95 322.5h1M95 325.5h1M95 327.5h1M95 328.5h1M95 329.5h1M95 330.5h1M95 331.5h1M96 325.5h1M96 326.5h1M96 327.5h1M96 328.5h1M96 329.5h1M96 330.5h1M96 332.5h1M97 322.5h1M97 325.5h1M97 326.5h1M97 327.5h1M97 328.5h1M97 329.5h1M97 331.5h1M98 323.5h1M98 324.5h1M98 326.5h1M98 327.5h1M98 328.5h1M98 331.5h1M98 333.5h1M99 323.5h1M99 327.5h1M99 328.5h1M99 329.5h1M99 330.5h1M99 331.5h1M99 332.5h1M100 323.5h1M100 325.5h1M100 326.5h1M100 327.5h1M100 328.5h1M100 329.5h1M100 330.5h1M100 331.5h1M100 332.5h1M101 325.5h1M101 326.5h1M101 327.5h1M101 328.5h1M101 329.5h1M101 331.5h1M101 333.5h1M102 321.5h1M102 325.5h1M102 326.5h1M102 327.5h1M102 328.5h1M102 329.5h1M102 330.5h1M102 332.5h1M103 325.5h1M103 327.5h1M103 328.5h1M103 329.5h1M103 330.5h1M103 331.5h1M103 332.5h1M104 323.5h1M104 325.5h1M104 326.5h1M104 327.5h1M104 328.5h1M104 329.5h1M104 331.5h1M105 326.5h1M105 327.5h1M105 328.5h1M105 329.5h1M106 328.5h1M106 329.5h1M128 322.5h1M128 323.5h1M128 325.5h1M128 326.5h1M128 327.5h1M128 328.5h1M128 330.5h1M128 331.5h1M128 332.5h1M128 334.5h1M129 323.5h1M129 326.5h1M129 331.5h1M129 334.5h1" stroke="#e01c50" stroke-width="1" stroke-opacity="0.85" fill="none"/><g stroke="#222" stroke-width="0.9" fill="none"><rect x="62.2" y="311.2" width="67.5" height="60"/><line x1="62.2" y1="336.4" x2="129.7" y2="336.4"/><line x1="106.3" y1="311.2" x2="106.3" y2="371.2"/></g><text x="62.2" y="375.4" font-size="3.4" text-anchor="middle" fill="#555">10<tspan dy="-1" font-size="2.4">0</tspan></text><line x1="62.2" y1="371.2" x2="62.2" y2="372.2" stroke="#444" stroke-width="0.5"/><text x="79.1" y="375.4" font-size="3.4" text-anchor="middle" fill="#555">10<tspan dy="-1" font-size="2.4">1</tspan></text><line x1="79.1" y1="371.2" x2="79.1" y2="372.2" stroke="#444" stroke-width="0.5"/><text x="95.9" y="375.4" font-size="3.4" text-anchor="middle" fill="#555">10<tspan dy="-1" font-size="2.4">2</tspan></text><line x1="95.9" y1="371.2" x2="95.9" y2="372.2" stroke="#444" stroke-width="0.5"/><text x="112.8" y="375.4" font-size="3.4" text-anchor="middle" fill="#555">10<tspan dy="-1" font-size="2.4">3</tspan></text><line x1="112.8" y1="371.2" x2="112.8" y2="372.2" stroke="#444" stroke-width="0.5"/><text x="129.7" y="375.4" font-size="3.4" text-anchor="middle" fill="#555">10<tspan dy="-1" font-size="2.4">4</tspan></text><line x1="129.7" y1="371.2" x2="129.7" y2="372.2" stroke="#444" stroke-width="0.5"/><text x="95.9" y="379.5" font-size="2.8" text-anchor="middle" fill="#666">FL1-H</text><text x="61" y="313.7" font-size="3.2" text-anchor="end" fill="#666">10<tspan dy="-1" font-size="2.3">1</tspan></text><text x="61" y="325.8" font-size="3.2" text-anchor="end" fill="#666">10<tspan dy="-1" font-size="2.3">1</tspan></text><text x="61" y="339.4" font-size="3.2" text-anchor="end" fill="#666">10<tspan dy="-1" font-size="2.3">1</tspan></text><text x="61" y="356.5" font-size="3.2" text-anchor="end" fill="#666">10<tspan dy="-1" font-size="2.3">1</tspan></text><text x="61" y="371.2" font-size="3.2" text-anchor="end" fill="#666">10<tspan dy="-1" font-size="2.3">1</tspan></text><text transform="translate(57.2,339.4) rotate(-90)" font-size="2.8" text-anchor="middle" fill="#777">FL2-H</text><rect x="65.2" y="313.8" width="37.6" height="5.8" fill="#fff"/><text class="s" x="66" y="318.4" font-size="5.8" text-anchor="start" fill="#111" stroke="#111" stroke-width="0.45" textLength="36" lengthAdjust="spacingAndGlyphs" xml:space="preserve">Erythroblasts</text><rect x="65.2" y="338.8" width="41" height="5.8" fill="#fff"/><text class="s" x="66" y="343.4" font-size="5.8" text-anchor="start" fill="#111" stroke="#111" stroke-width="0.45" textLength="39.4" lengthAdjust="spacingAndGlyphs" xml:space="preserve">Myeloma  cells</text><rect x="83" y="345.4" width="1.8" height="1.8" fill="#111"/><path d="M148 359.5h1M149 358.5h1M149 359.5h1M149 362.5h1M149 367.5h1M149 368.5h1M149 370.5h1M150 359.5h1M150 360.5h1M150 361.5h1M150 363.5h1M150 367.5h1M150 370.5h1M151 351.5h1M151 354.5h1M151 358.5h1M151 364.5h1M151 370.5h1M151 371.5h1M152 362.5h1M152 366.5h1M152 370.5h1M153 354.5h1M153 359.5h1M153 360.5h1M153 362.5h1M153 363.5h1M153 365.5h1M153 366.5h1M153 367.5h1M153 369.5h1M154 354.5h1M154 357.5h1M154 358.5h1M154 359.5h1M154 360.5h1M154 362.5h1M154 365.5h1M154 368.5h1M154 371.5h1M155 357.5h1M155 363.5h1M155 364.5h1M155 366.5h1M155 369.5h1M156 359.5h1M156 361.5h1M156 362.5h1M156 363.5h1M156 364.5h1M156 365.5h1M156 366.5h1M156 368.5h1M156 369.5h1M156 371.5h1M157 355.5h1M157 360.5h1M157 361.5h1M157 362.5h1M157 363.5h1M157 364.5h1M157 367.5h1M157 368.5h1M157 370.5h1M158 359.5h1M158 361.5h1M158 362.5h1M158 368.5h1M159 344.5h1M159 351.5h1M159 356.5h1M159 357.5h1M159 358.5h1M159 360.5h1M159 362.5h1M159 363.5h1M159 364.5h1M159 366.5h1M159 367.5h1M159 369.5h1M159 370.5h1M160 358.5h1M160 361.5h1M160 362.5h1M160 363.5h1M160 367.5h1M161 344.5h1M161 347.5h1M161 357.5h1M161 358.5h1M161 363.5h1M161 364.5h1M161 365.5h1M161 366.5h1M161 367.5h1M161 368.5h1M161 369.5h1M161 370.5h1M161 372.5h1M162 352.5h1M162 356.5h1M162 362.5h1M162 363.5h1M162 364.5h1M162 365.5h1M162 366.5h1M162 371.5h1M163 351.5h1M163 355.5h1M163 357.5h1M163 362.5h1M163 365.5h1M163 366.5h1M163 367.5h1M163 368.5h1M163 369.5h1M163 370.5h1M164 349.5h1M164 354.5h1M164 358.5h1M164 363.5h1M164 364.5h1M164 366.5h1M164 367.5h1M164 371.5h1M165 356.5h1M165 358.5h1M165 363.5h1M165 364.5h1M165 366.5h1M165 368.5h1M165 372.5h1M166 340.5h1M166 362.5h1M166 364.5h1M166 366.5h1M167 361.5h1M167 364.5h1M167 366.5h1M167 370.5h1M167 371.5h1M168 339.5h1M168 361.5h1M168 362.5h1M168 367.5h1M168 371.5h1M169 360.5h1M169 363.5h1M169 365.5h1M169 369.5h1M170 355.5h1M170 363.5h1M170 369.5h1M171 340.5h1M171 351.5h1M171 356.5h1M171 358.5h1M171 359.5h1M171 362.5h1M171 363.5h1M171 364.5h1M171 366.5h1M171 367.5h1M172 358.5h1M172 366.5h1M173 346.5h1M173 349.5h1M173 354.5h1M173 362.5h1M174 358.5h1M174 360.5h1M174 362.5h1M174 364.5h1M175 347.5h1M175 358.5h1M176 341.5h1M176 351.5h1M176 356.5h1M176 360.5h1M177 345.5h1M177 348.5h1M177 349.5h1M177 356.5h1M177 361.5h1M177 363.5h1M177 364.5h1M178 350.5h1M178 371.5h1M179 339.5h1M179 346.5h1M179 353.5h1M179 355.5h1M179 359.5h1M179 371.5h1M180 340.5h1M180 346.5h1M180 353.5h1M181 349.5h1M181 354.5h1M181 362.5h1M181 369.5h1M182 338.5h1M182 344.5h1M182 345.5h1M182 349.5h1M182 352.5h1M182 353.5h1M183 342.5h1M183 353.5h1M184 339.5h1M184 347.5h1M184 348.5h1M184 353.5h1M185 362.5h1M186 349.5h1M186 351.5h1M186 353.5h1M187 344.5h1M187 345.5h1M187 346.5h1M187 355.5h1M187 356.5h1M188 349.5h1M188 354.5h1M188 356.5h1M189 339.5h1M189 341.5h1M189 346.5h1M189 364.5h1M189 365.5h1M190 341.5h1M190 352.5h1M191 342.5h1M191 346.5h1M192 340.5h1M192 341.5h1M192 345.5h1M192 349.5h1M192 361.5h1M192 365.5h1M193 367.5h1M194 342.5h1M194 349.5h1M194 367.5h1M195 345.5h1M195 346.5h1M195 352.5h1M195 356.5h1M196 344.5h1M196 348.5h1M197 345.5h1M197 356.5h1M197 361.5h1M198 343.5h1M198 363.5h1M199 352.5h1M199 353.5h1M199 368.5h1M200 351.5h1M200 354.5h1M200 355.5h1M200 358.5h1M200 359.5h1M200 360.5h1M200 362.5h1M200 365.5h1M201 347.5h1M201 352.5h1M201 356.5h1M201 359.5h1M201 364.5h1M201 368.5h1M202 348.5h1M202 353.5h1M202 356.5h1M202 358.5h1M202 359.5h1M202 360.5h1M202 364.5h1M203 352.5h1M203 353.5h1M203 356.5h1M203 360.5h1M203 361.5h1M203 362.5h1M203 368.5h1M204 342.5h1M204 350.5h1M204 351.5h1M204 353.5h1M204 354.5h1M204 355.5h1M204 357.5h1M204 358.5h1M204 359.5h1M204 360.5h1M204 365.5h1M204 369.5h1M204 370.5h1M205 341.5h1M205 349.5h1M205 352.5h1M205 356.5h1M205 359.5h1M205 360.5h1M205 361.5h1M205 362.5h1M205 371.5h1M206 338.5h1M206 355.5h1M206 357.5h1M206 358.5h1M206 359.5h1M206 361.5h1M206 362.5h1M206 364.5h1M206 369.5h1M207 347.5h1M207 356.5h1M207 358.5h1M207 359.5h1M207 363.5h1M207 364.5h1M207 365.5h1M207 366.5h1M207 367.5h1M208 354.5h1M208 355.5h1M208 358.5h1M208 359.5h1M208 363.5h1M208 364.5h1M208 366.5h1M208 367.5h1M208 371.5h1M209 352.5h1M209 355.5h1M209 361.5h1M209 366.5h1M210 343.5h1M210 344.5h1M210 350.5h1M210 361.5h1M211 358.5h1M211 368.5h1M212 342.5h1M213 352.5h1M213 359.5h1M213 366.5h1" stroke="#444" stroke-width="1" stroke-opacity="0.7" fill="none"/><path d="M149 326.5h1M149 328.5h1M149 329.5h1M149 332.5h1M149 333.5h1M149 335.5h1M150 328.5h1M150 334.5h1M150 335.5h1M150 336.5h1M150 337.5h1M151 329.5h1M151 330.5h1M151 331.5h1M151 333.5h1M151 334.5h1M151 335.5h1M151 336.5h1M152 323.5h1M152 326.5h1M152 327.5h1M152 330.5h1M152 331.5h1M152 332.5h1M152 333.5h1M152 335.5h1M152 336.5h1M153 327.5h1M153 328.5h1M153 329.5h1M153 330.5h1M153 331.5h1M153 332.5h1M153 335.5h1M154 321.5h1M154 329.5h1M154 330.5h1M154 331.5h1M154 332.5h1M154 333.5h1M154 334.5h1M155 322.5h1M155 326.5h1M155 327.5h1M155 329.5h1M155 330.5h1M155 331.5h1M155 333.5h1M155 334.5h1M155 335.5h1M155 337.5h1M156 330.5h1M156 331.5h1M156 332.5h1M156 333.5h1M156 335.5h1M157 315.5h1M157 327.5h1M157 330.5h1M157 332.5h1M157 335.5h1M158 330.5h1M158 333.5h1M158 335.5h1M158 337.5h1M159 328.5h1M159 329.5h1M159 330.5h1M159 333.5h1M160 328.5h1M160 329.5h1M160 331.5h1M160 333.5h1M160 334.5h1M160 335.5h1M161 329.5h1M161 330.5h1M161 331.5h1M161 332.5h1M161 333.5h1M161 334.5h1M162 328.5h1M162 329.5h1M162 333.5h1M162 334.5h1M162 336.5h1M163 325.5h1M163 328.5h1M163 329.5h1M163 331.5h1M163 333.5h1M163 334.5h1M163 335.5h1M164 316.5h1M164 328.5h1M164 329.5h1M164 330.5h1M164 331.5h1M164 333.5h1M164 334.5h1M164 336.5h1M165 326.5h1M165 327.5h1M165 328.5h1M165 330.5h1M165 331.5h1M165 332.5h1M165 333.5h1M165 335.5h1M166 326.5h1M166 331.5h1M166 335.5h1M167 325.5h1M167 328.5h1M167 329.5h1M167 330.5h1M167 335.5h1M168 327.5h1M168 329.5h1M168 331.5h1M168 332.5h1M168 333.5h1M168 334.5h1M168 335.5h1M168 336.5h1M169 326.5h1M169 330.5h1M169 332.5h1M170 319.5h1M170 327.5h1M170 331.5h1M170 334.5h1M171 323.5h1M171 324.5h1M171 327.5h1M171 329.5h1M171 330.5h1M171 331.5h1M171 332.5h1M171 337.5h1M172 322.5h1M172 327.5h1M172 331.5h1M173 328.5h1M173 330.5h1M173 331.5h1M173 332.5h1M173 333.5h1M173 336.5h1M174 328.5h1M174 330.5h1M174 331.5h1M174 332.5h1M174 333.5h1M174 334.5h1M175 327.5h1M175 329.5h1M175 330.5h1M175 331.5h1M176 328.5h1M176 330.5h1M176 333.5h1M177 327.5h1M177 329.5h1M177 331.5h1M178 324.5h1M178 327.5h1M178 331.5h1M178 332.5h1M178 334.5h1M179 322.5h1M179 325.5h1M179 327.5h1M179 328.5h1M179 329.5h1M179 331.5h1M180 328.5h1M180 329.5h1M180 332.5h1M181 323.5h1M181 325.5h1M181 326.5h1M181 327.5h1M181 328.5h1M181 330.5h1M181 332.5h1M181 333.5h1M182 323.5h1M182 329.5h1M182 330.5h1M182 331.5h1M183 323.5h1M183 324.5h1M183 326.5h1M183 327.5h1M183 328.5h1M183 330.5h1M183 336.5h1M184 323.5h1M184 324.5h1M184 326.5h1M184 327.5h1M184 329.5h1M184 332.5h1M185 314.5h1M185 321.5h1M185 326.5h1M185 327.5h1M185 329.5h1M186 322.5h1M186 326.5h1M186 328.5h1M186 329.5h1M187 316.5h1M187 323.5h1M187 326.5h1M188 319.5h1M188 324.5h1M188 325.5h1M188 328.5h1M188 331.5h1M189 320.5h1M189 322.5h1M189 325.5h1M189 326.5h1M189 327.5h1M189 328.5h1M190 316.5h1M190 320.5h1M190 323.5h1M190 325.5h1M190 327.5h1M190 328.5h1M190 329.5h1M190 331.5h1M191 317.5h1M191 319.5h1M191 321.5h1M191 322.5h1M191 325.5h1M191 327.5h1M191 328.5h1M191 331.5h1M192 319.5h1M192 321.5h1M192 322.5h1M192 325.5h1M192 326.5h1M192 327.5h1M193 317.5h1M193 320.5h1M193 321.5h1M193 322.5h1M193 324.5h1M193 325.5h1M193 326.5h1M193 331.5h1M194 319.5h1M194 322.5h1M194 323.5h1M194 324.5h1M194 325.5h1M195 315.5h1M195 320.5h1M195 323.5h1M195 324.5h1M195 327.5h1M196 317.5h1M196 318.5h1M196 319.5h1M196 321.5h1M196 324.5h1M196 333.5h1M197 319.5h1M197 320.5h1M197 321.5h1M197 322.5h1M197 323.5h1M197 324.5h1M198 319.5h1M198 321.5h1M198 323.5h1M198 325.5h1M198 326.5h1M198 328.5h1M199 315.5h1M199 317.5h1M199 320.5h1M199 321.5h1M199 324.5h1M200 317.5h1M200 319.5h1M200 321.5h1M200 322.5h1M200 323.5h1M201 317.5h1M201 319.5h1M201 320.5h1M201 322.5h1M201 332.5h1M202 314.5h1M202 315.5h1M202 317.5h1M202 318.5h1M202 319.5h1M202 321.5h1M202 322.5h1M202 323.5h1M202 324.5h1M203 316.5h1M203 317.5h1M203 318.5h1M203 323.5h1M204 314.5h1M204 315.5h1M204 316.5h1M204 318.5h1M204 321.5h1M204 324.5h1M204 330.5h1M205 315.5h1M205 317.5h1M205 318.5h1M205 320.5h1M206 315.5h1M206 316.5h1M206 317.5h1M206 318.5h1M206 319.5h1M207 316.5h1M207 317.5h1M207 318.5h1M207 326.5h1M208 314.5h1M208 315.5h1M208 317.5h1M208 320.5h1M209 314.5h1M209 315.5h1M209 316.5h1M209 317.5h1M209 318.5h1M210 314.5h1M210 316.5h1M210 317.5h1M210 318.5h1M211 314.5h1M211 315.5h1M211 317.5h1M211 318.5h1M211 321.5h1M211 325.5h1M212 315.5h1M212 318.5h1M213 318.5h1" stroke="#f0809e" stroke-width="1" stroke-opacity="0.6" fill="none"/><path d="M149 330.5h1M149 332.5h1M149 333.5h1M149 334.5h1M149 335.5h1M149 336.5h1M150 332.5h1M150 333.5h1M150 334.5h1M150 335.5h1M151 330.5h1M151 331.5h1M151 332.5h1M151 333.5h1M151 334.5h1M152 330.5h1M152 331.5h1M152 332.5h1M152 333.5h1M152 335.5h1M153 330.5h1M153 331.5h1M153 332.5h1M153 333.5h1M153 334.5h1M153 335.5h1M154 329.5h1M154 330.5h1M154 331.5h1M154 333.5h1M154 334.5h1M154 335.5h1M155 329.5h1M155 331.5h1M155 333.5h1M156 332.5h1M157 330.5h1M157 331.5h1M157 332.5h1M157 333.5h1M158 330.5h1M158 331.5h1M158 332.5h1M158 333.5h1M158 334.5h1M159 329.5h1M159 330.5h1M159 331.5h1M159 332.5h1M159 333.5h1M159 334.5h1M159 335.5h1M160 331.5h1M160 332.5h1M161 331.5h1M161 332.5h1M161 333.5h1M162 329.5h1M162 330.5h1M162 331.5h1M162 332.5h1M162 333.5h1M163 330.5h1M163 331.5h1M163 332.5h1M163 333.5h1M163 334.5h1M163 335.5h1M163 336.5h1M164 330.5h1M164 331.5h1M164 332.5h1M164 333.5h1M164 334.5h1M165 329.5h1M165 331.5h1M165 332.5h1M165 333.5h1M166 330.5h1M166 332.5h1M166 333.5h1M167 329.5h1M167 330.5h1M167 331.5h1M167 332.5h1M167 334.5h1M168 329.5h1M168 330.5h1M168 331.5h1M168 332.5h1M168 333.5h1M169 328.5h1M169 331.5h1M169 332.5h1M169 334.5h1M170 329.5h1M170 330.5h1M170 331.5h1M170 332.5h1M171 329.5h1M171 330.5h1M171 331.5h1M171 333.5h1M172 330.5h1M172 331.5h1M172 332.5h1M172 333.5h1M173 328.5h1M173 330.5h1M173 331.5h1M173 332.5h1M174 326.5h1M174 328.5h1M174 329.5h1M174 331.5h1M175 325.5h1M175 327.5h1M175 328.5h1M175 329.5h1M175 330.5h1M175 331.5h1M175 332.5h1M176 325.5h1M176 327.5h1M176 328.5h1M176 329.5h1M176 330.5h1M176 331.5h1M176 332.5h1M176 333.5h1M177 327.5h1M177 328.5h1M177 329.5h1M177 330.5h1M177 331.5h1M177 332.5h1M177 333.5h1M177 334.5h1M178 325.5h1M178 326.5h1M178 327.5h1M178 328.5h1M178 329.5h1M178 330.5h1M178 331.5h1M178 332.5h1M178 333.5h1M179 325.5h1M179 326.5h1M179 327.5h1M179 328.5h1M179 329.5h1M179 330.5h1M179 331.5h1M179 332.5h1M179 333.5h1M179 334.5h1M180 320.5h1M180 325.5h1M180 326.5h1M180 327.5h1M180 328.5h1M180 329.5h1M180 330.5h1M180 331.5h1M180 332.5h1M180 333.5h1M181 322.5h1M181 323.5h1M181 324.5h1M181 325.5h1M181 326.5h1M181 327.5h1M181 328.5h1M181 329.5h1M181 330.5h1M181 331.5h1M181 332.5h1M181 333.5h1M182 323.5h1M182 324.5h1M182 325.5h1M182 326.5h1M182 327.5h1M182 328.5h1M182 329.5h1M182 330.5h1M182 331.5h1M182 332.5h1M183 323.5h1M183 324.5h1M183 325.5h1M183 326.5h1M183 327.5h1M183 328.5h1M183 329.5h1M183 330.5h1M183 331.5h1M183 333.5h1M184 322.5h1M184 323.5h1M184 325.5h1M184 326.5h1M184 327.5h1M184 328.5h1M184 330.5h1M184 331.5h1M184 332.5h1M184 333.5h1M185 319.5h1M185 321.5h1M185 322.5h1M185 323.5h1M185 324.5h1M185 326.5h1M185 327.5h1M185 328.5h1M185 329.5h1M185 330.5h1M185 331.5h1M185 334.5h1M186 322.5h1M186 323.5h1M186 324.5h1M186 325.5h1M186 326.5h1M186 327.5h1M186 328.5h1M186 329.5h1M186 330.5h1M186 331.5h1M187 321.5h1M187 322.5h1M187 323.5h1M187 324.5h1M187 326.5h1M187 327.5h1M187 328.5h1M187 329.5h1M187 330.5h1M188 320.5h1M188 321.5h1M188 322.5h1M188 323.5h1M188 324.5h1M188 325.5h1M188 326.5h1M188 327.5h1M188 328.5h1M188 329.5h1M188 330.5h1M188 331.5h1M188 333.5h1M189 321.5h1M189 323.5h1M189 324.5h1M189 325.5h1M189 326.5h1M189 328.5h1M189 329.5h1M190 318.5h1M190 321.5h1M190 322.5h1M190 323.5h1M190 324.5h1M190 325.5h1M190 326.5h1M190 327.5h1M190 328.5h1M190 329.5h1M191 319.5h1M191 320.5h1M191 322.5h1M191 323.5h1M191 324.5h1M191 325.5h1M191 326.5h1M191 327.5h1M191 329.5h1M191 330.5h1M191 331.5h1M191 332.5h1M192 319.5h1M192 320.5h1M192 321.5h1M192 322.5h1M192 323.5h1M192 324.5h1M192 325.5h1M192 326.5h1M192 329.5h1M193 320.5h1M193 321.5h1M193 322.5h1M193 323.5h1M193 324.5h1M193 325.5h1M193 326.5h1M193 327.5h1M193 328.5h1M193 329.5h1M193 330.5h1M194 318.5h1M194 319.5h1M194 320.5h1M194 321.5h1M194 322.5h1M194 323.5h1M194 324.5h1M194 325.5h1M194 326.5h1M194 327.5h1M194 328.5h1M195 316.5h1M195 318.5h1M195 319.5h1M195 320.5h1M195 321.5h1M195 322.5h1M195 323.5h1M195 324.5h1M195 325.5h1M195 326.5h1M195 327.5h1M196 320.5h1M196 321.5h1M196 322.5h1M196 323.5h1M196 324.5h1M196 325.5h1M196 326.5h1M196 327.5h1M196 328.5h1M196 329.5h1M197 317.5h1M197 318.5h1M197 319.5h1M197 320.5h1M197 321.5h1M197 322.5h1M197 323.5h1M197 324.5h1M197 325.5h1M197 326.5h1M197 327.5h1M198 317.5h1M198 318.5h1M198 319.5h1M198 320.5h1M198 321.5h1M198 322.5h1M198 323.5h1M198 324.5h1M198 325.5h1M198 326.5h1M199 316.5h1M199 319.5h1M199 320.5h1M199 321.5h1M199 322.5h1M199 323.5h1M199 324.5h1M199 325.5h1M199 326.5h1M200 318.5h1M200 319.5h1M200 320.5h1M200 321.5h1M200 322.5h1M200 323.5h1M200 324.5h1M200 325.5h1M200 326.5h1M201 317.5h1M201 318.5h1M201 319.5h1M201 320.5h1M201 321.5h1M201 322.5h1M201 323.5h1M201 324.5h1M202 315.5h1M202 316.5h1M202 318.5h1M202 319.5h1M202 320.5h1M202 321.5h1M202 322.5h1M202 329.5h1M203 317.5h1M203 318.5h1M203 319.5h1M203 320.5h1M203 321.5h1M204 315.5h1M204 317.5h1M204 318.5h1M204 319.5h1M204 320.5h1M204 321.5h1M204 322.5h1M205 315.5h1M205 317.5h1M205 318.5h1M205 319.5h1M205 321.5h1M206 315.5h1M206 316.5h1M206 317.5h1M206 318.5h1M206 319.5h1M206 321.5h1M207 314.5h1M207 315.5h1M207 316.5h1M207 317.5h1M207 318.5h1M207 319.5h1M207 321.5h1M208 314.5h1M208 315.5h1M208 316.5h1M208 317.5h1M208 318.5h1M208 319.5h1M208 321.5h1M209 314.5h1M209 315.5h1M209 316.5h1M209 317.5h1M209 319.5h1M209 320.5h1M210 314.5h1M210 315.5h1M210 316.5h1M210 317.5h1M210 319.5h1M211 314.5h1M211 315.5h1M211 316.5h1M212 315.5h1M212 316.5h1M212 317.5h1M212 318.5h1" stroke="#e01c50" stroke-width="1" stroke-opacity="0.85" fill="none"/><g stroke="#222" stroke-width="0.9" fill="none"><rect x="148.2" y="313.5" width="66.3" height="59.2"/><line x1="148.2" y1="337.8" x2="214.5" y2="337.8"/><line x1="197.5" y1="313.5" x2="197.5" y2="372.7"/></g><text x="148.2" y="376.9" font-size="3.4" text-anchor="middle" fill="#555">10<tspan dy="-1" font-size="2.4">0</tspan></text><line x1="148.2" y1="372.7" x2="148.2" y2="373.7" stroke="#444" stroke-width="0.5"/><text x="164.8" y="376.9" font-size="3.4" text-anchor="middle" fill="#555">10<tspan dy="-1" font-size="2.4">1</tspan></text><line x1="164.8" y1="372.7" x2="164.8" y2="373.7" stroke="#444" stroke-width="0.5"/><text x="181.3" y="376.9" font-size="3.4" text-anchor="middle" fill="#555">10<tspan dy="-1" font-size="2.4">2</tspan></text><line x1="181.3" y1="372.7" x2="181.3" y2="373.7" stroke="#444" stroke-width="0.5"/><text x="197.9" y="376.9" font-size="3.4" text-anchor="middle" fill="#555">10<tspan dy="-1" font-size="2.4">3</tspan></text><line x1="197.9" y1="372.7" x2="197.9" y2="373.7" stroke="#444" stroke-width="0.5"/><text x="214.5" y="376.9" font-size="3.4" text-anchor="middle" fill="#555">10<tspan dy="-1" font-size="2.4">4</tspan></text><line x1="214.5" y1="372.7" x2="214.5" y2="373.7" stroke="#444" stroke-width="0.5"/><text x="181.3" y="381" font-size="2.8" text-anchor="middle" fill="#666">FL1-H</text><text x="147" y="316" font-size="3.2" text-anchor="end" fill="#666">10<tspan dy="-1" font-size="2.3">1</tspan></text><text x="147" y="327.6" font-size="3.2" text-anchor="end" fill="#666">10<tspan dy="-1" font-size="2.3">1</tspan></text><text x="147" y="340.8" font-size="3.2" text-anchor="end" fill="#666">10<tspan dy="-1" font-size="2.3">1</tspan></text><text x="147" y="358" font-size="3.2" text-anchor="end" fill="#666">10<tspan dy="-1" font-size="2.3">1</tspan></text><text x="147" y="372.7" font-size="3.2" text-anchor="end" fill="#666">10<tspan dy="-1" font-size="2.3">1</tspan></text><text transform="translate(143.2,340.8) rotate(-90)" font-size="2.8" text-anchor="middle" fill="#777">FL2-H</text><rect x="151.9" y="316.1" width="36.2" height="5.8" fill="#fff"/><text class="s" x="152.7" y="320.7" font-size="5.8" text-anchor="start" fill="#111" stroke="#111" stroke-width="0.45" textLength="34.6" lengthAdjust="spacingAndGlyphs" xml:space="preserve">Erythroblasts</text><path d="M63 434.5h1M63 445.5h1M64 423.5h1M64 427.5h1M64 437.5h1M64 441.5h1M64 445.5h1M64 447.5h1M65 435.5h1M65 436.5h1M65 437.5h1M65 442.5h1M65 445.5h1M65 449.5h1M66 418.5h1M66 428.5h1M66 437.5h1M66 445.5h1M67 423.5h1M67 439.5h1M67 443.5h1M67 444.5h1M67 446.5h1M67 447.5h1M67 448.5h1M67 449.5h1M68 425.5h1M68 430.5h1M68 431.5h1M68 436.5h1M68 438.5h1M68 440.5h1M68 441.5h1M68 445.5h1M68 446.5h1M68 447.5h1M69 431.5h1M69 434.5h1M69 436.5h1M69 438.5h1M69 441.5h1M69 442.5h1M69 446.5h1M69 448.5h1M70 428.5h1M70 432.5h1M70 434.5h1M70 436.5h1M70 437.5h1M70 441.5h1M70 445.5h1M70 446.5h1M71 435.5h1M71 436.5h1M71 442.5h1M72 434.5h1M72 438.5h1M72 440.5h1M72 441.5h1M72 442.5h1M72 445.5h1M72 447.5h1M73 421.5h1M73 427.5h1M73 435.5h1M73 441.5h1M73 442.5h1M73 443.5h1M73 447.5h1M73 448.5h1M73 450.5h1M74 428.5h1M74 431.5h1M74 439.5h1M74 441.5h1M74 443.5h1M74 444.5h1M74 447.5h1M74 449.5h1M75 433.5h1M75 436.5h1M75 438.5h1M75 440.5h1M75 441.5h1M75 443.5h1M75 446.5h1M75 448.5h1M76 433.5h1M76 435.5h1M76 439.5h1M76 440.5h1M76 442.5h1M76 443.5h1M76 445.5h1M76 448.5h1M76 449.5h1M77 425.5h1M77 429.5h1M77 432.5h1M77 433.5h1M77 437.5h1M77 440.5h1M77 447.5h1M78 418.5h1M78 432.5h1M78 435.5h1M78 436.5h1M78 437.5h1M78 438.5h1M78 440.5h1M78 442.5h1M78 443.5h1M78 448.5h1M79 434.5h1M79 435.5h1M79 436.5h1M79 442.5h1M79 443.5h1M79 445.5h1M79 446.5h1M80 433.5h1M80 444.5h1M80 445.5h1M80 446.5h1M81 433.5h1M81 437.5h1M81 438.5h1M81 439.5h1M81 442.5h1M81 449.5h1M82 424.5h1M82 437.5h1M82 440.5h1M82 444.5h1M82 446.5h1M82 451.5h1M83 420.5h1M83 425.5h1M83 432.5h1M83 433.5h1M83 440.5h1M83 441.5h1M83 447.5h1M83 449.5h1M84 421.5h1M84 424.5h1M84 437.5h1M84 444.5h1M84 448.5h1M84 449.5h1M84 450.5h1M85 429.5h1M85 430.5h1M85 442.5h1M85 443.5h1M85 444.5h1M85 446.5h1M85 449.5h1M86 438.5h1M86 444.5h1M86 446.5h1M86 448.5h1M86 449.5h1M87 431.5h1M87 440.5h1M87 447.5h1M87 449.5h1M88 434.5h1M88 439.5h1M88 447.5h1M88 451.5h1M89 424.5h1M89 434.5h1M89 438.5h1M89 441.5h1M90 424.5h1M90 431.5h1M90 433.5h1M90 446.5h1M90 447.5h1M90 450.5h1M91 436.5h1M91 444.5h1M91 445.5h1M91 447.5h1M92 433.5h1M92 443.5h1M92 447.5h1M92 449.5h1M92 450.5h1M92 451.5h1M93 442.5h1M93 447.5h1M93 448.5h1M93 450.5h1M94 423.5h1M94 442.5h1M94 445.5h1M94 448.5h1M94 451.5h1M95 419.5h1M95 430.5h1M95 443.5h1M95 447.5h1M95 448.5h1M96 422.5h1M96 433.5h1M96 443.5h1M96 444.5h1M96 445.5h1M96 448.5h1M97 440.5h1M97 441.5h1M97 445.5h1M97 446.5h1M97 448.5h1M97 451.5h1M98 439.5h1M98 444.5h1M99 419.5h1M99 438.5h1M101 418.5h1M101 449.5h1M102 441.5h1M102 445.5h1M102 448.5h1M103 439.5h1M103 442.5h1M103 446.5h1M103 448.5h1M104 417.5h1M104 419.5h1M104 437.5h1M104 438.5h1M104 440.5h1M104 445.5h1M104 446.5h1M105 417.5h1M105 442.5h1M105 447.5h1M105 448.5h1M106 438.5h1M107 420.5h1M107 435.5h1M108 420.5h1M108 448.5h1M108 450.5h1M110 451.5h1M111 419.5h1M111 425.5h1M111 431.5h1M111 438.5h1M111 441.5h1M111 443.5h1M111 451.5h1M112 425.5h1M112 431.5h1M113 443.5h1M115 423.5h1M115 443.5h1M116 436.5h1M116 451.5h1M117 441.5h1M117 447.5h1M118 433.5h1M118 436.5h1M118 438.5h1M118 446.5h1M118 447.5h1M119 428.5h1M120 438.5h1M120 442.5h1M122 420.5h1M122 428.5h1M122 441.5h1M122 443.5h1M122 448.5h1M123 426.5h1M124 434.5h1M124 436.5h1M126 419.5h1M126 424.5h1M126 436.5h1M126 442.5h1M127 425.5h1M127 430.5h1M128 443.5h1" stroke="#444" stroke-width="1" stroke-opacity="0.7" fill="none"/><path d="M95 420.5h1M97 443.5h1M98 421.5h1M98 428.5h1M98 429.5h1M99 435.5h1M99 437.5h1M99 441.5h1M100 432.5h1M100 438.5h1M100 440.5h1M100 444.5h1M100 451.5h1M101 426.5h1M101 434.5h1M101 435.5h1M101 438.5h1M102 422.5h1M102 425.5h1M102 430.5h1M102 432.5h1M102 433.5h1M102 437.5h1M102 438.5h1M102 439.5h1M102 440.5h1M102 441.5h1M102 443.5h1M102 444.5h1M103 422.5h1M103 424.5h1M103 425.5h1M103 431.5h1M103 433.5h1M103 438.5h1M103 439.5h1M103 440.5h1M103 441.5h1M103 442.5h1M103 443.5h1M103 451.5h1M104 425.5h1M104 427.5h1M104 430.5h1M104 432.5h1M104 436.5h1M104 437.5h1M104 443.5h1M104 448.5h1M104 449.5h1M104 450.5h1M105 426.5h1M105 428.5h1M105 431.5h1M105 432.5h1M105 434.5h1M105 435.5h1M105 436.5h1M105 437.5h1M105 438.5h1M105 439.5h1M105 440.5h1M105 441.5h1M105 442.5h1M105 444.5h1M106 417.5h1M106 427.5h1M106 430.5h1M106 432.5h1M106 433.5h1M106 435.5h1M106 436.5h1M106 437.5h1M106 438.5h1M106 439.5h1M106 440.5h1M106 441.5h1M106 442.5h1M106 446.5h1M106 447.5h1M107 424.5h1M107 428.5h1M107 430.5h1M107 431.5h1M107 432.5h1M107 435.5h1M107 437.5h1M107 439.5h1M107 440.5h1M107 442.5h1M107 444.5h1M108 419.5h1M108 421.5h1M108 422.5h1M108 423.5h1M108 424.5h1M108 425.5h1M108 429.5h1M108 430.5h1M108 431.5h1M108 432.5h1M108 434.5h1M108 435.5h1M108 436.5h1M108 437.5h1M108 438.5h1M108 439.5h1M108 440.5h1M108 441.5h1M108 442.5h1M108 443.5h1M108 445.5h1M108 446.5h1M108 447.5h1M108 450.5h1M108 451.5h1M109 417.5h1M109 418.5h1M109 420.5h1M109 421.5h1M109 422.5h1M109 424.5h1M109 425.5h1M109 426.5h1M109 427.5h1M109 429.5h1M109 430.5h1M109 431.5h1M109 432.5h1M109 434.5h1M109 435.5h1M109 437.5h1M109 438.5h1M109 439.5h1M109 440.5h1M109 441.5h1M109 443.5h1M109 444.5h1M109 445.5h1M109 447.5h1M109 448.5h1M109 449.5h1M109 450.5h1M110 418.5h1M110 419.5h1M110 420.5h1M110 425.5h1M110 426.5h1M110 427.5h1M110 428.5h1M110 430.5h1M110 433.5h1M110 434.5h1M110 435.5h1M110 436.5h1M110 437.5h1M110 439.5h1M110 440.5h1M110 441.5h1M110 444.5h1M110 445.5h1M110 447.5h1M110 448.5h1M110 449.5h1M110 450.5h1M110 451.5h1M111 417.5h1M111 418.5h1M111 419.5h1M111 420.5h1M111 421.5h1M111 422.5h1M111 425.5h1M111 426.5h1M111 428.5h1M111 430.5h1M111 431.5h1M111 434.5h1M111 435.5h1M111 436.5h1M111 440.5h1M111 444.5h1M111 445.5h1M111 446.5h1M111 448.5h1M111 449.5h1M111 450.5h1M111 451.5h1M112 417.5h1M112 418.5h1M112 420.5h1M112 421.5h1M112 423.5h1M112 425.5h1M112 426.5h1M112 427.5h1M112 429.5h1M112 430.5h1M112 431.5h1M112 432.5h1M112 433.5h1M112 434.5h1M112 435.5h1M112 436.5h1M112 437.5h1M112 438.5h1M112 439.5h1M112 440.5h1M112 441.5h1M112 443.5h1M112 445.5h1M112 447.5h1M112 448.5h1M112 449.5h1M113 417.5h1M113 419.5h1M113 420.5h1M113 422.5h1M113 423.5h1M113 426.5h1M113 427.5h1M113 428.5h1M113 429.5h1M113 430.5h1M113 431.5h1M113 432.5h1M113 435.5h1M113 436.5h1M113 438.5h1M113 439.5h1M113 440.5h1M113 441.5h1M113 442.5h1M113 443.5h1M113 444.5h1M113 445.5h1M113 446.5h1M113 447.5h1M113 448.5h1M113 450.5h1M114 417.5h1M114 418.5h1M114 419.5h1M114 420.5h1M114 422.5h1M114 423.5h1M114 424.5h1M114 425.5h1M114 426.5h1M114 428.5h1M114 429.5h1M114 430.5h1M114 431.5h1M114 433.5h1M114 434.5h1M114 435.5h1M114 436.5h1M114 437.5h1M114 438.5h1M114 439.5h1M114 441.5h1M114 442.5h1M114 444.5h1M114 445.5h1M114 446.5h1M114 447.5h1M114 448.5h1M114 449.5h1M115 418.5h1M115 419.5h1M115 420.5h1M115 421.5h1M115 422.5h1M115 423.5h1M115 424.5h1M115 425.5h1M115 426.5h1M115 428.5h1M115 430.5h1M115 431.5h1M115 433.5h1M115 434.5h1M115 435.5h1M115 437.5h1M115 438.5h1M115 439.5h1M115 440.5h1M115 441.5h1M115 442.5h1M115 443.5h1M115 444.5h1M115 445.5h1M115 446.5h1M115 448.5h1M115 449.5h1M115 451.5h1M116 420.5h1M116 421.5h1M116 423.5h1M116 424.5h1M116 425.5h1M116 426.5h1M116 427.5h1M116 428.5h1M116 429.5h1M116 430.5h1M116 431.5h1M116 432.5h1M116 433.5h1M116 434.5h1M116 435.5h1M116 436.5h1M116 437.5h1M116 438.5h1M116 439.5h1M116 440.5h1M116 441.5h1M116 442.5h1M116 443.5h1M116 444.5h1M116 445.5h1M116 446.5h1M116 447.5h1M116 448.5h1M116 449.5h1M116 450.5h1M116 451.5h1M117 417.5h1M117 418.5h1M117 421.5h1M117 422.5h1M117 423.5h1M117 424.5h1M117 425.5h1M117 426.5h1M117 427.5h1M117 428.5h1M117 429.5h1M117 430.5h1M117 431.5h1M117 432.5h1M117 433.5h1M117 434.5h1M117 435.5h1M117 436.5h1M117 437.5h1M117 438.5h1M117 439.5h1M117 440.5h1M117 441.5h1M117 442.5h1M117 443.5h1M117 445.5h1M117 446.5h1M117 447.5h1M117 448.5h1M117 450.5h1M117 451.5h1M118 417.5h1M118 418.5h1M118 419.5h1M118 421.5h1M118 424.5h1M118 425.5h1M118 426.5h1M118 427.5h1M118 428.5h1M118 429.5h1M118 430.5h1M118 431.5h1M118 432.5h1M118 433.5h1M118 434.5h1M118 435.5h1M118 436.5h1M118 437.5h1M118 438.5h1M118 439.5h1M118 440.5h1M118 441.5h1M118 442.5h1M118 443.5h1M118 444.5h1M118 445.5h1M118 446.5h1M118 447.5h1M118 448.5h1M118 449.5h1M118 451.5h1M119 421.5h1M119 422.5h1M119 423.5h1M119 424.5h1M119 425.5h1M119 426.5h1M119 427.5h1M119 428.5h1M119 429.5h1M119 430.5h1M119 431.5h1M119 432.5h1M119 433.5h1M119 434.5h1M119 435.5h1M119 437.5h1M119 438.5h1M119 439.5h1M119 440.5h1M119 441.5h1M119 442.5h1M119 443.5h1M119 444.5h1M119 445.5h1M119 448.5h1M119 449.5h1M119 450.5h1M119 451.5h1M120 417.5h1M120 418.5h1M120 419.5h1M120 420.5h1M120 421.5h1M120 423.5h1M120 424.5h1M120 425.5h1M120 426.5h1M120 427.5h1M120 428.5h1M120 429.5h1M120 430.5h1M120 431.5h1M120 432.5h1M120 433.5h1M120 434.5h1M120 435.5h1M120 436.5h1M120 437.5h1M120 438.5h1M120 439.5h1M120 440.5h1M120 441.5h1M120 442.5h1M120 443.5h1M120 444.5h1M120 445.5h1M120 446.5h1M120 447.5h1M120 448.5h1M120 449.5h1M120 450.5h1M120 451.5h1M121 418.5h1M121 419.5h1M121 421.5h1M121 422.5h1M121 423.5h1M121 424.5h1M121 425.5h1M121 426.5h1M121 427.5h1M121 428.5h1M121 429.5h1M121 430.5h1M121 431.5h1M121 432.5h1M121 433.5h1M121 434.5h1M121 435.5h1M121 436.5h1M121 437.5h1M121 438.5h1M121 439.5h1M121 440.5h1M121 441.5h1M121 442.5h1M121 443.5h1M121 444.5h1M121 445.5h1M121 446.5h1M121 447.5h1M121 448.5h1M121 449.5h1M121 451.5h1M122 418.5h1M122 419.5h1M122 420.5h1M122 421.5h1M122 423.5h1M122 424.5h1M122 426.5h1M122 427.5h1M122 428.5h1M122 429.5h1M122 430.5h1M122 431.5h1M122 432.5h1M122 433.5h1M122 434.5h1M122 435.5h1M122 437.5h1M122 438.5h1M122 439.5h1M122 441.5h1M122 442.5h1M122 443.5h1M122 444.5h1M122 445.5h1M122 446.5h1M122 447.5h1M122 448.5h1M122 449.5h1M122 451.5h1M123 417.5h1M123 419.5h1M123 421.5h1M123 422.5h1M123 423.5h1M123 424.5h1M123 425.5h1M123 426.5h1M123 427.5h1M123 429.5h1M123 430.5h1M123 431.5h1M123 432.5h1M123 433.5h1M123 434.5h1M123 435.5h1M123 436.5h1M123 437.5h1M123 438.5h1M123 439.5h1M123 440.5h1M123 441.5h1M123 442.5h1M123 443.5h1M123 444.5h1M123 445.5h1M123 447.5h1M123 448.5h1M123 449.5h1M123 450.5h1M123 451.5h1M124 418.5h1M124 420.5h1M124 421.5h1M124 422.5h1M124 423.5h1M124 425.5h1M124 426.5h1M124 427.5h1M124 428.5h1M124 429.5h1M124 430.5h1M124 431.5h1M124 432.5h1M124 433.5h1M124 434.5h1M124 435.5h1M124 436.5h1M124 437.5h1M124 438.5h1M124 439.5h1M124 440.5h1M124 441.5h1M124 442.5h1M124 443.5h1M124 444.5h1M124 445.5h1M124 446.5h1M124 447.5h1M124 448.5h1M124 449.5h1M124 450.5h1M124 451.5h1M125 418.5h1M125 419.5h1M125 420.5h1M125 421.5h1M125 423.5h1M125 424.5h1M125 425.5h1M125 426.5h1M125 427.5h1M125 428.5h1M125 429.5h1M125 430.5h1M125 431.5h1M125 432.5h1M125 433.5h1M125 434.5h1M125 435.5h1M125 437.5h1M125 438.5h1M125 439.5h1M125 441.5h1M125 442.5h1M125 443.5h1M125 444.5h1M125 445.5h1M125 447.5h1M125 448.5h1M125 449.5h1M125 450.5h1M125 451.5h1M126 417.5h1M126 418.5h1M126 420.5h1M126 421.5h1M126 422.5h1M126 423.5h1M126 424.5h1M126 425.5h1M126 426.5h1M126 427.5h1M126 428.5h1M126 429.5h1M126 430.5h1M126 431.5h1M126 432.5h1M126 433.5h1M126 434.5h1M126 435.5h1M126 436.5h1M126 437.5h1M126 438.5h1M126 439.5h1M126 440.5h1M126 441.5h1M126 442.5h1M126 444.5h1M126 445.5h1M126 446.5h1M126 447.5h1M126 448.5h1M126 449.5h1M126 450.5h1M126 451.5h1M127 418.5h1M127 419.5h1M127 420.5h1M127 421.5h1M127 422.5h1M127 423.5h1M127 424.5h1M127 425.5h1M127 426.5h1M127 427.5h1M127 428.5h1M127 429.5h1M127 430.5h1M127 431.5h1M127 432.5h1M127 433.5h1M127 434.5h1M127 435.5h1M127 436.5h1M127 437.5h1M127 438.5h1M127 439.5h1M127 440.5h1M127 441.5h1M127 442.5h1M127 443.5h1M127 444.5h1M127 445.5h1M127 446.5h1M127 447.5h1M127 448.5h1M127 449.5h1M127 450.5h1M127 451.5h1M128 418.5h1M128 420.5h1M128 421.5h1M128 422.5h1M128 423.5h1M128 424.5h1M128 425.5h1M128 426.5h1M128 427.5h1M128 428.5h1M128 429.5h1M128 430.5h1M128 431.5h1M128 432.5h1M128 433.5h1M128 434.5h1M128 435.5h1M128 436.5h1M128 437.5h1M128 438.5h1M128 439.5h1M128 440.5h1M128 441.5h1M128 442.5h1M128 443.5h1M128 444.5h1M128 445.5h1M128 447.5h1M128 448.5h1M128 449.5h1M128 450.5h1M128 451.5h1M129 417.5h1M129 418.5h1M129 419.5h1M129 420.5h1M129 422.5h1M129 424.5h1M129 425.5h1M129 426.5h1M129 428.5h1M129 429.5h1M129 430.5h1M129 431.5h1M129 432.5h1M129 433.5h1M129 434.5h1M129 435.5h1M129 437.5h1M129 441.5h1M129 442.5h1M129 444.5h1M129 445.5h1M129 446.5h1M129 447.5h1M129 448.5h1M129 449.5h1M129 450.5h1" stroke="#222" stroke-width="1" stroke-opacity="0.82" fill="none"/><path d="M70 430.5h1M74 433.5h1M77 428.5h1M77 435.5h1M77 436.5h1M78 430.5h1M78 440.5h1M79 428.5h1M79 437.5h1M79 439.5h1M80 425.5h1M80 437.5h1M80 443.5h1M81 428.5h1M81 431.5h1M81 434.5h1M81 436.5h1M81 439.5h1M82 430.5h1M82 431.5h1M82 434.5h1M82 436.5h1M82 437.5h1M82 439.5h1M82 440.5h1M83 429.5h1M83 433.5h1M83 438.5h1M83 442.5h1M84 428.5h1M84 432.5h1M84 435.5h1M84 436.5h1M84 438.5h1M84 442.5h1M84 443.5h1M84 446.5h1M85 426.5h1M85 429.5h1M85 431.5h1M85 432.5h1M85 434.5h1M85 435.5h1M85 436.5h1M85 437.5h1M86 428.5h1M86 429.5h1M86 432.5h1M86 434.5h1M86 435.5h1M86 436.5h1M86 437.5h1M86 439.5h1M87 430.5h1M87 432.5h1M87 434.5h1M87 435.5h1M87 436.5h1M87 438.5h1M87 439.5h1M87 440.5h1M88 427.5h1M88 430.5h1M88 432.5h1M88 434.5h1M88 435.5h1M88 437.5h1M88 438.5h1M88 440.5h1M88 442.5h1M88 444.5h1M89 425.5h1M89 430.5h1M89 431.5h1M89 434.5h1M89 435.5h1M89 436.5h1M89 437.5h1M89 440.5h1M90 424.5h1M90 425.5h1M90 428.5h1M90 430.5h1M90 431.5h1M90 433.5h1M90 434.5h1M90 435.5h1M90 437.5h1M90 443.5h1M90 449.5h1M91 421.5h1M91 428.5h1M91 431.5h1M91 434.5h1M91 435.5h1M91 437.5h1M91 438.5h1M91 439.5h1M91 440.5h1M91 441.5h1M91 444.5h1M92 427.5h1M92 428.5h1M92 432.5h1M92 433.5h1M92 435.5h1M92 436.5h1M92 437.5h1M92 438.5h1M92 443.5h1M93 423.5h1M93 428.5h1M93 431.5h1M93 433.5h1M93 436.5h1M93 437.5h1M93 438.5h1M93 440.5h1M93 442.5h1M94 430.5h1M94 431.5h1M94 434.5h1M94 435.5h1M94 436.5h1M94 437.5h1M94 438.5h1M94 440.5h1M95 425.5h1M95 429.5h1M95 430.5h1M95 431.5h1M95 434.5h1M95 435.5h1M95 436.5h1M95 437.5h1M95 439.5h1M95 441.5h1M95 443.5h1M96 430.5h1M96 432.5h1M96 434.5h1M96 436.5h1M96 437.5h1M96 438.5h1M96 439.5h1M97 419.5h1M97 427.5h1M97 428.5h1M97 429.5h1M97 430.5h1M97 432.5h1M97 433.5h1M97 435.5h1M97 437.5h1M97 438.5h1M97 440.5h1M97 442.5h1M97 445.5h1M98 425.5h1M98 427.5h1M98 429.5h1M98 430.5h1M98 432.5h1M98 433.5h1M98 434.5h1M98 435.5h1M98 437.5h1M98 439.5h1M98 441.5h1M99 423.5h1M99 429.5h1M99 430.5h1M99 431.5h1M99 433.5h1M99 434.5h1M99 436.5h1M99 437.5h1M99 440.5h1M99 443.5h1M100 427.5h1M100 431.5h1M100 432.5h1M100 433.5h1M100 434.5h1M100 435.5h1M100 436.5h1M100 439.5h1M100 440.5h1M100 441.5h1M101 426.5h1M101 428.5h1M101 432.5h1M101 435.5h1M101 440.5h1M101 441.5h1M101 446.5h1M102 421.5h1M102 429.5h1M102 432.5h1M102 434.5h1M102 435.5h1M102 436.5h1M102 443.5h1M103 422.5h1M103 426.5h1M103 428.5h1M103 435.5h1M103 436.5h1M103 437.5h1M104 427.5h1M104 429.5h1M104 433.5h1M104 441.5h1M105 432.5h1M105 438.5h1M106 430.5h1M106 432.5h1M106 434.5h1M106 436.5h1M106 439.5h1M106 440.5h1M106 442.5h1M107 439.5h1M108 434.5h1M108 435.5h1M108 436.5h1M109 441.5h1M110 432.5h1M110 433.5h1M111 438.5h1M112 433.5h1M112 436.5h1" stroke="#98e698" stroke-width="1" stroke-opacity="0.8" fill="none"/><path d="M71 435.5h1M75 435.5h1M77 432.5h1M78 436.5h1M78 437.5h1M79 431.5h1M80 428.5h1M80 429.5h1M80 431.5h1M80 432.5h1M80 438.5h1M80 439.5h1M81 430.5h1M81 432.5h1M81 433.5h1M81 434.5h1M81 435.5h1M81 436.5h1M81 437.5h1M81 438.5h1M81 439.5h1M81 440.5h1M81 446.5h1M82 434.5h1M82 441.5h1M83 428.5h1M83 429.5h1M83 432.5h1M83 433.5h1M83 434.5h1M83 435.5h1M83 436.5h1M83 439.5h1M83 441.5h1M84 425.5h1M84 427.5h1M84 430.5h1M84 432.5h1M84 433.5h1M84 434.5h1M84 435.5h1M84 436.5h1M84 437.5h1M84 438.5h1M85 431.5h1M85 432.5h1M85 434.5h1M85 435.5h1M85 436.5h1M85 439.5h1M85 440.5h1M85 441.5h1M86 427.5h1M86 429.5h1M86 430.5h1M86 431.5h1M86 433.5h1M86 434.5h1M86 435.5h1M86 436.5h1M86 437.5h1M86 438.5h1M86 439.5h1M86 440.5h1M86 441.5h1M87 427.5h1M87 428.5h1M87 429.5h1M87 430.5h1M87 431.5h1M87 432.5h1M87 433.5h1M87 434.5h1M87 435.5h1M87 436.5h1M87 437.5h1M87 438.5h1M87 441.5h1M88 427.5h1M88 428.5h1M88 429.5h1M88 431.5h1M88 432.5h1M88 433.5h1M88 434.5h1M88 435.5h1M88 436.5h1M88 437.5h1M88 438.5h1M88 439.5h1M88 440.5h1M88 442.5h1M89 429.5h1M89 430.5h1M89 431.5h1M89 432.5h1M89 433.5h1M89 434.5h1M89 435.5h1M89 436.5h1M89 437.5h1M89 438.5h1M89 439.5h1M89 440.5h1M90 428.5h1M90 429.5h1M90 430.5h1M90 431.5h1M90 432.5h1M90 433.5h1M90 434.5h1M90 435.5h1M90 436.5h1M90 437.5h1M90 438.5h1M90 439.5h1M90 440.5h1M91 429.5h1M91 430.5h1M91 431.5h1M91 432.5h1M91 433.5h1M91 434.5h1M91 435.5h1M91 437.5h1M91 438.5h1M91 439.5h1M91 440.5h1M92 423.5h1M92 427.5h1M92 428.5h1M92 429.5h1M92 430.5h1M92 431.5h1M92 432.5h1M92 433.5h1M92 434.5h1M92 435.5h1M92 436.5h1M92 437.5h1M92 438.5h1M92 439.5h1M92 440.5h1M92 441.5h1M92 442.5h1M93 427.5h1M93 428.5h1M93 429.5h1M93 430.5h1M93 431.5h1M93 432.5h1M93 433.5h1M93 434.5h1M93 435.5h1M93 436.5h1M93 437.5h1M93 438.5h1M93 439.5h1M93 440.5h1M93 441.5h1M93 442.5h1M93 443.5h1M94 426.5h1M94 429.5h1M94 430.5h1M94 431.5h1M94 432.5h1M94 433.5h1M94 434.5h1M94 435.5h1M94 436.5h1M94 437.5h1M94 438.5h1M94 439.5h1M94 440.5h1M94 441.5h1M94 443.5h1M94 447.5h1M95 430.5h1M95 431.5h1M95 432.5h1M95 433.5h1M95 434.5h1M95 435.5h1M95 436.5h1M95 437.5h1M95 438.5h1M95 439.5h1M95 440.5h1M95 441.5h1M96 426.5h1M96 429.5h1M96 430.5h1M96 431.5h1M96 432.5h1M96 433.5h1M96 434.5h1M96 435.5h1M96 436.5h1M96 437.5h1M96 438.5h1M96 439.5h1M96 440.5h1M96 441.5h1M96 444.5h1M97 427.5h1M97 428.5h1M97 429.5h1M97 430.5h1M97 431.5h1M97 432.5h1M97 433.5h1M97 434.5h1M97 435.5h1M97 436.5h1M97 437.5h1M97 438.5h1M97 439.5h1M97 440.5h1M97 442.5h1M98 427.5h1M98 428.5h1M98 429.5h1M98 430.5h1M98 431.5h1M98 432.5h1M98 433.5h1M98 434.5h1M98 435.5h1M98 436.5h1M98 437.5h1M98 438.5h1M98 439.5h1M98 440.5h1M98 441.5h1M99 427.5h1M99 429.5h1M99 432.5h1M99 433.5h1M99 434.5h1M99 435.5h1M99 436.5h1M99 437.5h1M99 440.5h1M99 443.5h1M100 429.5h1M100 430.5h1M100 431.5h1M100 432.5h1M100 433.5h1M100 434.5h1M100 435.5h1M100 436.5h1M100 437.5h1M100 439.5h1M100 440.5h1M100 442.5h1M101 428.5h1M101 430.5h1M101 431.5h1M101 432.5h1M101 433.5h1M101 434.5h1M101 435.5h1M101 436.5h1M101 438.5h1M101 440.5h1M101 443.5h1M102 425.5h1M102 430.5h1M102 431.5h1M102 432.5h1M102 433.5h1M102 435.5h1M102 436.5h1M102 437.5h1M102 438.5h1M102 439.5h1M102 440.5h1M103 428.5h1M103 429.5h1M103 430.5h1M103 431.5h1M103 432.5h1M103 433.5h1M103 434.5h1M103 435.5h1M103 436.5h1M103 437.5h1M103 439.5h1M103 440.5h1M104 430.5h1M104 433.5h1M104 434.5h1M104 435.5h1M104 436.5h1M104 437.5h1M104 438.5h1M105 427.5h1M105 431.5h1M105 434.5h1M105 435.5h1M105 436.5h1M105 437.5h1M105 438.5h1M105 440.5h1M106 431.5h1M106 432.5h1M106 437.5h1M106 438.5h1M106 439.5h1M106 442.5h1M107 433.5h1M107 436.5h1M108 432.5h1M108 433.5h1M108 439.5h1M111 432.5h1M115 436.5h1" stroke="#48d248" stroke-width="1" stroke-opacity="0.85" fill="none"/><path d="M64 405.5h1M64 408.5h1M64 410.5h1M65 402.5h1M65 404.5h1M65 406.5h1M65 407.5h1M65 410.5h1M65 413.5h1M66 407.5h1M66 408.5h1M66 409.5h1M66 410.5h1M67 409.5h1M67 410.5h1M67 411.5h1M67 412.5h1M68 405.5h1M68 406.5h1M68 408.5h1M68 411.5h1M68 412.5h1M69 406.5h1M69 407.5h1M69 408.5h1M69 409.5h1M69 410.5h1M69 412.5h1M69 413.5h1M70 407.5h1M70 408.5h1M70 411.5h1M70 412.5h1M71 406.5h1M71 409.5h1M71 410.5h1M71 411.5h1M71 412.5h1M72 402.5h1M72 403.5h1M72 409.5h1M72 410.5h1M72 413.5h1M73 406.5h1M73 407.5h1M73 410.5h1M73 411.5h1M73 412.5h1M73 414.5h1M74 406.5h1M74 409.5h1M74 410.5h1M74 411.5h1M75 407.5h1M75 410.5h1M75 413.5h1M76 403.5h1M76 405.5h1M76 408.5h1M76 410.5h1M77 403.5h1M77 404.5h1M77 406.5h1M77 407.5h1M77 412.5h1M77 413.5h1M78 403.5h1M78 406.5h1M78 407.5h1M78 408.5h1M78 411.5h1M79 402.5h1M79 405.5h1M79 406.5h1M79 407.5h1M79 409.5h1M80 403.5h1M80 404.5h1M80 406.5h1M80 408.5h1M80 409.5h1M80 415.5h1M81 392.5h1M81 407.5h1M81 409.5h1M81 412.5h1M82 404.5h1M82 405.5h1M82 406.5h1M82 407.5h1M82 410.5h1M82 411.5h1M83 401.5h1M83 407.5h1M83 408.5h1M83 409.5h1M83 413.5h1M84 404.5h1M84 405.5h1M84 406.5h1M84 407.5h1M84 408.5h1M84 413.5h1M85 405.5h1M85 406.5h1M85 407.5h1M85 408.5h1M85 409.5h1M85 410.5h1M85 411.5h1M86 405.5h1M86 406.5h1M86 407.5h1M86 410.5h1M87 404.5h1M87 406.5h1M87 409.5h1M87 410.5h1M87 412.5h1M88 402.5h1M88 404.5h1M88 405.5h1M88 406.5h1M88 407.5h1M88 409.5h1M88 410.5h1M88 412.5h1M89 403.5h1M89 406.5h1M89 408.5h1M89 409.5h1M89 410.5h1M90 402.5h1M90 403.5h1M90 404.5h1M90 408.5h1M90 409.5h1M91 403.5h1M91 404.5h1M91 407.5h1M91 408.5h1M91 409.5h1M91 410.5h1M92 402.5h1M92 403.5h1M92 405.5h1M92 406.5h1M92 407.5h1M92 408.5h1M92 409.5h1M93 402.5h1M93 407.5h1M93 409.5h1M94 405.5h1M94 407.5h1M94 412.5h1M95 403.5h1M95 404.5h1M95 405.5h1M95 407.5h1M95 408.5h1M95 409.5h1M95 410.5h1M96 406.5h1M96 408.5h1M96 409.5h1M97 402.5h1M97 404.5h1M97 406.5h1M97 407.5h1M97 409.5h1M98 402.5h1M98 404.5h1M98 406.5h1M98 407.5h1M98 409.5h1M98 411.5h1M99 398.5h1M99 402.5h1M99 405.5h1M99 406.5h1M99 407.5h1M99 408.5h1M99 409.5h1M99 410.5h1M99 411.5h1M100 396.5h1M100 404.5h1M100 405.5h1M100 406.5h1M100 407.5h1M100 408.5h1M100 410.5h1M101 404.5h1M101 407.5h1M101 411.5h1M102 405.5h1M102 406.5h1M102 407.5h1M102 408.5h1M102 415.5h1M103 400.5h1M103 402.5h1M103 403.5h1M103 405.5h1M103 408.5h1M103 411.5h1M104 404.5h1M104 406.5h1M104 407.5h1M104 410.5h1M104 413.5h1M105 405.5h1M105 407.5h1M105 409.5h1M105 410.5h1M106 405.5h1M106 407.5h1M106 409.5h1M106 411.5h1M107 399.5h1M107 400.5h1M107 403.5h1M107 405.5h1M107 407.5h1M108 403.5h1M108 405.5h1M108 406.5h1M108 407.5h1M108 410.5h1M108 411.5h1M109 403.5h1M109 404.5h1M109 406.5h1M109 407.5h1M109 411.5h1M110 401.5h1M110 407.5h1M110 410.5h1M110 411.5h1M111 403.5h1M111 405.5h1M111 406.5h1M111 407.5h1M112 401.5h1M112 402.5h1M112 405.5h1M112 407.5h1M112 409.5h1M113 401.5h1M113 406.5h1M113 409.5h1M114 403.5h1M114 404.5h1M114 405.5h1M114 408.5h1M114 409.5h1M114 412.5h1M115 401.5h1M115 403.5h1M115 404.5h1M115 406.5h1M115 407.5h1M115 409.5h1M116 402.5h1M116 406.5h1M116 407.5h1M116 409.5h1M116 410.5h1M117 403.5h1M117 404.5h1M117 405.5h1M117 407.5h1M117 408.5h1M117 412.5h1M118 403.5h1M118 406.5h1M118 407.5h1M118 408.5h1M118 414.5h1M119 399.5h1M119 401.5h1M119 405.5h1M120 400.5h1M120 403.5h1M120 404.5h1M120 408.5h1M121 398.5h1M121 400.5h1M121 402.5h1M121 403.5h1M121 405.5h1M121 407.5h1M121 411.5h1M122 393.5h1M122 400.5h1M122 403.5h1M122 407.5h1M123 399.5h1M123 401.5h1M123 404.5h1M123 405.5h1M123 406.5h1M123 409.5h1M124 400.5h1M124 402.5h1M124 406.5h1M125 402.5h1M125 403.5h1M125 404.5h1M125 407.5h1M126 403.5h1M126 404.5h1M126 407.5h1M127 400.5h1M127 401.5h1M127 404.5h1M127 405.5h1M127 409.5h1M128 403.5h1M128 404.5h1M128 405.5h1M128 407.5h1M128 410.5h1" stroke="#f0809e" stroke-width="1" stroke-opacity="0.6" fill="none"/><path d="M63 407.5h1M63 409.5h1M64 406.5h1M64 407.5h1M64 408.5h1M64 409.5h1M64 410.5h1M64 411.5h1M64 412.5h1M64 413.5h1M65 406.5h1M65 408.5h1M65 409.5h1M65 410.5h1M65 411.5h1M65 413.5h1M66 407.5h1M66 408.5h1M66 410.5h1M66 412.5h1M66 414.5h1M67 407.5h1M67 408.5h1M67 410.5h1M67 411.5h1M67 413.5h1M68 408.5h1M68 409.5h1M68 410.5h1M68 411.5h1M68 412.5h1M69 405.5h1M69 406.5h1M69 408.5h1M69 409.5h1M69 410.5h1M69 411.5h1M69 412.5h1M70 405.5h1M70 406.5h1M70 407.5h1M70 408.5h1M70 409.5h1M70 410.5h1M70 411.5h1M70 414.5h1M71 403.5h1M71 406.5h1M71 407.5h1M71 408.5h1M71 409.5h1M71 410.5h1M71 411.5h1M71 412.5h1M71 413.5h1M72 407.5h1M72 409.5h1M72 410.5h1M72 411.5h1M72 413.5h1M73 406.5h1M73 407.5h1M73 410.5h1M73 411.5h1M73 412.5h1M73 413.5h1M73 414.5h1M74 404.5h1M74 406.5h1M74 407.5h1M74 408.5h1M74 409.5h1M74 410.5h1M74 411.5h1M75 404.5h1M75 405.5h1M75 407.5h1M75 408.5h1M75 409.5h1M75 410.5h1M75 412.5h1M76 403.5h1M76 406.5h1M76 407.5h1M76 408.5h1M76 409.5h1M76 411.5h1M76 412.5h1M77 406.5h1M77 407.5h1M77 408.5h1M77 409.5h1M77 410.5h1M77 411.5h1M77 412.5h1M78 407.5h1M78 408.5h1M78 409.5h1M78 410.5h1M78 411.5h1M79 403.5h1M79 405.5h1M79 406.5h1M79 407.5h1M79 408.5h1M79 409.5h1M79 411.5h1M80 407.5h1M80 409.5h1M80 411.5h1M80 414.5h1M81 403.5h1M81 405.5h1M81 406.5h1M81 407.5h1M81 408.5h1M81 409.5h1M81 410.5h1M81 411.5h1M81 412.5h1M81 414.5h1M82 403.5h1M82 407.5h1M82 408.5h1M82 409.5h1M82 410.5h1M82 412.5h1M83 404.5h1M83 406.5h1M83 407.5h1M83 408.5h1M83 409.5h1M83 411.5h1M84 400.5h1M84 405.5h1M84 406.5h1M84 407.5h1M84 408.5h1M84 409.5h1M84 410.5h1M84 411.5h1M84 412.5h1M85 403.5h1M85 406.5h1M85 407.5h1M85 408.5h1M85 409.5h1M85 410.5h1M86 405.5h1M86 406.5h1M86 407.5h1M86 408.5h1M86 409.5h1M86 410.5h1M86 411.5h1M86 413.5h1M87 405.5h1M87 406.5h1M87 407.5h1M87 408.5h1M87 409.5h1M87 410.5h1M87 411.5h1M87 412.5h1M88 403.5h1M88 405.5h1M88 406.5h1M88 407.5h1M88 408.5h1M88 409.5h1M88 411.5h1M89 404.5h1M89 407.5h1M89 408.5h1M89 409.5h1M89 410.5h1M89 411.5h1M90 403.5h1M90 405.5h1M90 406.5h1M90 407.5h1M90 408.5h1M90 409.5h1M90 410.5h1M90 411.5h1M91 401.5h1M91 404.5h1M91 405.5h1M91 406.5h1M91 407.5h1M91 408.5h1M91 409.5h1M91 410.5h1M91 412.5h1M92 403.5h1M92 404.5h1M92 405.5h1M92 406.5h1M92 407.5h1M92 408.5h1M92 409.5h1M92 410.5h1M92 411.5h1M93 405.5h1M93 406.5h1M93 407.5h1M93 408.5h1M93 409.5h1M93 411.5h1M94 405.5h1M94 406.5h1M94 407.5h1M94 408.5h1M94 409.5h1M94 410.5h1M94 411.5h1M95 403.5h1M95 404.5h1M95 405.5h1M95 406.5h1M95 407.5h1M95 408.5h1M95 409.5h1M95 410.5h1M95 411.5h1M95 412.5h1M95 414.5h1M96 403.5h1M96 404.5h1M96 406.5h1M96 407.5h1M96 408.5h1M96 409.5h1M96 410.5h1M96 412.5h1M97 402.5h1M97 403.5h1M97 404.5h1M97 405.5h1M97 406.5h1M97 407.5h1M97 408.5h1M97 410.5h1M98 401.5h1M98 403.5h1M98 404.5h1M98 405.5h1M98 406.5h1M98 407.5h1M98 408.5h1M98 409.5h1M98 410.5h1M98 411.5h1M98 412.5h1M99 403.5h1M99 404.5h1M99 405.5h1M99 406.5h1M99 407.5h1M99 408.5h1M99 411.5h1M100 403.5h1M100 404.5h1M100 406.5h1M100 408.5h1M100 410.5h1M101 402.5h1M101 404.5h1M101 405.5h1M101 407.5h1M101 408.5h1M101 409.5h1M101 410.5h1M101 411.5h1M102 402.5h1M102 404.5h1M102 405.5h1M102 406.5h1M102 407.5h1M102 408.5h1M103 403.5h1M103 404.5h1M103 405.5h1M103 406.5h1M103 407.5h1M103 408.5h1M103 409.5h1M104 402.5h1M104 403.5h1M104 404.5h1M104 405.5h1M104 406.5h1M104 409.5h1M104 411.5h1M104 412.5h1M105 403.5h1M105 405.5h1M105 406.5h1M105 407.5h1M105 408.5h1M105 409.5h1M105 411.5h1M105 412.5h1M106 403.5h1M106 407.5h1M106 408.5h1M106 409.5h1M107 403.5h1M107 404.5h1M107 405.5h1M107 406.5h1M107 407.5h1M107 408.5h1M107 409.5h1M108 406.5h1M108 407.5h1M110 407.5h1M111 411.5h1M113 409.5h1M114 405.5h1M127 408.5h1M128 401.5h1M128 402.5h1M128 403.5h1M128 405.5h1M128 412.5h1M129 401.5h1M129 404.5h1M129 407.5h1M129 409.5h1M129 410.5h1M129 411.5h1" stroke="#e01c50" stroke-width="1" stroke-opacity="0.85" fill="none"/><g stroke="#222" stroke-width="0.9" fill="none"><rect x="63.2" y="392.2" width="66.8" height="60"/><line x1="63.2" y1="417" x2="130" y2="417"/><line x1="108.2" y1="392.2" x2="108.2" y2="452.2"/></g><text x="63.2" y="456.4" font-size="3.4" text-anchor="middle" fill="#555">10<tspan dy="-1" font-size="2.4">0</tspan></text><line x1="63.2" y1="452.2" x2="63.2" y2="453.2" stroke="#444" stroke-width="0.5"/><text x="79.9" y="456.4" font-size="3.4" text-anchor="middle" fill="#555">10<tspan dy="-1" font-size="2.4">1</tspan></text><line x1="79.9" y1="452.2" x2="79.9" y2="453.2" stroke="#444" stroke-width="0.5"/><text x="96.6" y="456.4" font-size="3.4" text-anchor="middle" fill="#555">10<tspan dy="-1" font-size="2.4">2</tspan></text><line x1="96.6" y1="452.2" x2="96.6" y2="453.2" stroke="#444" stroke-width="0.5"/><text x="113.3" y="456.4" font-size="3.4" text-anchor="middle" fill="#555">10<tspan dy="-1" font-size="2.4">3</tspan></text><line x1="113.3" y1="452.2" x2="113.3" y2="453.2" stroke="#444" stroke-width="0.5"/><text x="130" y="456.4" font-size="3.4" text-anchor="middle" fill="#555">10<tspan dy="-1" font-size="2.4">4</tspan></text><line x1="130" y1="452.2" x2="130" y2="453.2" stroke="#444" stroke-width="0.5"/><text x="96.6" y="460.5" font-size="2.8" text-anchor="middle" fill="#666">FL1-H</text><text x="62" y="394.7" font-size="3.2" text-anchor="end" fill="#666">10<tspan dy="-1" font-size="2.3">1</tspan></text><text x="62" y="406.6" font-size="3.2" text-anchor="end" fill="#666">10<tspan dy="-1" font-size="2.3">1</tspan></text><text x="62" y="420" font-size="3.2" text-anchor="end" fill="#666">10<tspan dy="-1" font-size="2.3">1</tspan></text><text x="62" y="437.4" font-size="3.2" text-anchor="end" fill="#666">10<tspan dy="-1" font-size="2.3">1</tspan></text><text x="62" y="452.2" font-size="3.2" text-anchor="end" fill="#666">10<tspan dy="-1" font-size="2.3">1</tspan></text><text transform="translate(58.2,420) rotate(-90)" font-size="2.8" text-anchor="middle" fill="#777">FL2-H</text><rect x="66.1" y="419" width="41" height="5.8" fill="#fff"/><text class="s" x="66.9" y="423.6" font-size="5.8" text-anchor="start" fill="#111" stroke="#111" stroke-width="0.45" textLength="39.4" lengthAdjust="spacingAndGlyphs" xml:space="preserve">TRAIL-inhibited</text><path d="M148 419.5h1M154 440.5h1M156 426.5h1M156 447.5h1M157 439.5h1M158 439.5h1M159 436.5h1M159 439.5h1M160 436.5h1M161 434.5h1M161 440.5h1M161 444.5h1M162 434.5h1M162 435.5h1M162 441.5h1M162 449.5h1M163 434.5h1M164 420.5h1M164 429.5h1M164 436.5h1M164 448.5h1M164 451.5h1M165 436.5h1M165 442.5h1M165 444.5h1M165 446.5h1M166 442.5h1M166 448.5h1M166 450.5h1M167 423.5h1M167 427.5h1M167 430.5h1M167 433.5h1M167 435.5h1M167 436.5h1M167 440.5h1M167 445.5h1M167 451.5h1M168 421.5h1M168 425.5h1M168 428.5h1M168 429.5h1M168 431.5h1M168 440.5h1M168 444.5h1M168 446.5h1M168 448.5h1M169 420.5h1M169 425.5h1M169 432.5h1M169 434.5h1M169 436.5h1M169 441.5h1M169 445.5h1M170 439.5h1M170 442.5h1M170 444.5h1M170 446.5h1M171 429.5h1M171 437.5h1M171 438.5h1M171 444.5h1M171 447.5h1M172 431.5h1M172 438.5h1M172 440.5h1M172 442.5h1M173 424.5h1M173 427.5h1M173 433.5h1M173 436.5h1M173 443.5h1M173 446.5h1M174 429.5h1M174 432.5h1M174 433.5h1M174 438.5h1M174 443.5h1M175 418.5h1M175 423.5h1M175 432.5h1M175 435.5h1M175 447.5h1M175 450.5h1M176 420.5h1M176 433.5h1M176 435.5h1M176 451.5h1M177 425.5h1M177 435.5h1M177 444.5h1M177 452.5h1M178 422.5h1M178 429.5h1M178 430.5h1M178 431.5h1M178 432.5h1M178 433.5h1M178 435.5h1M178 436.5h1M178 439.5h1M178 441.5h1M178 449.5h1M178 451.5h1M179 422.5h1M179 434.5h1M179 435.5h1M179 442.5h1M179 447.5h1M180 432.5h1M180 434.5h1M180 450.5h1M180 452.5h1M181 425.5h1M181 428.5h1M181 431.5h1M181 434.5h1M181 439.5h1M182 425.5h1M182 426.5h1M182 427.5h1M182 431.5h1M182 435.5h1M182 444.5h1M183 417.5h1M183 427.5h1M183 441.5h1M184 428.5h1M184 433.5h1M185 426.5h1M185 430.5h1M185 437.5h1M186 420.5h1M186 424.5h1M186 429.5h1M186 437.5h1M186 439.5h1M186 440.5h1M187 420.5h1M187 422.5h1M187 425.5h1M187 432.5h1M187 435.5h1M187 440.5h1M187 446.5h1M188 420.5h1M188 443.5h1M189 417.5h1M189 429.5h1M189 430.5h1M189 445.5h1M190 422.5h1M190 429.5h1M190 437.5h1M190 447.5h1M191 422.5h1M191 423.5h1M191 428.5h1M191 431.5h1M192 434.5h1M192 438.5h1M192 446.5h1M193 427.5h1M193 428.5h1M193 436.5h1M194 420.5h1M194 424.5h1M194 426.5h1M194 428.5h1M194 432.5h1M194 443.5h1M195 430.5h1M195 436.5h1M196 420.5h1M196 429.5h1M196 430.5h1M197 435.5h1M197 438.5h1M197 442.5h1M198 424.5h1M198 436.5h1M198 448.5h1M199 418.5h1M199 426.5h1M199 427.5h1M199 431.5h1M199 435.5h1M199 436.5h1M199 438.5h1M199 440.5h1M199 442.5h1M200 421.5h1M200 430.5h1M200 433.5h1M200 436.5h1M200 437.5h1M200 438.5h1M200 442.5h1M200 444.5h1M200 450.5h1M201 428.5h1M201 430.5h1M201 434.5h1M201 439.5h1M201 443.5h1M201 451.5h1M202 425.5h1M202 428.5h1M202 429.5h1M202 431.5h1M202 434.5h1M202 436.5h1M202 438.5h1M202 448.5h1M203 423.5h1M203 429.5h1M203 430.5h1M203 434.5h1M203 437.5h1M203 439.5h1M203 450.5h1M204 427.5h1M204 438.5h1M204 440.5h1M204 449.5h1M205 423.5h1M205 429.5h1M205 437.5h1M205 443.5h1M205 445.5h1M206 426.5h1M206 427.5h1M206 429.5h1M206 432.5h1M206 434.5h1M206 435.5h1M206 438.5h1M206 439.5h1M207 426.5h1M207 427.5h1M207 430.5h1M207 435.5h1M207 440.5h1M207 441.5h1M207 447.5h1M208 425.5h1M208 431.5h1M208 437.5h1M208 440.5h1M208 444.5h1M209 447.5h1M210 428.5h1M210 432.5h1M211 420.5h1M211 426.5h1M212 427.5h1M213 442.5h1" stroke="#444" stroke-width="1" stroke-opacity="0.7" fill="none"/><path d="M148 412.5h1M149 411.5h1M149 414.5h1M149 415.5h1M149 416.5h1M150 397.5h1M150 400.5h1M150 402.5h1M150 406.5h1M150 407.5h1M150 408.5h1M150 409.5h1M150 411.5h1M150 413.5h1M150 415.5h1M150 416.5h1M151 409.5h1M151 413.5h1M151 414.5h1M152 409.5h1M152 411.5h1M152 415.5h1M153 411.5h1M153 412.5h1M153 413.5h1M153 414.5h1M153 415.5h1M153 416.5h1M154 409.5h1M154 412.5h1M154 413.5h1M154 416.5h1M155 411.5h1M155 414.5h1M155 415.5h1M156 409.5h1M156 411.5h1M156 413.5h1M156 415.5h1M157 403.5h1M157 409.5h1M157 410.5h1M157 411.5h1M157 412.5h1M157 413.5h1M157 415.5h1M158 410.5h1M158 411.5h1M158 412.5h1M158 413.5h1M158 414.5h1M158 416.5h1M159 397.5h1M159 410.5h1M159 413.5h1M159 414.5h1M160 408.5h1M160 410.5h1M160 411.5h1M161 408.5h1M161 411.5h1M162 410.5h1M162 411.5h1M162 412.5h1M162 413.5h1M162 414.5h1M163 409.5h1M163 410.5h1M163 414.5h1M164 407.5h1M164 411.5h1M164 413.5h1M165 405.5h1M165 411.5h1M165 412.5h1M165 413.5h1M165 414.5h1M166 408.5h1M166 410.5h1M166 411.5h1M166 412.5h1M166 413.5h1M166 414.5h1M166 416.5h1M167 398.5h1M167 408.5h1M167 409.5h1M167 410.5h1M167 411.5h1M167 412.5h1M167 414.5h1M167 415.5h1M168 410.5h1M168 412.5h1M168 414.5h1M168 415.5h1M169 406.5h1M169 409.5h1M169 410.5h1M169 411.5h1M169 413.5h1M169 414.5h1M170 401.5h1M170 408.5h1M170 410.5h1M170 411.5h1M170 414.5h1M171 409.5h1M171 410.5h1M171 411.5h1M171 412.5h1M171 413.5h1M172 395.5h1M172 403.5h1M172 406.5h1M172 409.5h1M172 410.5h1M172 411.5h1M172 413.5h1M172 414.5h1M173 405.5h1M173 406.5h1M173 408.5h1M173 409.5h1M173 411.5h1M173 413.5h1M174 408.5h1M174 410.5h1M174 412.5h1M175 405.5h1M175 406.5h1M175 407.5h1M175 409.5h1M175 411.5h1M176 408.5h1M176 409.5h1M176 413.5h1M177 409.5h1M177 410.5h1M177 411.5h1M177 413.5h1M177 414.5h1M177 415.5h1M178 400.5h1M178 408.5h1M178 409.5h1M178 410.5h1M179 408.5h1M179 410.5h1M179 411.5h1M179 412.5h1M180 402.5h1M180 408.5h1M180 409.5h1M180 411.5h1M181 404.5h1M181 406.5h1M181 408.5h1M181 411.5h1M181 415.5h1M182 394.5h1M182 405.5h1M182 406.5h1M182 409.5h1M182 410.5h1M182 411.5h1M183 405.5h1M183 406.5h1M183 407.5h1M183 409.5h1M183 411.5h1M183 412.5h1M184 398.5h1M184 403.5h1M184 404.5h1M184 406.5h1M184 409.5h1M184 410.5h1M184 411.5h1M184 415.5h1M185 400.5h1M185 404.5h1M185 405.5h1M185 407.5h1M185 408.5h1M185 410.5h1M185 413.5h1M186 399.5h1M186 406.5h1M186 407.5h1M186 410.5h1M186 412.5h1M186 414.5h1M187 401.5h1M187 402.5h1M187 404.5h1M187 407.5h1M187 409.5h1M187 410.5h1M188 402.5h1M188 404.5h1M188 405.5h1M188 409.5h1M189 400.5h1M189 402.5h1M189 403.5h1M189 404.5h1M189 405.5h1M189 407.5h1M189 408.5h1M190 399.5h1M190 400.5h1M190 404.5h1M190 405.5h1M190 406.5h1M191 398.5h1M191 400.5h1M191 403.5h1M191 404.5h1M191 406.5h1M191 407.5h1M192 401.5h1M192 402.5h1M192 403.5h1M192 404.5h1M192 405.5h1M192 406.5h1M192 407.5h1M193 398.5h1M193 402.5h1M193 403.5h1M193 409.5h1M194 400.5h1M194 405.5h1M195 396.5h1M195 400.5h1M195 403.5h1M196 397.5h1M196 398.5h1M196 399.5h1M196 411.5h1M197 395.5h1M197 396.5h1M197 397.5h1M197 398.5h1M197 400.5h1M197 401.5h1M197 402.5h1M198 394.5h1M198 396.5h1M198 397.5h1M198 398.5h1M198 399.5h1M198 400.5h1M198 401.5h1M198 403.5h1M198 404.5h1M198 405.5h1M199 395.5h1M199 400.5h1M199 406.5h1M200 394.5h1M200 396.5h1M200 399.5h1M200 400.5h1M200 405.5h1M200 409.5h1M201 396.5h1M201 397.5h1M201 398.5h1M201 399.5h1M201 400.5h1M201 402.5h1M201 403.5h1M201 405.5h1M202 394.5h1M202 395.5h1M202 396.5h1M202 397.5h1M202 399.5h1M202 400.5h1M202 402.5h1M202 404.5h1M203 395.5h1M203 396.5h1M203 400.5h1M204 394.5h1M204 395.5h1M204 397.5h1M204 399.5h1M204 400.5h1M205 393.5h1M205 396.5h1M205 397.5h1M205 398.5h1M205 399.5h1M205 400.5h1M205 402.5h1M205 403.5h1M206 396.5h1M206 397.5h1M206 398.5h1M206 401.5h1M206 410.5h1M207 393.5h1M207 394.5h1M207 395.5h1M207 396.5h1M207 397.5h1M207 398.5h1M207 399.5h1M207 409.5h1M208 395.5h1M208 398.5h1M208 399.5h1M209 393.5h1M209 397.5h1M209 399.5h1M209 400.5h1M210 395.5h1M210 396.5h1M210 399.5h1M210 414.5h1M211 393.5h1M211 394.5h1M211 395.5h1M211 396.5h1M211 398.5h1M212 395.5h1M212 398.5h1M213 400.5h1" stroke="#f0809e" stroke-width="1" stroke-opacity="0.6" fill="none"/><path d="M149 412.5h1M149 413.5h1M149 415.5h1M149 416.5h1M150 412.5h1M150 413.5h1M150 414.5h1M150 415.5h1M150 416.5h1M151 413.5h1M151 414.5h1M152 413.5h1M152 414.5h1M152 415.5h1M152 416.5h1M153 411.5h1M153 413.5h1M153 414.5h1M154 412.5h1M154 413.5h1M154 414.5h1M155 411.5h1M155 412.5h1M155 413.5h1M155 414.5h1M155 415.5h1M156 411.5h1M156 412.5h1M156 413.5h1M156 414.5h1M157 412.5h1M157 413.5h1M158 411.5h1M158 412.5h1M158 413.5h1M158 414.5h1M159 411.5h1M159 412.5h1M159 413.5h1M159 414.5h1M160 411.5h1M160 412.5h1M160 413.5h1M161 408.5h1M161 412.5h1M161 413.5h1M162 413.5h1M163 411.5h1M163 412.5h1M163 413.5h1M164 411.5h1M164 412.5h1M164 413.5h1M165 412.5h1M165 413.5h1M165 414.5h1M166 411.5h1M166 413.5h1M167 409.5h1M167 411.5h1M167 412.5h1M167 413.5h1M167 414.5h1M168 411.5h1M168 412.5h1M169 409.5h1M169 411.5h1M169 412.5h1M169 413.5h1M170 410.5h1M170 411.5h1M170 412.5h1M171 409.5h1M171 410.5h1M171 411.5h1M171 413.5h1M172 412.5h1M172 413.5h1M173 408.5h1M173 409.5h1M173 410.5h1M173 412.5h1M174 408.5h1M174 411.5h1M175 405.5h1M175 410.5h1M175 411.5h1M176 405.5h1M176 408.5h1M176 410.5h1M176 411.5h1M176 412.5h1M177 405.5h1M177 407.5h1M177 408.5h1M177 409.5h1M177 410.5h1M177 411.5h1M178 406.5h1M178 407.5h1M178 408.5h1M178 409.5h1M178 410.5h1M178 411.5h1M178 412.5h1M179 404.5h1M179 405.5h1M179 406.5h1M179 407.5h1M179 408.5h1M179 409.5h1M179 410.5h1M179 411.5h1M179 412.5h1M179 413.5h1M179 414.5h1M180 406.5h1M180 407.5h1M180 408.5h1M180 409.5h1M180 410.5h1M180 411.5h1M180 412.5h1M180 413.5h1M181 404.5h1M181 405.5h1M181 406.5h1M181 407.5h1M181 408.5h1M181 409.5h1M181 410.5h1M181 412.5h1M181 413.5h1M181 414.5h1M182 402.5h1M182 404.5h1M182 405.5h1M182 406.5h1M182 407.5h1M182 408.5h1M182 409.5h1M182 410.5h1M182 411.5h1M182 413.5h1M182 416.5h1M183 402.5h1M183 404.5h1M183 405.5h1M183 407.5h1M183 408.5h1M183 409.5h1M183 410.5h1M183 411.5h1M183 412.5h1M183 413.5h1M183 414.5h1M183 415.5h1M184 403.5h1M184 404.5h1M184 405.5h1M184 406.5h1M184 407.5h1M184 408.5h1M184 409.5h1M184 410.5h1M184 411.5h1M185 402.5h1M185 403.5h1M185 404.5h1M185 405.5h1M185 406.5h1M185 407.5h1M185 408.5h1M185 409.5h1M185 410.5h1M186 403.5h1M186 404.5h1M186 405.5h1M186 406.5h1M186 407.5h1M186 408.5h1M186 409.5h1M186 410.5h1M186 411.5h1M186 412.5h1M187 398.5h1M187 402.5h1M187 404.5h1M187 405.5h1M187 406.5h1M187 407.5h1M187 408.5h1M187 409.5h1M187 410.5h1M188 400.5h1M188 402.5h1M188 403.5h1M188 404.5h1M188 405.5h1M188 406.5h1M188 407.5h1M188 408.5h1M188 409.5h1M188 410.5h1M188 411.5h1M188 412.5h1M189 401.5h1M189 402.5h1M189 403.5h1M189 404.5h1M189 405.5h1M189 406.5h1M189 407.5h1M189 408.5h1M189 409.5h1M190 401.5h1M190 402.5h1M190 403.5h1M190 405.5h1M190 406.5h1M190 407.5h1M191 400.5h1M191 402.5h1M191 403.5h1M191 404.5h1M191 406.5h1M191 407.5h1M191 408.5h1M191 409.5h1M192 399.5h1M192 400.5h1M192 401.5h1M192 402.5h1M192 403.5h1M192 404.5h1M192 405.5h1M192 406.5h1M192 407.5h1M192 408.5h1M192 409.5h1M193 398.5h1M193 399.5h1M193 400.5h1M193 401.5h1M193 402.5h1M193 403.5h1M193 404.5h1M193 405.5h1M193 406.5h1M194 398.5h1M194 400.5h1M194 401.5h1M194 402.5h1M194 403.5h1M194 404.5h1M194 405.5h1M194 406.5h1M194 408.5h1M195 400.5h1M195 401.5h1M195 402.5h1M195 403.5h1M195 404.5h1M195 405.5h1M195 406.5h1M196 395.5h1M196 396.5h1M196 398.5h1M196 399.5h1M196 400.5h1M196 401.5h1M196 402.5h1M196 403.5h1M196 404.5h1M196 405.5h1M196 407.5h1M196 408.5h1M197 396.5h1M197 398.5h1M197 400.5h1M197 401.5h1M197 402.5h1M197 403.5h1M197 404.5h1M197 405.5h1M197 407.5h1M198 396.5h1M198 398.5h1M198 399.5h1M198 400.5h1M198 401.5h1M198 402.5h1M198 403.5h1M198 405.5h1M199 396.5h1M199 397.5h1M199 398.5h1M199 399.5h1M199 400.5h1M199 401.5h1M199 402.5h1M199 403.5h1M199 404.5h1M199 405.5h1M199 406.5h1M200 396.5h1M200 397.5h1M200 398.5h1M200 399.5h1M200 400.5h1M200 401.5h1M200 402.5h1M200 404.5h1M200 408.5h1M201 398.5h1M201 399.5h1M201 400.5h1M201 401.5h1M201 402.5h1M201 403.5h1M201 404.5h1M201 406.5h1M202 396.5h1M202 397.5h1M202 399.5h1M202 400.5h1M202 401.5h1M202 402.5h1M202 403.5h1M202 404.5h1M203 394.5h1M203 396.5h1M203 397.5h1M203 398.5h1M203 399.5h1M203 400.5h1M203 402.5h1M204 396.5h1M204 397.5h1M204 398.5h1M204 399.5h1M204 400.5h1M205 394.5h1M205 396.5h1M205 397.5h1M205 398.5h1M206 395.5h1M206 396.5h1M206 397.5h1M206 398.5h1M206 399.5h1M207 394.5h1M207 395.5h1M207 396.5h1M207 397.5h1M207 398.5h1M208 393.5h1M208 394.5h1M208 395.5h1M208 396.5h1M208 397.5h1M209 393.5h1M209 394.5h1M209 395.5h1M209 396.5h1M209 397.5h1M210 393.5h1M210 394.5h1M210 395.5h1M210 396.5h1M210 397.5h1M211 393.5h1M211 394.5h1M211 395.5h1M211 396.5h1M212 396.5h1M213 396.5h1" stroke="#e01c50" stroke-width="1" stroke-opacity="0.85" fill="none"/><g stroke="#222" stroke-width="0.9" fill="none"><rect x="147.8" y="393.3" width="66.7" height="59.7"/><line x1="147.8" y1="417" x2="214.5" y2="417"/><line x1="197.2" y1="393.3" x2="197.2" y2="453"/></g><text x="147.8" y="457.2" font-size="3.4" text-anchor="middle" fill="#555">10<tspan dy="-1" font-size="2.4">0</tspan></text><line x1="147.8" y1="453" x2="147.8" y2="454" stroke="#444" stroke-width="0.5"/><text x="164.5" y="457.2" font-size="3.4" text-anchor="middle" fill="#555">10<tspan dy="-1" font-size="2.4">1</tspan></text><line x1="164.5" y1="453" x2="164.5" y2="454" stroke="#444" stroke-width="0.5"/><text x="181.2" y="457.2" font-size="3.4" text-anchor="middle" fill="#555">10<tspan dy="-1" font-size="2.4">2</tspan></text><line x1="181.2" y1="453" x2="181.2" y2="454" stroke="#444" stroke-width="0.5"/><text x="197.8" y="457.2" font-size="3.4" text-anchor="middle" fill="#555">10<tspan dy="-1" font-size="2.4">3</tspan></text><line x1="197.8" y1="453" x2="197.8" y2="454" stroke="#444" stroke-width="0.5"/><text x="214.5" y="457.2" font-size="3.4" text-anchor="middle" fill="#555">10<tspan dy="-1" font-size="2.4">4</tspan></text><line x1="214.5" y1="453" x2="214.5" y2="454" stroke="#444" stroke-width="0.5"/><text x="181.2" y="461.3" font-size="2.8" text-anchor="middle" fill="#666">FL1-H</text><text x="146.6" y="395.8" font-size="3.2" text-anchor="end" fill="#666">10<tspan dy="-1" font-size="2.3">1</tspan></text><text x="146.6" y="407.1" font-size="3.2" text-anchor="end" fill="#666">10<tspan dy="-1" font-size="2.3">1</tspan></text><text x="146.6" y="420" font-size="3.2" text-anchor="end" fill="#666">10<tspan dy="-1" font-size="2.3">1</tspan></text><text x="146.6" y="437.8" font-size="3.2" text-anchor="end" fill="#666">10<tspan dy="-1" font-size="2.3">1</tspan></text><text x="146.6" y="453" font-size="3.2" text-anchor="end" fill="#666">10<tspan dy="-1" font-size="2.3">1</tspan></text><text transform="translate(142.8,420) rotate(-90)" font-size="2.8" text-anchor="middle" fill="#777">FL2-H</text><rect x="151.5" y="394.4" width="36.3" height="5.8" fill="#fff"/><text class="s" x="152.3" y="399" font-size="5.8" text-anchor="start" fill="#111" stroke="#111" stroke-width="0.45" textLength="34.7" lengthAdjust="spacingAndGlyphs" xml:space="preserve">CH11-treated</text><path d="M63 523.5h1M64 512.5h1M64 515.5h1M64 520.5h1M64 527.5h1M64 530.5h1M65 514.5h1M65 523.5h1M65 526.5h1M66 501.5h1M66 505.5h1M66 511.5h1M66 517.5h1M66 521.5h1M66 522.5h1M66 524.5h1M66 527.5h1M67 504.5h1M67 506.5h1M67 512.5h1M67 522.5h1M67 525.5h1M67 526.5h1M67 531.5h1M68 524.5h1M69 514.5h1M69 519.5h1M69 520.5h1M69 522.5h1M69 525.5h1M69 526.5h1M69 530.5h1M70 501.5h1M70 518.5h1M70 523.5h1M70 526.5h1M70 528.5h1M71 511.5h1M71 513.5h1M71 514.5h1M71 521.5h1M71 523.5h1M71 525.5h1M72 501.5h1M72 514.5h1M72 519.5h1M72 524.5h1M72 526.5h1M72 527.5h1M72 530.5h1M73 511.5h1M73 518.5h1M73 519.5h1M73 525.5h1M73 526.5h1M73 527.5h1M74 512.5h1M74 517.5h1M74 518.5h1M74 520.5h1M74 521.5h1M74 522.5h1M74 525.5h1M74 526.5h1M74 527.5h1M75 509.5h1M75 512.5h1M75 513.5h1M75 518.5h1M75 522.5h1M75 523.5h1M75 525.5h1M75 526.5h1M75 528.5h1M75 530.5h1M76 499.5h1M76 506.5h1M76 509.5h1M76 516.5h1M76 517.5h1M76 520.5h1M76 524.5h1M76 525.5h1M76 526.5h1M77 502.5h1M77 506.5h1M77 518.5h1M77 522.5h1M77 525.5h1M78 512.5h1M78 519.5h1M78 521.5h1M78 523.5h1M78 525.5h1M78 527.5h1M78 528.5h1M79 510.5h1M79 518.5h1M79 520.5h1M79 523.5h1M79 524.5h1M80 519.5h1M80 522.5h1M80 523.5h1M80 531.5h1M81 502.5h1M81 507.5h1M81 518.5h1M81 521.5h1M81 523.5h1M81 529.5h1M82 498.5h1M82 519.5h1M82 520.5h1M82 524.5h1M82 526.5h1M82 528.5h1M82 529.5h1M82 530.5h1M83 504.5h1M83 513.5h1M83 515.5h1M83 522.5h1M83 523.5h1M83 524.5h1M83 525.5h1M83 526.5h1M83 527.5h1M84 499.5h1M84 513.5h1M84 519.5h1M84 523.5h1M84 525.5h1M84 530.5h1M85 513.5h1M85 521.5h1M85 524.5h1M85 528.5h1M86 497.5h1M86 512.5h1M86 528.5h1M86 531.5h1M87 502.5h1M87 510.5h1M87 512.5h1M87 513.5h1M87 524.5h1M87 525.5h1M87 526.5h1M87 527.5h1M88 504.5h1M88 512.5h1M88 524.5h1M88 528.5h1M89 509.5h1M89 517.5h1M89 520.5h1M89 522.5h1M89 527.5h1M89 531.5h1M90 501.5h1M90 508.5h1M90 528.5h1M91 500.5h1M91 510.5h1M91 514.5h1M91 523.5h1M91 525.5h1M91 527.5h1M92 499.5h1M92 522.5h1M92 524.5h1M92 525.5h1M92 526.5h1M92 529.5h1M93 508.5h1M93 512.5h1M93 522.5h1M93 530.5h1M94 511.5h1M94 513.5h1M94 519.5h1M94 521.5h1M95 512.5h1M95 519.5h1M95 525.5h1M95 527.5h1M95 529.5h1M95 531.5h1M96 524.5h1M96 526.5h1M96 529.5h1M96 530.5h1M97 523.5h1M98 513.5h1M99 507.5h1M99 526.5h1M99 527.5h1M100 513.5h1M100 514.5h1M100 522.5h1M100 527.5h1M101 503.5h1M101 508.5h1M101 527.5h1M101 528.5h1M102 513.5h1M102 518.5h1M102 521.5h1M102 525.5h1M102 528.5h1M103 509.5h1M103 527.5h1M103 530.5h1M104 523.5h1M104 528.5h1M105 499.5h1M105 512.5h1M105 521.5h1M105 523.5h1M105 524.5h1M105 526.5h1M106 505.5h1M106 520.5h1M106 521.5h1M106 523.5h1M107 503.5h1M107 522.5h1M107 526.5h1M107 529.5h1M108 509.5h1M108 527.5h1M108 528.5h1M109 499.5h1M109 509.5h1M110 528.5h1M110 530.5h1M111 499.5h1M111 508.5h1M111 527.5h1M112 511.5h1M112 518.5h1M113 531.5h1M114 505.5h1M114 509.5h1M114 511.5h1M114 527.5h1M114 530.5h1M115 527.5h1M116 504.5h1M116 514.5h1M116 520.5h1M117 505.5h1M117 512.5h1M117 515.5h1M118 522.5h1M120 510.5h1M120 525.5h1M121 525.5h1M122 499.5h1M122 508.5h1M122 510.5h1M122 527.5h1M123 499.5h1M123 528.5h1M124 517.5h1M124 529.5h1M126 524.5h1M127 524.5h1M128 512.5h1M129 498.5h1M129 507.5h1" stroke="#444" stroke-width="1" stroke-opacity="0.7" fill="none"/><path d="M97 515.5h1M98 519.5h1M99 522.5h1M100 512.5h1M100 520.5h1M100 521.5h1M100 526.5h1M101 510.5h1M101 511.5h1M101 515.5h1M101 518.5h1M101 519.5h1M101 520.5h1M101 522.5h1M101 524.5h1M101 530.5h1M102 498.5h1M102 506.5h1M102 508.5h1M102 509.5h1M102 511.5h1M102 513.5h1M102 515.5h1M102 517.5h1M102 521.5h1M102 524.5h1M103 504.5h1M103 506.5h1M103 511.5h1M103 513.5h1M103 514.5h1M103 515.5h1M103 516.5h1M103 517.5h1M103 518.5h1M103 523.5h1M103 525.5h1M103 527.5h1M104 503.5h1M104 509.5h1M104 510.5h1M104 512.5h1M104 513.5h1M104 514.5h1M104 517.5h1M104 518.5h1M104 520.5h1M104 521.5h1M104 523.5h1M104 524.5h1M104 531.5h1M105 498.5h1M105 503.5h1M105 506.5h1M105 509.5h1M105 512.5h1M105 513.5h1M105 514.5h1M105 517.5h1M105 518.5h1M105 520.5h1M105 522.5h1M105 525.5h1M105 527.5h1M105 529.5h1M106 506.5h1M106 507.5h1M106 513.5h1M106 516.5h1M106 517.5h1M106 518.5h1M106 519.5h1M106 520.5h1M106 521.5h1M106 522.5h1M106 524.5h1M106 525.5h1M106 527.5h1M107 501.5h1M107 506.5h1M107 509.5h1M107 511.5h1M107 513.5h1M107 515.5h1M107 516.5h1M107 517.5h1M107 518.5h1M107 519.5h1M107 522.5h1M107 523.5h1M107 527.5h1M108 497.5h1M108 499.5h1M108 501.5h1M108 502.5h1M108 507.5h1M108 508.5h1M108 509.5h1M108 511.5h1M108 512.5h1M108 513.5h1M108 515.5h1M108 517.5h1M108 519.5h1M108 520.5h1M108 522.5h1M108 523.5h1M108 525.5h1M108 526.5h1M108 527.5h1M108 528.5h1M108 530.5h1M109 499.5h1M109 500.5h1M109 501.5h1M109 503.5h1M109 504.5h1M109 508.5h1M109 509.5h1M109 510.5h1M109 511.5h1M109 513.5h1M109 514.5h1M109 515.5h1M109 516.5h1M109 517.5h1M109 518.5h1M109 520.5h1M109 521.5h1M109 523.5h1M109 524.5h1M109 525.5h1M109 526.5h1M109 527.5h1M109 528.5h1M109 531.5h1M110 497.5h1M110 498.5h1M110 499.5h1M110 500.5h1M110 501.5h1M110 503.5h1M110 504.5h1M110 506.5h1M110 507.5h1M110 508.5h1M110 509.5h1M110 511.5h1M110 512.5h1M110 514.5h1M110 516.5h1M110 517.5h1M110 518.5h1M110 519.5h1M110 520.5h1M110 522.5h1M110 523.5h1M110 524.5h1M110 525.5h1M110 526.5h1M110 527.5h1M110 528.5h1M110 530.5h1M110 531.5h1M111 497.5h1M111 498.5h1M111 499.5h1M111 500.5h1M111 501.5h1M111 502.5h1M111 503.5h1M111 504.5h1M111 505.5h1M111 506.5h1M111 507.5h1M111 508.5h1M111 509.5h1M111 510.5h1M111 511.5h1M111 512.5h1M111 513.5h1M111 515.5h1M111 516.5h1M111 517.5h1M111 518.5h1M111 519.5h1M111 520.5h1M111 521.5h1M111 522.5h1M111 524.5h1M111 525.5h1M111 526.5h1M111 527.5h1M111 528.5h1M111 529.5h1M111 530.5h1M111 531.5h1M112 498.5h1M112 499.5h1M112 502.5h1M112 504.5h1M112 507.5h1M112 509.5h1M112 510.5h1M112 511.5h1M112 512.5h1M112 513.5h1M112 514.5h1M112 515.5h1M112 516.5h1M112 517.5h1M112 518.5h1M112 519.5h1M112 520.5h1M112 521.5h1M112 522.5h1M112 523.5h1M112 524.5h1M112 525.5h1M112 526.5h1M112 529.5h1M112 530.5h1M113 498.5h1M113 499.5h1M113 500.5h1M113 501.5h1M113 502.5h1M113 503.5h1M113 505.5h1M113 506.5h1M113 507.5h1M113 508.5h1M113 509.5h1M113 510.5h1M113 511.5h1M113 512.5h1M113 513.5h1M113 514.5h1M113 515.5h1M113 516.5h1M113 517.5h1M113 518.5h1M113 519.5h1M113 520.5h1M113 521.5h1M113 522.5h1M113 523.5h1M113 524.5h1M113 525.5h1M113 526.5h1M113 527.5h1M113 528.5h1M113 529.5h1M113 530.5h1M114 497.5h1M114 498.5h1M114 499.5h1M114 500.5h1M114 501.5h1M114 502.5h1M114 503.5h1M114 505.5h1M114 506.5h1M114 508.5h1M114 509.5h1M114 510.5h1M114 511.5h1M114 512.5h1M114 513.5h1M114 514.5h1M114 516.5h1M114 517.5h1M114 518.5h1M114 519.5h1M114 520.5h1M114 521.5h1M114 522.5h1M114 523.5h1M114 524.5h1M114 525.5h1M114 526.5h1M114 530.5h1M114 531.5h1M115 498.5h1M115 499.5h1M115 500.5h1M115 501.5h1M115 503.5h1M115 504.5h1M115 505.5h1M115 506.5h1M115 507.5h1M115 508.5h1M115 510.5h1M115 511.5h1M115 512.5h1M115 513.5h1M115 514.5h1M115 516.5h1M115 517.5h1M115 518.5h1M115 519.5h1M115 520.5h1M115 521.5h1M115 522.5h1M115 523.5h1M115 524.5h1M115 525.5h1M115 526.5h1M115 528.5h1M115 529.5h1M115 531.5h1M116 499.5h1M116 500.5h1M116 501.5h1M116 503.5h1M116 504.5h1M116 506.5h1M116 507.5h1M116 508.5h1M116 509.5h1M116 511.5h1M116 512.5h1M116 513.5h1M116 514.5h1M116 516.5h1M116 517.5h1M116 518.5h1M116 519.5h1M116 520.5h1M116 521.5h1M116 522.5h1M116 525.5h1M116 526.5h1M116 527.5h1M116 528.5h1M116 529.5h1M116 530.5h1M116 531.5h1M117 497.5h1M117 498.5h1M117 500.5h1M117 501.5h1M117 502.5h1M117 503.5h1M117 504.5h1M117 505.5h1M117 506.5h1M117 507.5h1M117 508.5h1M117 509.5h1M117 510.5h1M117 511.5h1M117 512.5h1M117 513.5h1M117 515.5h1M117 516.5h1M117 517.5h1M117 518.5h1M117 519.5h1M117 520.5h1M117 521.5h1M117 522.5h1M117 523.5h1M117 524.5h1M117 525.5h1M117 526.5h1M117 528.5h1M117 529.5h1M117 530.5h1M117 531.5h1M118 497.5h1M118 500.5h1M118 501.5h1M118 502.5h1M118 503.5h1M118 504.5h1M118 505.5h1M118 506.5h1M118 507.5h1M118 508.5h1M118 509.5h1M118 510.5h1M118 511.5h1M118 512.5h1M118 513.5h1M118 514.5h1M118 515.5h1M118 516.5h1M118 517.5h1M118 519.5h1M118 520.5h1M118 521.5h1M118 522.5h1M118 523.5h1M118 525.5h1M118 526.5h1M118 527.5h1M118 528.5h1M119 497.5h1M119 498.5h1M119 499.5h1M119 500.5h1M119 501.5h1M119 502.5h1M119 503.5h1M119 504.5h1M119 506.5h1M119 507.5h1M119 508.5h1M119 509.5h1M119 510.5h1M119 511.5h1M119 512.5h1M119 513.5h1M119 514.5h1M119 515.5h1M119 516.5h1M119 517.5h1M119 518.5h1M119 520.5h1M119 521.5h1M119 522.5h1M119 523.5h1M119 524.5h1M119 525.5h1M119 526.5h1M119 528.5h1M119 529.5h1M119 530.5h1M119 531.5h1M120 497.5h1M120 498.5h1M120 499.5h1M120 500.5h1M120 501.5h1M120 502.5h1M120 503.5h1M120 504.5h1M120 505.5h1M120 506.5h1M120 507.5h1M120 508.5h1M120 509.5h1M120 510.5h1M120 511.5h1M120 512.5h1M120 513.5h1M120 514.5h1M120 515.5h1M120 516.5h1M120 517.5h1M120 518.5h1M120 519.5h1M120 520.5h1M120 522.5h1M120 523.5h1M120 524.5h1M120 525.5h1M120 526.5h1M120 527.5h1M120 528.5h1M120 529.5h1M120 530.5h1M120 531.5h1M121 498.5h1M121 499.5h1M121 500.5h1M121 501.5h1M121 502.5h1M121 504.5h1M121 505.5h1M121 506.5h1M121 507.5h1M121 508.5h1M121 509.5h1M121 510.5h1M121 511.5h1M121 512.5h1M121 513.5h1M121 514.5h1M121 515.5h1M121 516.5h1M121 517.5h1M121 518.5h1M121 519.5h1M121 520.5h1M121 521.5h1M121 522.5h1M121 523.5h1M121 524.5h1M121 525.5h1M121 526.5h1M121 527.5h1M121 528.5h1M121 529.5h1M121 530.5h1M121 531.5h1M122 497.5h1M122 498.5h1M122 499.5h1M122 500.5h1M122 501.5h1M122 502.5h1M122 503.5h1M122 504.5h1M122 505.5h1M122 506.5h1M122 507.5h1M122 508.5h1M122 510.5h1M122 511.5h1M122 512.5h1M122 513.5h1M122 514.5h1M122 515.5h1M122 516.5h1M122 517.5h1M122 518.5h1M122 519.5h1M122 520.5h1M122 522.5h1M122 523.5h1M122 524.5h1M122 525.5h1M122 526.5h1M122 527.5h1M122 528.5h1M122 531.5h1M123 498.5h1M123 499.5h1M123 500.5h1M123 501.5h1M123 502.5h1M123 503.5h1M123 504.5h1M123 505.5h1M123 506.5h1M123 507.5h1M123 508.5h1M123 509.5h1M123 510.5h1M123 511.5h1M123 512.5h1M123 513.5h1M123 514.5h1M123 515.5h1M123 516.5h1M123 517.5h1M123 518.5h1M123 519.5h1M123 520.5h1M123 521.5h1M123 522.5h1M123 523.5h1M123 524.5h1M123 525.5h1M123 526.5h1M123 527.5h1M123 528.5h1M123 529.5h1M123 530.5h1M123 531.5h1M124 497.5h1M124 501.5h1M124 503.5h1M124 504.5h1M124 505.5h1M124 506.5h1M124 507.5h1M124 509.5h1M124 510.5h1M124 511.5h1M124 512.5h1M124 513.5h1M124 514.5h1M124 515.5h1M124 516.5h1M124 517.5h1M124 518.5h1M124 519.5h1M124 520.5h1M124 521.5h1M124 522.5h1M124 523.5h1M124 524.5h1M124 526.5h1M124 527.5h1M124 528.5h1M124 529.5h1M124 531.5h1M125 498.5h1M125 499.5h1M125 500.5h1M125 502.5h1M125 503.5h1M125 505.5h1M125 506.5h1M125 507.5h1M125 508.5h1M125 509.5h1M125 510.5h1M125 511.5h1M125 512.5h1M125 513.5h1M125 514.5h1M125 515.5h1M125 516.5h1M125 517.5h1M125 518.5h1M125 519.5h1M125 520.5h1M125 521.5h1M125 522.5h1M125 523.5h1M125 525.5h1M125 526.5h1M125 528.5h1M125 530.5h1M125 531.5h1M126 497.5h1M126 498.5h1M126 500.5h1M126 501.5h1M126 502.5h1M126 503.5h1M126 504.5h1M126 505.5h1M126 506.5h1M126 507.5h1M126 508.5h1M126 509.5h1M126 510.5h1M126 511.5h1M126 512.5h1M126 513.5h1M126 514.5h1M126 515.5h1M126 516.5h1M126 517.5h1M126 519.5h1M126 520.5h1M126 521.5h1M126 522.5h1M126 523.5h1M126 524.5h1M126 525.5h1M126 526.5h1M126 527.5h1M126 528.5h1M126 529.5h1M126 530.5h1M127 498.5h1M127 499.5h1M127 500.5h1M127 501.5h1M127 502.5h1M127 503.5h1M127 504.5h1M127 505.5h1M127 506.5h1M127 507.5h1M127 508.5h1M127 509.5h1M127 510.5h1M127 511.5h1M127 512.5h1M127 513.5h1M127 514.5h1M127 515.5h1M127 516.5h1M127 517.5h1M127 518.5h1M127 519.5h1M127 520.5h1M127 521.5h1M127 522.5h1M127 523.5h1M127 524.5h1M127 525.5h1M127 526.5h1M127 527.5h1M127 528.5h1M127 530.5h1M127 531.5h1M128 498.5h1M128 499.5h1M128 500.5h1M128 501.5h1M128 502.5h1M128 503.5h1M128 504.5h1M128 505.5h1M128 506.5h1M128 507.5h1M128 508.5h1M128 509.5h1M128 510.5h1M128 511.5h1M128 512.5h1M128 514.5h1M128 515.5h1M128 516.5h1M128 517.5h1M128 518.5h1M128 519.5h1M128 520.5h1M128 521.5h1M128 523.5h1M128 524.5h1M128 525.5h1M128 526.5h1M128 527.5h1M128 528.5h1M128 529.5h1M128 530.5h1M129 498.5h1M129 499.5h1M129 500.5h1M129 501.5h1M129 503.5h1M129 504.5h1M129 505.5h1M129 506.5h1M129 507.5h1M129 508.5h1M129 509.5h1M129 511.5h1M129 512.5h1M129 513.5h1M129 514.5h1M129 515.5h1M129 516.5h1M129 521.5h1M129 522.5h1M129 523.5h1M129 524.5h1M129 528.5h1M129 529.5h1M129 530.5h1" stroke="#222" stroke-width="1" stroke-opacity="0.82" fill="none"/><path d="M71 511.5h1M72 516.5h1M75 517.5h1M76 514.5h1M76 521.5h1M77 517.5h1M77 519.5h1M77 522.5h1M77 525.5h1M78 517.5h1M79 507.5h1M79 516.5h1M79 517.5h1M79 523.5h1M80 511.5h1M80 513.5h1M80 514.5h1M80 520.5h1M81 510.5h1M81 511.5h1M81 514.5h1M81 520.5h1M81 521.5h1M82 509.5h1M82 513.5h1M82 515.5h1M82 516.5h1M82 517.5h1M82 520.5h1M82 522.5h1M83 509.5h1M83 513.5h1M83 514.5h1M83 518.5h1M84 510.5h1M84 512.5h1M84 515.5h1M84 518.5h1M84 519.5h1M84 521.5h1M85 512.5h1M85 514.5h1M85 515.5h1M85 517.5h1M85 518.5h1M85 522.5h1M86 509.5h1M86 510.5h1M86 512.5h1M86 517.5h1M86 520.5h1M86 521.5h1M87 508.5h1M87 511.5h1M87 512.5h1M87 513.5h1M87 514.5h1M87 515.5h1M87 516.5h1M87 517.5h1M87 518.5h1M87 519.5h1M87 522.5h1M88 508.5h1M88 512.5h1M88 514.5h1M88 515.5h1M88 517.5h1M88 518.5h1M88 519.5h1M88 523.5h1M89 506.5h1M89 510.5h1M89 511.5h1M89 512.5h1M89 513.5h1M89 516.5h1M89 517.5h1M89 519.5h1M89 522.5h1M89 527.5h1M90 505.5h1M90 506.5h1M90 507.5h1M90 508.5h1M90 509.5h1M90 511.5h1M90 514.5h1M90 515.5h1M90 517.5h1M90 523.5h1M91 506.5h1M91 509.5h1M91 510.5h1M91 511.5h1M91 512.5h1M91 513.5h1M91 514.5h1M91 515.5h1M91 517.5h1M91 520.5h1M91 523.5h1M92 510.5h1M92 513.5h1M92 515.5h1M92 517.5h1M92 518.5h1M92 520.5h1M93 508.5h1M93 509.5h1M93 510.5h1M93 511.5h1M93 512.5h1M93 514.5h1M93 516.5h1M93 518.5h1M93 519.5h1M93 520.5h1M93 522.5h1M94 510.5h1M94 511.5h1M94 512.5h1M94 513.5h1M94 515.5h1M94 516.5h1M94 520.5h1M94 522.5h1M95 508.5h1M95 509.5h1M95 512.5h1M95 513.5h1M95 514.5h1M95 516.5h1M95 517.5h1M96 509.5h1M96 511.5h1M96 512.5h1M96 516.5h1M96 517.5h1M96 518.5h1M97 508.5h1M97 509.5h1M97 510.5h1M97 512.5h1M97 513.5h1M97 516.5h1M97 518.5h1M97 519.5h1M97 522.5h1M97 524.5h1M98 507.5h1M98 508.5h1M98 512.5h1M98 513.5h1M98 516.5h1M98 518.5h1M98 521.5h1M99 507.5h1M99 508.5h1M99 510.5h1M99 513.5h1M99 515.5h1M99 516.5h1M99 517.5h1M99 519.5h1M99 520.5h1M99 522.5h1M100 507.5h1M100 515.5h1M100 516.5h1M100 517.5h1M100 521.5h1M101 510.5h1M101 511.5h1M101 512.5h1M101 513.5h1M101 514.5h1M101 515.5h1M101 519.5h1M101 521.5h1M101 525.5h1M102 507.5h1M102 509.5h1M102 514.5h1M102 516.5h1M102 517.5h1M103 500.5h1M103 508.5h1M103 511.5h1M103 512.5h1M103 513.5h1M103 514.5h1M103 518.5h1M103 519.5h1M103 522.5h1M104 509.5h1M104 510.5h1M104 513.5h1M104 516.5h1M104 520.5h1M104 522.5h1M105 507.5h1M105 511.5h1M105 517.5h1M105 521.5h1M106 507.5h1M106 512.5h1M106 517.5h1M106 518.5h1M106 523.5h1M107 517.5h1M107 520.5h1M108 512.5h1M108 513.5h1M108 517.5h1M108 522.5h1M109 507.5h1M109 511.5h1M109 520.5h1M112 520.5h1M113 527.5h1M114 522.5h1M119 508.5h1" stroke="#98e698" stroke-width="1" stroke-opacity="0.8" fill="none"/><path d="M75 511.5h1M75 513.5h1M78 510.5h1M78 512.5h1M80 511.5h1M80 513.5h1M80 514.5h1M80 516.5h1M80 519.5h1M81 509.5h1M81 511.5h1M81 512.5h1M81 518.5h1M82 510.5h1M82 511.5h1M82 512.5h1M82 513.5h1M82 514.5h1M82 515.5h1M82 519.5h1M82 521.5h1M82 522.5h1M83 512.5h1M83 513.5h1M83 515.5h1M83 516.5h1M83 517.5h1M83 519.5h1M84 510.5h1M84 512.5h1M84 514.5h1M84 515.5h1M84 516.5h1M84 517.5h1M84 518.5h1M85 511.5h1M85 512.5h1M85 513.5h1M85 514.5h1M85 515.5h1M85 516.5h1M85 517.5h1M85 518.5h1M85 519.5h1M86 508.5h1M86 509.5h1M86 510.5h1M86 511.5h1M86 512.5h1M86 513.5h1M86 514.5h1M86 515.5h1M86 516.5h1M86 517.5h1M86 518.5h1M86 519.5h1M86 521.5h1M87 507.5h1M87 509.5h1M87 510.5h1M87 511.5h1M87 512.5h1M87 513.5h1M87 514.5h1M87 515.5h1M87 516.5h1M87 517.5h1M87 518.5h1M87 519.5h1M87 520.5h1M87 521.5h1M87 523.5h1M88 506.5h1M88 509.5h1M88 511.5h1M88 512.5h1M88 513.5h1M88 514.5h1M88 515.5h1M88 516.5h1M88 517.5h1M88 518.5h1M88 519.5h1M88 520.5h1M88 521.5h1M88 522.5h1M89 503.5h1M89 509.5h1M89 510.5h1M89 511.5h1M89 512.5h1M89 513.5h1M89 514.5h1M89 515.5h1M89 516.5h1M89 517.5h1M89 518.5h1M89 519.5h1M89 520.5h1M89 522.5h1M89 524.5h1M89 525.5h1M90 508.5h1M90 509.5h1M90 510.5h1M90 511.5h1M90 512.5h1M90 513.5h1M90 514.5h1M90 515.5h1M90 516.5h1M90 517.5h1M90 518.5h1M90 519.5h1M90 520.5h1M90 521.5h1M90 522.5h1M90 525.5h1M91 505.5h1M91 508.5h1M91 509.5h1M91 510.5h1M91 511.5h1M91 512.5h1M91 513.5h1M91 514.5h1M91 515.5h1M91 516.5h1M91 517.5h1M91 518.5h1M91 519.5h1M91 520.5h1M92 508.5h1M92 509.5h1M92 510.5h1M92 511.5h1M92 512.5h1M92 513.5h1M92 514.5h1M92 515.5h1M92 516.5h1M92 517.5h1M92 519.5h1M92 520.5h1M92 523.5h1M92 524.5h1M93 508.5h1M93 509.5h1M93 510.5h1M93 511.5h1M93 512.5h1M93 513.5h1M93 514.5h1M93 515.5h1M93 516.5h1M93 517.5h1M93 518.5h1M93 519.5h1M93 520.5h1M93 522.5h1M93 523.5h1M93 524.5h1M93 525.5h1M94 507.5h1M94 508.5h1M94 509.5h1M94 510.5h1M94 511.5h1M94 512.5h1M94 513.5h1M94 514.5h1M94 515.5h1M94 516.5h1M94 517.5h1M94 518.5h1M94 519.5h1M94 521.5h1M95 509.5h1M95 510.5h1M95 511.5h1M95 512.5h1M95 513.5h1M95 514.5h1M95 515.5h1M95 516.5h1M95 517.5h1M95 519.5h1M96 508.5h1M96 511.5h1M96 512.5h1M96 513.5h1M96 514.5h1M96 515.5h1M96 516.5h1M96 517.5h1M96 518.5h1M96 519.5h1M96 520.5h1M96 521.5h1M97 506.5h1M97 508.5h1M97 509.5h1M97 510.5h1M97 511.5h1M97 512.5h1M97 513.5h1M97 514.5h1M97 515.5h1M97 516.5h1M97 517.5h1M97 518.5h1M97 519.5h1M97 520.5h1M97 521.5h1M97 522.5h1M97 525.5h1M98 506.5h1M98 507.5h1M98 508.5h1M98 509.5h1M98 510.5h1M98 511.5h1M98 512.5h1M98 513.5h1M98 514.5h1M98 515.5h1M98 516.5h1M98 518.5h1M98 519.5h1M98 520.5h1M99 507.5h1M99 508.5h1M99 510.5h1M99 511.5h1M99 512.5h1M99 513.5h1M99 514.5h1M99 515.5h1M99 516.5h1M99 517.5h1M99 518.5h1M99 519.5h1M99 520.5h1M99 521.5h1M100 505.5h1M100 508.5h1M100 509.5h1M100 510.5h1M100 511.5h1M100 512.5h1M100 513.5h1M100 515.5h1M100 516.5h1M100 517.5h1M100 518.5h1M100 520.5h1M100 522.5h1M101 507.5h1M101 510.5h1M101 511.5h1M101 512.5h1M101 515.5h1M101 516.5h1M101 517.5h1M101 518.5h1M101 520.5h1M102 505.5h1M102 511.5h1M102 513.5h1M102 514.5h1M102 515.5h1M102 516.5h1M102 519.5h1M102 523.5h1M103 508.5h1M103 511.5h1M103 512.5h1M103 513.5h1M103 514.5h1M103 515.5h1M103 516.5h1M103 517.5h1M103 518.5h1M103 520.5h1M104 506.5h1M104 508.5h1M104 510.5h1M104 511.5h1M104 512.5h1M104 514.5h1M104 516.5h1M104 517.5h1M105 507.5h1M105 514.5h1M105 516.5h1M105 517.5h1M105 521.5h1M106 512.5h1M106 519.5h1M106 520.5h1M107 514.5h1M107 517.5h1M107 518.5h1M107 519.5h1M108 512.5h1M108 514.5h1M108 515.5h1M108 517.5h1M109 514.5h1M110 516.5h1M111 517.5h1" stroke="#48d248" stroke-width="1" stroke-opacity="0.85" fill="none"/><path d="M63 485.5h1M64 479.5h1M64 487.5h1M64 489.5h1M64 492.5h1M64 493.5h1M65 487.5h1M65 489.5h1M65 491.5h1M66 484.5h1M66 485.5h1M66 487.5h1M66 489.5h1M66 490.5h1M66 491.5h1M66 494.5h1M67 486.5h1M67 487.5h1M67 488.5h1M67 491.5h1M67 492.5h1M67 494.5h1M68 487.5h1M68 489.5h1M68 491.5h1M68 492.5h1M69 481.5h1M69 486.5h1M69 487.5h1M69 488.5h1M69 490.5h1M69 491.5h1M69 492.5h1M70 485.5h1M70 487.5h1M70 489.5h1M70 491.5h1M70 492.5h1M70 495.5h1M71 484.5h1M71 489.5h1M71 490.5h1M71 492.5h1M71 496.5h1M72 482.5h1M72 484.5h1M72 488.5h1M72 489.5h1M72 492.5h1M72 494.5h1M73 486.5h1M73 487.5h1M73 489.5h1M73 490.5h1M73 494.5h1M74 483.5h1M74 486.5h1M74 489.5h1M74 490.5h1M75 484.5h1M75 485.5h1M75 486.5h1M75 489.5h1M76 481.5h1M76 486.5h1M76 489.5h1M76 490.5h1M76 492.5h1M76 493.5h1M76 494.5h1M77 481.5h1M77 489.5h1M77 491.5h1M78 486.5h1M78 487.5h1M78 488.5h1M78 491.5h1M78 492.5h1M78 495.5h1M79 480.5h1M79 486.5h1M79 490.5h1M79 491.5h1M80 486.5h1M80 491.5h1M80 494.5h1M81 487.5h1M81 489.5h1M81 490.5h1M81 492.5h1M82 485.5h1M82 487.5h1M82 489.5h1M82 491.5h1M83 484.5h1M83 487.5h1M83 489.5h1M83 492.5h1M83 493.5h1M83 494.5h1M83 495.5h1M84 483.5h1M84 484.5h1M84 487.5h1M84 488.5h1M84 489.5h1M84 490.5h1M84 491.5h1M84 492.5h1M85 484.5h1M85 485.5h1M85 486.5h1M85 487.5h1M85 488.5h1M85 489.5h1M85 492.5h1M86 487.5h1M86 488.5h1M86 490.5h1M86 491.5h1M86 494.5h1M87 485.5h1M87 487.5h1M87 488.5h1M87 489.5h1M87 491.5h1M87 493.5h1M88 484.5h1M88 486.5h1M88 487.5h1M88 488.5h1M88 489.5h1M88 490.5h1M88 491.5h1M89 485.5h1M89 486.5h1M89 487.5h1M89 488.5h1M89 489.5h1M89 490.5h1M89 492.5h1M90 484.5h1M90 485.5h1M90 487.5h1M90 489.5h1M90 490.5h1M90 491.5h1M90 492.5h1M91 481.5h1M91 483.5h1M91 486.5h1M91 492.5h1M91 493.5h1M92 482.5h1M92 488.5h1M92 489.5h1M92 490.5h1M93 484.5h1M93 487.5h1M93 488.5h1M93 489.5h1M94 483.5h1M94 484.5h1M94 485.5h1M94 486.5h1M94 487.5h1M94 488.5h1M94 489.5h1M94 491.5h1M94 492.5h1M95 479.5h1M95 483.5h1M95 484.5h1M95 485.5h1M95 486.5h1M95 487.5h1M95 490.5h1M96 474.5h1M96 486.5h1M96 487.5h1M96 488.5h1M96 489.5h1M96 490.5h1M96 491.5h1M96 494.5h1M97 483.5h1M97 484.5h1M97 485.5h1M97 488.5h1M97 491.5h1M97 492.5h1M97 493.5h1M98 474.5h1M98 482.5h1M98 483.5h1M98 484.5h1M98 485.5h1M98 486.5h1M98 489.5h1M98 490.5h1M98 491.5h1M99 481.5h1M99 483.5h1M99 485.5h1M99 486.5h1M99 487.5h1M99 488.5h1M99 491.5h1M100 485.5h1M100 487.5h1M100 488.5h1M100 491.5h1M101 483.5h1M101 485.5h1M101 486.5h1M101 488.5h1M101 493.5h1M102 481.5h1M102 482.5h1M102 485.5h1M102 486.5h1M102 487.5h1M102 489.5h1M103 480.5h1M103 485.5h1M103 486.5h1M103 487.5h1M103 488.5h1M103 491.5h1M104 483.5h1M104 485.5h1M104 486.5h1M104 488.5h1M104 489.5h1M104 490.5h1M104 493.5h1M105 481.5h1M105 484.5h1M105 486.5h1M105 488.5h1M105 489.5h1M105 490.5h1M106 486.5h1M106 487.5h1M106 488.5h1M106 489.5h1M106 490.5h1M106 491.5h1M106 493.5h1M107 484.5h1M107 485.5h1M107 487.5h1M107 489.5h1M108 481.5h1M108 484.5h1M108 487.5h1M108 488.5h1M108 489.5h1M108 490.5h1M109 480.5h1M109 482.5h1M109 485.5h1M109 486.5h1M109 487.5h1M109 489.5h1M110 484.5h1M110 486.5h1M110 487.5h1M111 481.5h1M111 484.5h1M111 485.5h1M111 487.5h1M111 490.5h1M111 492.5h1M112 478.5h1M112 484.5h1M112 487.5h1M112 489.5h1M112 490.5h1M112 492.5h1M113 477.5h1M113 485.5h1M113 486.5h1M113 487.5h1M113 492.5h1M114 485.5h1M114 488.5h1M115 483.5h1M115 484.5h1M115 485.5h1M115 489.5h1M115 490.5h1M116 484.5h1M116 485.5h1M116 486.5h1M116 487.5h1M116 490.5h1M117 482.5h1M117 483.5h1M117 485.5h1M117 488.5h1M117 489.5h1M118 485.5h1M118 486.5h1M118 487.5h1M118 489.5h1M118 490.5h1M119 480.5h1M119 484.5h1M119 486.5h1M119 488.5h1M119 489.5h1M120 482.5h1M120 484.5h1M120 485.5h1M120 487.5h1M120 489.5h1M120 490.5h1M121 481.5h1M121 482.5h1M121 486.5h1M121 488.5h1M121 490.5h1M121 493.5h1M121 495.5h1M122 485.5h1M122 488.5h1M122 490.5h1M122 491.5h1M123 480.5h1M123 481.5h1M123 486.5h1M123 487.5h1M124 488.5h1M124 489.5h1M124 491.5h1M124 492.5h1M125 482.5h1M125 483.5h1M125 484.5h1M125 485.5h1M125 493.5h1M126 482.5h1M126 484.5h1M126 485.5h1M127 481.5h1M127 485.5h1M127 487.5h1M127 489.5h1M128 480.5h1M128 483.5h1M128 485.5h1M128 487.5h1M128 489.5h1" stroke="#f0809e" stroke-width="1" stroke-opacity="0.6" fill="none"/><path d="M64 486.5h1M64 489.5h1M64 491.5h1M64 495.5h1M64 496.5h1M65 485.5h1M65 487.5h1M65 488.5h1M65 489.5h1M65 490.5h1M65 491.5h1M65 492.5h1M66 487.5h1M66 489.5h1M66 490.5h1M66 491.5h1M66 492.5h1M66 493.5h1M66 495.5h1M67 484.5h1M67 485.5h1M67 486.5h1M67 487.5h1M67 488.5h1M67 489.5h1M67 490.5h1M68 486.5h1M68 487.5h1M68 488.5h1M68 489.5h1M68 490.5h1M68 491.5h1M68 492.5h1M68 493.5h1M69 482.5h1M69 486.5h1M69 487.5h1M69 488.5h1M69 490.5h1M69 491.5h1M69 492.5h1M69 494.5h1M70 485.5h1M70 487.5h1M70 488.5h1M70 489.5h1M70 490.5h1M70 491.5h1M70 492.5h1M70 493.5h1M71 486.5h1M71 487.5h1M71 488.5h1M71 489.5h1M71 490.5h1M71 491.5h1M71 492.5h1M71 494.5h1M72 484.5h1M72 485.5h1M72 486.5h1M72 487.5h1M72 488.5h1M72 489.5h1M72 490.5h1M72 491.5h1M72 492.5h1M72 493.5h1M73 484.5h1M73 486.5h1M73 487.5h1M73 488.5h1M73 490.5h1M73 491.5h1M73 495.5h1M74 483.5h1M74 486.5h1M74 488.5h1M74 489.5h1M74 490.5h1M74 492.5h1M74 495.5h1M75 483.5h1M75 486.5h1M75 487.5h1M75 488.5h1M75 489.5h1M75 490.5h1M75 491.5h1M76 485.5h1M76 486.5h1M76 488.5h1M76 489.5h1M76 490.5h1M76 491.5h1M76 492.5h1M77 482.5h1M77 486.5h1M77 487.5h1M77 488.5h1M77 490.5h1M77 491.5h1M77 492.5h1M77 494.5h1M78 483.5h1M78 484.5h1M78 485.5h1M78 487.5h1M78 488.5h1M78 489.5h1M78 490.5h1M78 491.5h1M78 492.5h1M79 485.5h1M79 486.5h1M79 487.5h1M79 488.5h1M79 489.5h1M79 490.5h1M79 491.5h1M79 492.5h1M80 484.5h1M80 485.5h1M80 487.5h1M80 488.5h1M80 489.5h1M80 490.5h1M80 492.5h1M80 495.5h1M81 484.5h1M81 485.5h1M81 486.5h1M81 487.5h1M81 488.5h1M81 490.5h1M81 492.5h1M81 493.5h1M81 494.5h1M82 485.5h1M82 486.5h1M82 487.5h1M82 488.5h1M82 489.5h1M82 490.5h1M82 491.5h1M82 494.5h1M83 482.5h1M83 484.5h1M83 486.5h1M83 487.5h1M83 488.5h1M83 489.5h1M83 491.5h1M83 492.5h1M84 485.5h1M84 486.5h1M84 488.5h1M84 489.5h1M84 490.5h1M85 483.5h1M85 484.5h1M85 486.5h1M85 487.5h1M85 488.5h1M85 489.5h1M85 490.5h1M85 491.5h1M85 493.5h1M86 483.5h1M86 484.5h1M86 485.5h1M86 486.5h1M86 487.5h1M86 488.5h1M86 489.5h1M86 490.5h1M86 492.5h1M87 483.5h1M87 484.5h1M87 486.5h1M87 487.5h1M87 489.5h1M87 490.5h1M87 492.5h1M88 481.5h1M88 482.5h1M88 484.5h1M88 485.5h1M88 486.5h1M88 487.5h1M88 488.5h1M88 489.5h1M88 490.5h1M88 491.5h1M89 484.5h1M89 485.5h1M89 486.5h1M89 487.5h1M89 488.5h1M89 489.5h1M89 490.5h1M89 491.5h1M89 493.5h1M90 481.5h1M90 482.5h1M90 484.5h1M90 485.5h1M90 486.5h1M90 487.5h1M90 488.5h1M90 489.5h1M90 490.5h1M90 491.5h1M91 486.5h1M91 487.5h1M91 488.5h1M91 490.5h1M91 492.5h1M92 483.5h1M92 484.5h1M92 485.5h1M92 486.5h1M92 487.5h1M92 488.5h1M92 489.5h1M92 490.5h1M92 491.5h1M92 493.5h1M93 482.5h1M93 483.5h1M93 485.5h1M93 486.5h1M93 487.5h1M93 488.5h1M93 489.5h1M93 491.5h1M93 492.5h1M94 483.5h1M94 486.5h1M94 487.5h1M94 488.5h1M94 489.5h1M94 490.5h1M94 491.5h1M94 492.5h1M95 483.5h1M95 484.5h1M95 485.5h1M95 486.5h1M95 487.5h1M95 488.5h1M95 490.5h1M95 491.5h1M95 493.5h1M96 484.5h1M96 485.5h1M96 486.5h1M96 487.5h1M96 488.5h1M96 489.5h1M96 491.5h1M96 492.5h1M97 484.5h1M97 485.5h1M97 486.5h1M97 487.5h1M97 488.5h1M97 490.5h1M97 491.5h1M97 493.5h1M98 482.5h1M98 484.5h1M98 485.5h1M98 486.5h1M98 487.5h1M98 488.5h1M98 489.5h1M98 491.5h1M98 492.5h1M99 481.5h1M99 483.5h1M99 484.5h1M99 486.5h1M99 487.5h1M99 488.5h1M99 489.5h1M99 491.5h1M100 483.5h1M100 484.5h1M100 485.5h1M100 486.5h1M100 489.5h1M100 495.5h1M101 480.5h1M101 482.5h1M101 483.5h1M101 484.5h1M101 485.5h1M101 486.5h1M101 487.5h1M101 488.5h1M101 489.5h1M101 490.5h1M101 491.5h1M102 483.5h1M102 484.5h1M102 486.5h1M102 487.5h1M102 488.5h1M102 489.5h1M102 490.5h1M102 491.5h1M102 492.5h1M103 481.5h1M103 483.5h1M103 484.5h1M103 485.5h1M103 486.5h1M103 487.5h1M103 488.5h1M103 489.5h1M103 490.5h1M103 491.5h1M103 493.5h1M104 482.5h1M104 483.5h1M104 485.5h1M104 486.5h1M104 488.5h1M104 489.5h1M104 491.5h1M104 492.5h1M104 493.5h1M105 482.5h1M105 483.5h1M105 484.5h1M105 485.5h1M105 487.5h1M105 488.5h1M105 491.5h1M106 480.5h1M106 481.5h1M106 484.5h1M106 485.5h1M106 486.5h1M106 487.5h1M107 483.5h1M107 484.5h1M107 486.5h1M107 487.5h1M107 488.5h1M107 489.5h1M108 487.5h1M108 490.5h1M110 487.5h1M127 490.5h1M128 481.5h1M128 482.5h1M128 485.5h1M128 486.5h1M128 488.5h1M128 489.5h1M129 481.5h1M129 484.5h1M129 485.5h1M129 486.5h1M129 487.5h1M129 489.5h1M129 490.5h1M129 491.5h1M129 492.5h1" stroke="#e01c50" stroke-width="1" stroke-opacity="0.85" fill="none"/><g stroke="#222" stroke-width="0.9" fill="none"><rect x="63.2" y="472.2" width="66.8" height="60"/><line x1="63.2" y1="497" x2="130" y2="497"/><line x1="108.2" y1="472.2" x2="108.2" y2="532.2"/></g><text x="63.2" y="536.4" font-size="3.4" text-anchor="middle" fill="#555">10<tspan dy="-1" font-size="2.4">0</tspan></text><line x1="63.2" y1="532.2" x2="63.2" y2="533.2" stroke="#444" stroke-width="0.5"/><text x="79.9" y="536.4" font-size="3.4" text-anchor="middle" fill="#555">10<tspan dy="-1" font-size="2.4">1</tspan></text><line x1="79.9" y1="532.2" x2="79.9" y2="533.2" stroke="#444" stroke-width="0.5"/><text x="96.6" y="536.4" font-size="3.4" text-anchor="middle" fill="#555">10<tspan dy="-1" font-size="2.4">2</tspan></text><line x1="96.6" y1="532.2" x2="96.6" y2="533.2" stroke="#444" stroke-width="0.5"/><text x="113.3" y="536.4" font-size="3.4" text-anchor="middle" fill="#555">10<tspan dy="-1" font-size="2.4">3</tspan></text><line x1="113.3" y1="532.2" x2="113.3" y2="533.2" stroke="#444" stroke-width="0.5"/><text x="130" y="536.4" font-size="3.4" text-anchor="middle" fill="#555">10<tspan dy="-1" font-size="2.4">4</tspan></text><line x1="130" y1="532.2" x2="130" y2="533.2" stroke="#444" stroke-width="0.5"/><text x="96.6" y="540.5" font-size="2.8" text-anchor="middle" fill="#666">FL1-H</text><text x="62" y="474.7" font-size="3.2" text-anchor="end" fill="#666">10<tspan dy="-1" font-size="2.3">1</tspan></text><text x="62" y="486.6" font-size="3.2" text-anchor="end" fill="#666">10<tspan dy="-1" font-size="2.3">1</tspan></text><text x="62" y="500" font-size="3.2" text-anchor="end" fill="#666">10<tspan dy="-1" font-size="2.3">1</tspan></text><text x="62" y="517.4" font-size="3.2" text-anchor="end" fill="#666">10<tspan dy="-1" font-size="2.3">1</tspan></text><text x="62" y="532.2" font-size="3.2" text-anchor="end" fill="#666">10<tspan dy="-1" font-size="2.3">1</tspan></text><text transform="translate(58.2,500) rotate(-90)" font-size="2.8" text-anchor="middle" fill="#777">FL2-H</text><rect x="66.1" y="499.8" width="39.1" height="5.8" fill="#fff"/><text class="s" x="66.9" y="504.4" font-size="5.8" text-anchor="start" fill="#111" stroke="#111" stroke-width="0.45" textLength="37.5" lengthAdjust="spacingAndGlyphs" xml:space="preserve">Fas-L-inhibited</text><path d="M150 511.5h1M157 504.5h1M158 524.5h1M160 501.5h1M160 519.5h1M160 525.5h1M161 518.5h1M163 520.5h1M163 521.5h1M164 517.5h1M164 519.5h1M164 524.5h1M164 526.5h1M165 515.5h1M165 520.5h1M166 502.5h1M166 510.5h1M166 520.5h1M166 522.5h1M166 530.5h1M167 527.5h1M168 508.5h1M168 523.5h1M168 525.5h1M168 526.5h1M168 529.5h1M168 530.5h1M169 520.5h1M169 523.5h1M169 527.5h1M170 501.5h1M170 515.5h1M170 520.5h1M171 511.5h1M171 518.5h1M171 524.5h1M171 527.5h1M172 519.5h1M172 527.5h1M172 529.5h1M172 532.5h1M173 525.5h1M173 527.5h1M173 529.5h1M174 518.5h1M174 527.5h1M174 530.5h1M175 516.5h1M175 521.5h1M175 524.5h1M176 513.5h1M176 515.5h1M176 520.5h1M176 524.5h1M176 525.5h1M176 528.5h1M177 519.5h1M177 520.5h1M177 526.5h1M177 528.5h1M178 498.5h1M178 512.5h1M178 515.5h1M178 517.5h1M178 520.5h1M178 528.5h1M179 507.5h1M179 509.5h1M179 512.5h1M179 515.5h1M179 530.5h1M180 508.5h1M180 511.5h1M180 514.5h1M180 518.5h1M180 522.5h1M180 526.5h1M180 532.5h1M181 515.5h1M181 521.5h1M181 525.5h1M181 529.5h1M181 530.5h1M182 509.5h1M182 516.5h1M182 518.5h1M183 502.5h1M183 515.5h1M183 518.5h1M183 528.5h1M183 529.5h1M184 511.5h1M184 512.5h1M184 513.5h1M184 518.5h1M184 520.5h1M185 510.5h1M185 522.5h1M185 529.5h1M186 500.5h1M186 511.5h1M186 512.5h1M186 523.5h1M187 504.5h1M187 505.5h1M187 506.5h1M187 512.5h1M187 514.5h1M187 523.5h1M188 501.5h1M188 507.5h1M188 511.5h1M188 517.5h1M188 518.5h1M188 519.5h1M188 520.5h1M188 521.5h1M188 522.5h1M188 531.5h1M189 505.5h1M189 508.5h1M189 511.5h1M189 516.5h1M189 520.5h1M189 527.5h1M190 506.5h1M190 514.5h1M190 520.5h1M191 506.5h1M191 507.5h1M191 510.5h1M191 514.5h1M192 511.5h1M192 512.5h1M192 518.5h1M192 523.5h1M192 530.5h1M193 500.5h1M193 507.5h1M193 517.5h1M193 520.5h1M193 521.5h1M194 508.5h1M194 512.5h1M194 519.5h1M194 521.5h1M195 512.5h1M196 515.5h1M197 515.5h1M198 516.5h1M198 525.5h1M199 518.5h1M200 498.5h1M200 520.5h1M201 513.5h1M201 519.5h1M201 522.5h1M203 511.5h1M204 500.5h1M206 504.5h1M206 525.5h1M207 530.5h1M208 519.5h1M208 531.5h1M209 519.5h1M210 498.5h1M210 502.5h1" stroke="#444" stroke-width="1" stroke-opacity="0.7" fill="none"/><path d="M148 476.5h1M149 494.5h1M149 495.5h1M149 496.5h1M150 489.5h1M150 493.5h1M150 494.5h1M150 495.5h1M151 488.5h1M151 490.5h1M151 496.5h1M152 489.5h1M152 491.5h1M152 493.5h1M152 494.5h1M153 489.5h1M153 490.5h1M153 491.5h1M153 492.5h1M153 493.5h1M153 494.5h1M154 491.5h1M154 492.5h1M154 495.5h1M154 496.5h1M155 490.5h1M155 494.5h1M156 489.5h1M156 490.5h1M156 493.5h1M156 495.5h1M157 489.5h1M157 490.5h1M157 492.5h1M157 493.5h1M157 494.5h1M157 495.5h1M158 489.5h1M158 491.5h1M158 493.5h1M158 494.5h1M158 496.5h1M159 484.5h1M159 489.5h1M159 490.5h1M159 493.5h1M159 494.5h1M159 495.5h1M160 475.5h1M160 489.5h1M160 494.5h1M160 496.5h1M161 490.5h1M161 492.5h1M161 493.5h1M161 494.5h1M162 489.5h1M162 490.5h1M162 491.5h1M162 492.5h1M162 494.5h1M162 495.5h1M162 496.5h1M163 488.5h1M163 491.5h1M163 492.5h1M163 493.5h1M163 494.5h1M163 496.5h1M164 484.5h1M164 487.5h1M164 492.5h1M164 494.5h1M165 489.5h1M165 492.5h1M165 493.5h1M166 487.5h1M166 489.5h1M166 491.5h1M166 492.5h1M166 493.5h1M166 495.5h1M167 485.5h1M167 488.5h1M167 490.5h1M167 491.5h1M167 492.5h1M167 493.5h1M167 495.5h1M168 480.5h1M168 482.5h1M168 490.5h1M168 491.5h1M168 492.5h1M168 493.5h1M168 495.5h1M168 496.5h1M169 488.5h1M169 489.5h1M169 490.5h1M169 492.5h1M169 493.5h1M169 496.5h1M170 487.5h1M170 488.5h1M170 489.5h1M170 490.5h1M170 491.5h1M170 492.5h1M171 490.5h1M171 493.5h1M171 495.5h1M172 485.5h1M172 488.5h1M172 492.5h1M172 493.5h1M173 483.5h1M173 487.5h1M173 488.5h1M173 489.5h1M173 490.5h1M173 491.5h1M173 493.5h1M173 494.5h1M174 490.5h1M174 493.5h1M175 488.5h1M175 489.5h1M175 494.5h1M176 476.5h1M176 489.5h1M176 491.5h1M176 492.5h1M176 493.5h1M177 483.5h1M177 486.5h1M177 489.5h1M177 490.5h1M177 492.5h1M177 493.5h1M178 484.5h1M178 486.5h1M178 490.5h1M178 491.5h1M178 492.5h1M179 483.5h1M179 484.5h1M179 488.5h1M180 487.5h1M180 488.5h1M180 489.5h1M180 490.5h1M180 491.5h1M180 492.5h1M180 496.5h1M181 486.5h1M181 487.5h1M181 488.5h1M181 489.5h1M181 490.5h1M181 491.5h1M181 492.5h1M181 493.5h1M182 483.5h1M182 486.5h1M182 487.5h1M182 489.5h1M182 490.5h1M182 492.5h1M182 495.5h1M183 483.5h1M183 488.5h1M183 489.5h1M183 490.5h1M183 491.5h1M183 492.5h1M183 493.5h1M183 494.5h1M184 483.5h1M184 484.5h1M184 486.5h1M184 490.5h1M184 491.5h1M185 483.5h1M185 484.5h1M185 485.5h1M185 486.5h1M185 487.5h1M185 493.5h1M186 484.5h1M186 487.5h1M186 488.5h1M186 490.5h1M186 491.5h1M186 492.5h1M187 482.5h1M187 483.5h1M187 484.5h1M187 485.5h1M187 486.5h1M187 489.5h1M187 491.5h1M188 485.5h1M188 487.5h1M188 490.5h1M188 492.5h1M188 493.5h1M189 477.5h1M189 478.5h1M189 479.5h1M189 482.5h1M189 483.5h1M189 485.5h1M189 486.5h1M190 480.5h1M190 482.5h1M190 484.5h1M190 485.5h1M190 487.5h1M190 490.5h1M191 478.5h1M191 482.5h1M191 484.5h1M191 485.5h1M191 486.5h1M191 487.5h1M191 488.5h1M191 489.5h1M192 480.5h1M192 481.5h1M192 482.5h1M192 485.5h1M192 486.5h1M192 487.5h1M192 492.5h1M192 494.5h1M193 481.5h1M193 483.5h1M193 484.5h1M193 485.5h1M193 486.5h1M193 487.5h1M193 488.5h1M193 491.5h1M194 477.5h1M194 480.5h1M194 481.5h1M194 486.5h1M194 490.5h1M194 493.5h1M195 483.5h1M195 485.5h1M196 476.5h1M196 477.5h1M196 480.5h1M196 481.5h1M196 482.5h1M196 484.5h1M196 487.5h1M197 477.5h1M197 480.5h1M197 481.5h1M197 483.5h1M197 485.5h1M198 476.5h1M198 477.5h1M198 478.5h1M198 479.5h1M198 480.5h1M198 481.5h1M198 490.5h1M199 478.5h1M199 479.5h1M199 480.5h1M199 481.5h1M199 482.5h1M199 483.5h1M199 484.5h1M199 485.5h1M200 474.5h1M200 476.5h1M200 481.5h1M200 483.5h1M200 485.5h1M201 477.5h1M201 478.5h1M201 479.5h1M201 480.5h1M201 481.5h1M201 482.5h1M201 484.5h1M201 486.5h1M202 476.5h1M202 478.5h1M202 480.5h1M202 481.5h1M202 482.5h1M202 485.5h1M203 478.5h1M203 479.5h1M203 481.5h1M203 482.5h1M203 483.5h1M203 486.5h1M204 475.5h1M204 476.5h1M204 478.5h1M204 479.5h1M204 480.5h1M204 484.5h1M204 490.5h1M205 474.5h1M205 476.5h1M205 477.5h1M205 479.5h1M205 482.5h1M205 483.5h1M206 474.5h1M206 476.5h1M206 477.5h1M206 479.5h1M206 481.5h1M207 474.5h1M207 475.5h1M207 476.5h1M207 477.5h1M207 478.5h1M207 479.5h1M207 480.5h1M208 475.5h1M208 477.5h1M208 478.5h1M208 479.5h1M208 483.5h1M208 488.5h1M209 476.5h1M209 479.5h1M210 474.5h1M210 475.5h1M210 476.5h1M210 478.5h1M210 480.5h1M211 475.5h1M211 477.5h1M211 478.5h1M211 479.5h1M211 480.5h1M212 479.5h1M213 481.5h1" stroke="#f0809e" stroke-width="1" stroke-opacity="0.6" fill="none"/><path d="M149 493.5h1M149 494.5h1M149 496.5h1M150 491.5h1M150 493.5h1M150 494.5h1M150 495.5h1M151 493.5h1M151 494.5h1M151 495.5h1M152 491.5h1M152 492.5h1M152 494.5h1M153 493.5h1M153 495.5h1M154 492.5h1M154 493.5h1M154 494.5h1M154 496.5h1M155 493.5h1M155 494.5h1M155 497.5h1M156 492.5h1M156 493.5h1M156 494.5h1M156 495.5h1M157 492.5h1M157 493.5h1M157 494.5h1M157 495.5h1M158 490.5h1M158 492.5h1M158 494.5h1M158 495.5h1M159 492.5h1M159 493.5h1M159 494.5h1M159 495.5h1M160 492.5h1M160 493.5h1M160 495.5h1M161 492.5h1M161 493.5h1M161 495.5h1M162 491.5h1M162 492.5h1M162 493.5h1M162 494.5h1M163 490.5h1M163 491.5h1M163 492.5h1M163 493.5h1M163 494.5h1M164 491.5h1M164 492.5h1M164 493.5h1M165 493.5h1M165 494.5h1M166 491.5h1M166 492.5h1M166 494.5h1M167 490.5h1M167 492.5h1M167 493.5h1M167 494.5h1M168 490.5h1M168 491.5h1M168 492.5h1M169 490.5h1M169 491.5h1M169 492.5h1M169 494.5h1M170 489.5h1M170 490.5h1M170 491.5h1M170 493.5h1M171 489.5h1M171 490.5h1M171 492.5h1M171 493.5h1M172 490.5h1M172 491.5h1M172 492.5h1M172 493.5h1M173 490.5h1M173 491.5h1M173 492.5h1M173 494.5h1M174 491.5h1M174 492.5h1M175 489.5h1M175 490.5h1M175 491.5h1M175 492.5h1M175 493.5h1M175 495.5h1M176 488.5h1M176 490.5h1M176 491.5h1M176 492.5h1M177 490.5h1M177 491.5h1M177 492.5h1M178 491.5h1M178 492.5h1M179 484.5h1M179 488.5h1M179 490.5h1M179 491.5h1M180 484.5h1M180 486.5h1M180 487.5h1M180 489.5h1M180 490.5h1M180 492.5h1M181 486.5h1M181 487.5h1M181 488.5h1M181 489.5h1M181 490.5h1M181 491.5h1M181 492.5h1M182 486.5h1M182 487.5h1M182 488.5h1M182 489.5h1M182 490.5h1M182 491.5h1M182 492.5h1M183 482.5h1M183 484.5h1M183 485.5h1M183 488.5h1M183 489.5h1M183 490.5h1M183 491.5h1M183 492.5h1M183 493.5h1M184 482.5h1M184 484.5h1M184 485.5h1M184 486.5h1M184 487.5h1M184 488.5h1M184 489.5h1M184 490.5h1M184 491.5h1M184 492.5h1M184 493.5h1M184 494.5h1M185 485.5h1M185 486.5h1M185 487.5h1M185 488.5h1M185 489.5h1M185 490.5h1M185 491.5h1M185 492.5h1M185 494.5h1M186 484.5h1M186 486.5h1M186 487.5h1M186 488.5h1M186 489.5h1M186 491.5h1M186 492.5h1M186 493.5h1M186 494.5h1M187 483.5h1M187 484.5h1M187 485.5h1M187 486.5h1M187 487.5h1M187 488.5h1M187 489.5h1M187 490.5h1M187 492.5h1M187 493.5h1M187 495.5h1M188 483.5h1M188 484.5h1M188 485.5h1M188 486.5h1M188 487.5h1M188 488.5h1M188 490.5h1M188 491.5h1M188 492.5h1M188 493.5h1M189 480.5h1M189 483.5h1M189 485.5h1M189 486.5h1M189 487.5h1M189 488.5h1M189 489.5h1M189 490.5h1M189 491.5h1M189 495.5h1M190 482.5h1M190 483.5h1M190 484.5h1M190 485.5h1M190 486.5h1M190 487.5h1M190 488.5h1M190 489.5h1M190 491.5h1M190 492.5h1M191 479.5h1M191 481.5h1M191 482.5h1M191 483.5h1M191 485.5h1M191 486.5h1M191 487.5h1M191 488.5h1M191 489.5h1M191 490.5h1M191 491.5h1M192 483.5h1M192 484.5h1M192 485.5h1M192 486.5h1M192 487.5h1M192 488.5h1M192 489.5h1M192 490.5h1M192 491.5h1M192 492.5h1M193 479.5h1M193 480.5h1M193 481.5h1M193 482.5h1M193 484.5h1M193 485.5h1M193 486.5h1M193 487.5h1M193 489.5h1M193 490.5h1M193 491.5h1M193 492.5h1M194 480.5h1M194 481.5h1M194 482.5h1M194 483.5h1M194 484.5h1M194 485.5h1M194 488.5h1M194 489.5h1M194 491.5h1M195 480.5h1M195 483.5h1M195 484.5h1M195 485.5h1M195 486.5h1M195 487.5h1M195 488.5h1M196 477.5h1M196 479.5h1M196 480.5h1M196 481.5h1M196 482.5h1M196 483.5h1M196 484.5h1M196 485.5h1M196 486.5h1M196 487.5h1M196 488.5h1M196 489.5h1M196 492.5h1M197 478.5h1M197 480.5h1M197 481.5h1M197 482.5h1M197 483.5h1M197 484.5h1M197 485.5h1M197 486.5h1M197 487.5h1M197 488.5h1M197 489.5h1M198 476.5h1M198 477.5h1M198 478.5h1M198 479.5h1M198 480.5h1M198 481.5h1M198 482.5h1M198 483.5h1M198 484.5h1M198 485.5h1M198 487.5h1M198 489.5h1M198 490.5h1M199 476.5h1M199 478.5h1M199 479.5h1M199 480.5h1M199 481.5h1M199 482.5h1M199 483.5h1M199 484.5h1M199 485.5h1M199 486.5h1M199 489.5h1M200 478.5h1M200 479.5h1M200 480.5h1M200 481.5h1M200 482.5h1M200 483.5h1M200 484.5h1M200 485.5h1M200 486.5h1M201 476.5h1M201 478.5h1M201 479.5h1M201 480.5h1M201 481.5h1M201 482.5h1M201 483.5h1M201 484.5h1M201 485.5h1M201 489.5h1M202 477.5h1M202 478.5h1M202 479.5h1M202 480.5h1M202 481.5h1M202 482.5h1M202 483.5h1M202 484.5h1M203 477.5h1M203 478.5h1M203 479.5h1M203 480.5h1M203 481.5h1M203 482.5h1M203 483.5h1M203 484.5h1M203 485.5h1M204 477.5h1M204 478.5h1M204 479.5h1M204 480.5h1M204 482.5h1M204 483.5h1M204 484.5h1M204 485.5h1M205 475.5h1M205 476.5h1M205 477.5h1M205 478.5h1M205 479.5h1M205 480.5h1M205 481.5h1M205 483.5h1M205 484.5h1M205 490.5h1M206 476.5h1M206 477.5h1M206 478.5h1M206 479.5h1M206 480.5h1M206 481.5h1M206 483.5h1M207 476.5h1M207 477.5h1M207 478.5h1M207 479.5h1M207 480.5h1M207 481.5h1M208 474.5h1M208 475.5h1M208 476.5h1M208 477.5h1M208 478.5h1M208 479.5h1M208 480.5h1M209 474.5h1M209 475.5h1M209 476.5h1M209 477.5h1M209 478.5h1M209 479.5h1M210 474.5h1M210 475.5h1M210 476.5h1M210 477.5h1M210 478.5h1M210 479.5h1M210 480.5h1M211 474.5h1M211 475.5h1M211 476.5h1M211 477.5h1M211 478.5h1M211 479.5h1M212 476.5h1M212 477.5h1M212 478.5h1M213 479.5h1" stroke="#e01c50" stroke-width="1" stroke-opacity="0.85" fill="none"/><g stroke="#222" stroke-width="0.9" fill="none"><rect x="147.8" y="473.7" width="66.7" height="59.3"/><line x1="147.8" y1="497.7" x2="214.5" y2="497.7"/><line x1="197.5" y1="473.7" x2="197.5" y2="533"/></g><text x="147.8" y="537.2" font-size="3.4" text-anchor="middle" fill="#555">10<tspan dy="-1" font-size="2.4">0</tspan></text><line x1="147.8" y1="533" x2="147.8" y2="534" stroke="#444" stroke-width="0.5"/><text x="164.5" y="537.2" font-size="3.4" text-anchor="middle" fill="#555">10<tspan dy="-1" font-size="2.4">1</tspan></text><line x1="164.5" y1="533" x2="164.5" y2="534" stroke="#444" stroke-width="0.5"/><text x="181.2" y="537.2" font-size="3.4" text-anchor="middle" fill="#555">10<tspan dy="-1" font-size="2.4">2</tspan></text><line x1="181.2" y1="533" x2="181.2" y2="534" stroke="#444" stroke-width="0.5"/><text x="197.8" y="537.2" font-size="3.4" text-anchor="middle" fill="#555">10<tspan dy="-1" font-size="2.4">3</tspan></text><line x1="197.8" y1="533" x2="197.8" y2="534" stroke="#444" stroke-width="0.5"/><text x="214.5" y="537.2" font-size="3.4" text-anchor="middle" fill="#555">10<tspan dy="-1" font-size="2.4">4</tspan></text><line x1="214.5" y1="533" x2="214.5" y2="534" stroke="#444" stroke-width="0.5"/><text x="181.2" y="541.3" font-size="2.8" text-anchor="middle" fill="#666">FL1-H</text><text x="146.6" y="476.2" font-size="3.2" text-anchor="end" fill="#666">10<tspan dy="-1" font-size="2.3">1</tspan></text><text x="146.6" y="487.7" font-size="3.2" text-anchor="end" fill="#666">10<tspan dy="-1" font-size="2.3">1</tspan></text><text x="146.6" y="500.7" font-size="3.2" text-anchor="end" fill="#666">10<tspan dy="-1" font-size="2.3">1</tspan></text><text x="146.6" y="518.1" font-size="3.2" text-anchor="end" fill="#666">10<tspan dy="-1" font-size="2.3">1</tspan></text><text x="146.6" y="533" font-size="3.2" text-anchor="end" fill="#666">10<tspan dy="-1" font-size="2.3">1</tspan></text><text transform="translate(142.8,500.7) rotate(-90)" font-size="2.8" text-anchor="middle" fill="#777">FL2-H</text><rect x="151.9" y="474.9" width="36.2" height="5.8" fill="#fff"/><text class="s" x="152.7" y="479.5" font-size="5.8" text-anchor="start" fill="#111" stroke="#111" stroke-width="0.45" textLength="34.6" lengthAdjust="spacingAndGlyphs" xml:space="preserve">TRAIL-treated</text><text class="s" x="124.2" y="304" font-size="4.6" text-anchor="middle" fill="#111" stroke="#111" stroke-width="0.2" textLength="14.8" lengthAdjust="spacingAndGlyphs" >26.4%</text><polygon points="121,305.2 126,305.2 123.5,309.1" fill="#111"/><text class="s" x="208.3" y="304" font-size="4.6" text-anchor="middle" fill="#111" stroke="#111" stroke-width="0.2" textLength="14.8" lengthAdjust="spacingAndGlyphs" >12.5%</text><polygon points="204.5,306.7 209.5,306.7 207,310.8" fill="#111"/><text class="s" x="124.2" y="383.4" font-size="4.6" text-anchor="middle" fill="#111" stroke="#111" stroke-width="0.2" textLength="14.8" lengthAdjust="spacingAndGlyphs" >11.7%</text><polygon points="121.2,385.7 126.2,385.7 123.7,389.6" fill="#111"/><text class="s" x="207.8" y="385.5" font-size="4.6" text-anchor="middle" fill="#111" stroke="#111" stroke-width="0.2" textLength="14.8" lengthAdjust="spacingAndGlyphs" >31.9%</text><polygon points="204.8,387.2 209.8,387.2 207.3,391.1" fill="#111"/><text class="s" x="124.2" y="464.5" font-size="4.6" text-anchor="middle" fill="#111" stroke="#111" stroke-width="0.2" textLength="14.8" lengthAdjust="spacingAndGlyphs" >12.5%</text><polygon points="120.8,465.6 125.8,465.6 123.3,469.3" fill="#111"/><text class="s" x="207.8" y="465.6" font-size="4.6" text-anchor="middle" fill="#111" stroke="#111" stroke-width="0.2" textLength="14.8" lengthAdjust="spacingAndGlyphs" >40.2%</text><polygon points="204.3,467.3 209.3,467.3 206.8,471.4" fill="#111"/><text x="311.5" y="294.1" font-size="12.2" text-anchor="start" fill="#111" stroke="#111" stroke-width="0.61" textLength="8.7" lengthAdjust="spacingAndGlyphs" >D</text><g clip-path="url(#cl1)"><rect x="312" y="299" width="208" height="128.5" fill="#020212"/><ellipse cx="322" cy="320" rx="13" ry="24" fill="#2a40c8" opacity="1" filter="url(#b2)"/><ellipse cx="349" cy="320" rx="16" ry="18" fill="#2a3ec0" opacity="1" filter="url(#b2)"/><ellipse cx="387" cy="326" rx="22" ry="19.5" fill="#3a58d4" opacity="1" filter="url(#b2)"/><ellipse cx="387" cy="326" rx="18" ry="15.5" fill="#4a68da" opacity="1" filter="url(#b1)"/><ellipse cx="413" cy="309" rx="19" ry="11.5" fill="#3c5cd8" opacity="1" filter="url(#b2)"/><ellipse cx="417" cy="334" rx="11.5" ry="13.5" fill="#5070da" opacity="1" filter="url(#b2)"/><ellipse cx="439" cy="321" rx="13.5" ry="15" fill="#2a3cc0" opacity="1" filter="url(#b2)"/><ellipse cx="449" cy="351" rx="17.5" ry="14" fill="#2a40c8" opacity="1" filter="url(#b2)"/><ellipse cx="494" cy="317" rx="13" ry="12.5" fill="#4262dc" opacity="1" filter="url(#b2)"/><ellipse cx="509" cy="304" rx="12" ry="7" fill="#5070e0" opacity="1" filter="url(#b2)"/><ellipse cx="511" cy="333" rx="11.5" ry="14.5" fill="#5a80e0" opacity="1" filter="url(#b2)"/><ellipse cx="511" cy="333" rx="7" ry="9" fill="#6a90e8" opacity="1" filter="url(#b1)"/><ellipse cx="498" cy="347" rx="14.5" ry="12.5" fill="#2a40c8" opacity="1" filter="url(#b2)"/><ellipse cx="326" cy="374" rx="9" ry="7" fill="#1a2890" opacity="0.7" filter="url(#b2)"/><ellipse cx="372" cy="370" rx="6" ry="12" fill="#1a2890" opacity="0.55" filter="url(#b2)"/><ellipse cx="382" cy="399" rx="12" ry="10" fill="#1a2aa0" opacity="0.6" filter="url(#b2)"/><ellipse cx="427" cy="401" rx="15" ry="10" fill="#2438b8" opacity="0.9" filter="url(#b2)"/><ellipse cx="450" cy="383" rx="10" ry="12" fill="#2438c0" opacity="0.95" filter="url(#b2)"/><ellipse cx="451" cy="407" rx="11" ry="12" fill="#2a40d0" opacity="1" filter="url(#b2)"/><ellipse cx="512" cy="385" rx="9" ry="14" fill="#2438c0" opacity="0.95" filter="url(#b2)"/><ellipse cx="500" cy="413" rx="12" ry="10" fill="#1a2ca8" opacity="0.9" filter="url(#b2)"/><ellipse cx="326" cy="408" rx="8" ry="8" fill="#101c70" opacity="0.5" filter="url(#b2)"/><ellipse cx="390" cy="354" rx="14" ry="7" fill="#1a2a98" opacity="0.8" filter="url(#b2)"/><ellipse cx="350" cy="420" rx="14" ry="6" fill="#0c1660" opacity="0.5" filter="url(#b2)"/><ellipse cx="470" cy="420" rx="8" ry="6" fill="#101c80" opacity="0.5" filter="url(#b2)"/><circle cx="416.5" cy="348" r="2.8" fill="#609cf0" filter="url(#b05)"/><circle cx="421.5" cy="346.5" r="2.7" fill="#609cf0" filter="url(#b05)"/><circle cx="426" cy="349.5" r="2.6" fill="#609cf0" filter="url(#b05)"/><circle cx="428" cy="354.5" r="2.6" fill="#609cf0" filter="url(#b05)"/><circle cx="418" cy="353.5" r="2.5" fill="#609cf0" filter="url(#b05)"/><circle cx="415" cy="358.5" r="2.5" fill="#609cf0" filter="url(#b05)"/><circle cx="412.5" cy="363" r="2.6" fill="#609cf0" filter="url(#b05)"/><circle cx="418.5" cy="362.5" r="2.2" fill="#609cf0" filter="url(#b05)"/><circle cx="423.5" cy="358" r="2" fill="#609cf0" filter="url(#b05)"/><circle cx="418" cy="347.5" r="1.3" fill="#a0d0ff" filter="url(#b05)"/><circle cx="427" cy="354" r="1.3" fill="#a0d0ff" filter="url(#b05)"/><circle cx="413" cy="362.5" r="1.2" fill="#a0d0ff" filter="url(#b05)"/><path d="M419 364.2 L430 363.8 Q437 364 436.8 371 Q436.5 380 431 383.2 Q425 385 419 383.5 Q413.6 382 413.5 375 Q413.5 365.5 419 364.2Z" fill="#e01828" filter="url(#b05)"/><ellipse cx="425.2" cy="373.8" rx="9" ry="8.4" fill="#f064b0" filter="url(#b05)"/><ellipse cx="425" cy="373.6" rx="6.8" ry="6.4" fill="#fab8e6" filter="url(#b1)"/></g><g clip-path="url(#cl2)"><rect x="312" y="432.5" width="208" height="124.5" fill="#000006"/><ellipse cx="497" cy="505" rx="32" ry="58" fill="#1c1cd0" filter="url(#b3)"/><ellipse cx="462" cy="497" rx="24" ry="24" fill="#2020c8" filter="url(#b3)"/><ellipse cx="428" cy="442" rx="20" ry="14.5" fill="#2038e0" opacity="1" filter="url(#b2)"/><ellipse cx="428" cy="442" rx="15.5" ry="11.5" fill="#58c8ea" opacity="1" filter="url(#b1)"/><ellipse cx="385.6" cy="475" rx="22" ry="17.5" fill="#2a44e0" opacity="1" filter="url(#b2)"/><ellipse cx="385.6" cy="474" rx="18" ry="13.5" fill="#4272ea" opacity="1" filter="url(#b1)"/><ellipse cx="387.3" cy="504.4" rx="25.5" ry="20.5" fill="#b02070" opacity="1" filter="url(#b1)"/><ellipse cx="389" cy="503" rx="21.5" ry="17.5" fill="#5a2cbc" opacity="1" filter="url(#b1)"/><ellipse cx="341" cy="536" rx="22.5" ry="25" fill="#2030e0" opacity="1" filter="url(#b2)"/><ellipse cx="341" cy="536" rx="18.5" ry="21" fill="#7ae0e8" opacity="1" filter="url(#b1)"/><ellipse cx="313" cy="505" rx="8" ry="15" fill="#2a50e0" opacity="1" filter="url(#b2)"/><ellipse cx="313" cy="505" rx="5" ry="11" fill="#48a0e8" opacity="1" filter="url(#b1)"/><ellipse cx="490" cy="490" rx="22" ry="6" fill="#9030c8" opacity="1" filter="url(#b2)"/><ellipse cx="470" cy="480" rx="10" ry="8" fill="#4020c0" opacity="1" filter="url(#b2)"/><ellipse cx="462" cy="501.5" rx="20.5" ry="18.5" fill="#2030e8" opacity="1" filter="url(#b2)"/><ellipse cx="462" cy="501.5" rx="17.5" ry="15.5" fill="#84e4ec" opacity="1" filter="url(#b1)"/><ellipse cx="487" cy="472" rx="18.5" ry="20" fill="#2a34e8" opacity="1" filter="url(#b2)"/><ellipse cx="487" cy="472" rx="15" ry="16.5" fill="#66d0e8" opacity="1" filter="url(#b1)"/><ellipse cx="517" cy="467" rx="15" ry="21" fill="#3040e8" opacity="1" filter="url(#b2)"/><ellipse cx="517" cy="467" rx="12" ry="18" fill="#a0f0f2" opacity="1" filter="url(#b1)"/><ellipse cx="502" cy="509" rx="24" ry="20" fill="#2a38e8" opacity="1" filter="url(#b2)"/><ellipse cx="502" cy="509" rx="20.5" ry="17" fill="#86e2ec" opacity="1" filter="url(#b1)"/><ellipse cx="505" cy="545" rx="24" ry="19" fill="#3040e8" opacity="1" filter="url(#b2)"/><ellipse cx="505" cy="545" rx="20.5" ry="16" fill="#a0eef0" opacity="1" filter="url(#b1)"/><ellipse cx="486" cy="556" rx="11" ry="6" fill="#60c0e8" opacity="1" filter="url(#b1)"/><circle cx="484" cy="468" r="2" fill="#3050d8" filter="url(#b1)"/><circle cx="483" cy="478" r="1.8" fill="#3050d8" filter="url(#b1)"/><circle cx="506" cy="515" r="2" fill="#3050d8" filter="url(#b1)"/><ellipse cx="379.6" cy="496.5" rx="6.1" ry="4.8" fill="#b4f6f4" filter="url(#b05)"/><ellipse cx="389" cy="492.8" rx="6.1" ry="4.2" fill="#b4f6f4" filter="url(#b05)"/><ellipse cx="401" cy="499.5" rx="5.6" ry="5.199999999999999" fill="#b4f6f4" filter="url(#b05)"/><ellipse cx="375.2" cy="506.5" rx="4.8" ry="6.6" fill="#b4f6f4" filter="url(#b05)"/><ellipse cx="380" cy="513.5" rx="5.6" ry="4.0" fill="#b4f6f4" filter="url(#b05)"/><ellipse cx="389" cy="515.5" rx="5.8" ry="3.6" fill="#b4f6f4" filter="url(#b05)"/><ellipse cx="400" cy="508.6" rx="4.2" ry="4.8" fill="#b4f6f4" filter="url(#b05)"/><ellipse cx="384" cy="502" rx="3.1" ry="3.1" fill="#b4f6f4" filter="url(#b05)"/><ellipse cx="427" cy="495.5" rx="16.5" ry="14" fill="#d81848" filter="url(#b1)"/><circle cx="431.3" cy="493" r="7.2" fill="#ff80c0" filter="url(#b05)"/><circle cx="431.3" cy="493" r="5.5" fill="#fff4fa" filter="url(#b05)"/></g>
</svg>
</body></html>
